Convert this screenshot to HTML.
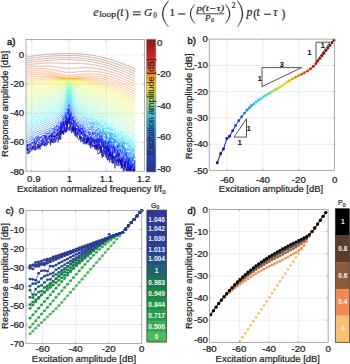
<!DOCTYPE html>
<html><head><meta charset="utf-8"><style>
html,body{margin:0;padding:0;background:#fff;}
body{width:350px;height:364px;overflow:hidden;position:relative;}
svg{position:absolute;left:0;top:0;font-family:'Liberation Sans', sans-serif;}
</style></head><body>
<svg width="350" height="364" viewBox="0 0 350 364">
<g font-family="'Liberation Serif', serif" fill="#1e1e1e" stroke="#1e1e1e" stroke-width="0.18"><text x="93.3" y="16.3" font-size="11.8" font-style="italic" >e</text><text x="99.2" y="17.3" font-size="7.6" font-style="normal" textLength="16.8" lengthAdjust="spacingAndGlyphs" >loop</text><text x="116.6" y="17.6" font-size="11.5" font-style="normal" >(</text><text x="120.2" y="16.3" font-size="11.8" font-style="italic" >t</text><text x="125.0" y="17.6" font-size="11.5" font-style="normal" >)</text><rect x="133.1" y="11.6" width="7.6" height="0.85" fill="#1e1e1e"/><rect x="133.1" y="14.3" width="7.6" height="0.85" fill="#1e1e1e"/><text x="144.0" y="16.4" font-size="11.2" font-style="italic" >G</text><text x="153.3" y="17.9" font-size="7.2" font-style="normal" >0</text><path d="M168.40,0.60 Q155.80,13.80 168.40,27.00 L168.55,26.70 Q157.80,13.80 168.55,0.90 Z" fill="#1e1e1e"/><text x="169.6" y="16.4" font-size="11.2" font-style="normal" >1</text><rect x="178.6" y="13.5" width="6.6" height="0.85" fill="#1e1e1e"/><path d="M194.80,4.20 Q185.20,13.90 194.80,23.60 L194.95,23.30 Q186.80,13.90 194.95,4.50 Z" fill="#1e1e1e"/><text x="196.4" y="11.1" font-size="8.0" font-style="italic" textLength="27.8" lengthAdjust="spacingAndGlyphs" >p(t&#8722;&#964;)</text><rect x="196.4" y="13.5" width="27.9" height="0.6" fill="#333"/><text x="205.0" y="20.6" font-size="8.8" font-style="italic" >P</text><text x="210.9" y="21.9" font-size="6.0" font-style="normal" >0</text><path d="M225.60,4.20 Q234.80,13.90 225.60,23.60 L225.45,23.30 Q233.20,13.90 225.45,4.50 Z" fill="#1e1e1e"/><text x="231.8" y="7.6" font-size="7.4" font-style="normal" >2</text><path d="M237.60,0.60 Q248.40,13.80 237.60,27.00 L237.45,26.70 Q246.40,13.80 237.45,0.90 Z" fill="#1e1e1e"/><text x="246.4" y="16.3" font-size="11.8" font-style="italic" >p</text><text x="253.2" y="17.6" font-size="11.5" font-style="normal" >(</text><text x="256.4" y="16.3" font-size="11.8" font-style="italic" >t</text><rect x="264.3" y="13.9" width="6.6" height="0.85" fill="#1e1e1e"/><text x="273.2" y="16.3" font-size="11.8" font-style="italic" >&#964;</text><text x="281.6" y="17.6" font-size="11.5" font-style="normal" >)</text></g>
<line x1="31.80" y1="39.4" x2="31.80" y2="171.2" stroke="#e3e3e3" stroke-width="0.6"/>
<line x1="69.10" y1="39.4" x2="69.10" y2="171.2" stroke="#e3e3e3" stroke-width="0.6"/>
<line x1="106.40" y1="39.4" x2="106.40" y2="171.2" stroke="#e3e3e3" stroke-width="0.6"/>
<line x1="26" y1="54.90" x2="144.5" y2="54.90" stroke="#e3e3e3" stroke-width="0.6"/>
<line x1="26" y1="84.05" x2="144.5" y2="84.05" stroke="#e3e3e3" stroke-width="0.6"/>
<line x1="26" y1="113.20" x2="144.5" y2="113.20" stroke="#e3e3e3" stroke-width="0.6"/>
<line x1="26" y1="142.35" x2="144.5" y2="142.35" stroke="#e3e3e3" stroke-width="0.6"/>
<clipPath id="ca"><rect x="26" y="39.4" width="118.5" height="131.79999999999998"/></clipPath>
<g clip-path="url(#ca)" fill="none" stroke-width="0.85" stroke-opacity="0.55" stroke-linejoin="round">
<polyline points="26.2,56.9 26.6,56.9 27.0,56.8 27.5,56.7 27.9,56.7 28.3,56.6 28.7,56.5 29.1,56.5 29.6,56.4 30.0,56.3 30.4,56.3 30.8,56.2 31.3,56.2 31.7,56.1 32.1,56.0 32.5,56.0 32.9,55.9 33.4,55.9 33.8,55.8 34.2,55.8 34.6,55.7 35.0,55.6 35.5,55.6 35.9,55.5 36.3,55.5 36.7,55.4 37.1,55.4 37.6,55.3 38.0,55.3 38.4,55.2 38.8,55.2 39.2,55.1 39.7,55.1 40.1,55.0 40.5,55.0 40.9,54.9 41.3,54.9 41.8,54.9 42.2,54.8 42.6,54.8 43.0,54.7 43.4,54.7 43.9,54.6 44.3,54.6 44.7,54.6 45.1,54.5 45.5,54.5 46.0,54.5 46.4,54.4 46.8,54.4 47.2,54.3 47.7,54.3 48.1,54.3 48.5,54.2 48.9,54.2 49.3,54.2 49.8,54.2 50.2,54.1 50.6,54.1 51.0,54.1 51.4,54.0 51.9,54.0 52.3,54.0 52.7,54.0 53.1,53.9 53.5,53.9 54.0,53.9 54.4,53.9 54.8,53.8 55.2,53.8 55.6,53.8 56.1,53.8 56.5,53.7 56.9,53.7 57.3,53.7 57.7,53.7 58.2,53.7 58.6,53.7 59.0,53.6 59.4,53.6 59.8,53.6 60.3,53.6 60.7,53.6 61.1,53.6 61.5,53.6 61.9,53.5 62.4,53.5 62.8,53.5 63.2,53.5 63.6,53.5 64.1,53.5 64.5,53.5 64.9,53.5 65.3,53.5 65.7,53.5 66.2,53.5 66.6,53.5 67.0,53.5 67.4,53.4 67.8,53.4 68.3,53.4 68.7,53.4 69.1,53.4 69.5,53.4 69.9,53.4 70.4,53.4 70.8,53.5 71.2,53.5 71.6,53.5 72.0,53.5 72.5,53.5 72.9,53.5 73.3,53.5 73.7,53.5 74.1,53.5 74.6,53.5 75.0,53.6 75.4,53.6 75.8,53.6 76.2,53.6 76.7,53.6 77.1,53.7 77.5,53.7 77.9,53.7 78.4,53.7 78.8,53.8 79.2,53.8 79.6,53.8 80.0,53.9 80.5,53.9 80.9,53.9 81.3,54.0 81.7,54.0 82.1,54.0 82.6,54.1 83.0,54.1 83.4,54.2 83.8,54.2 84.2,54.3 84.7,54.3 85.1,54.3 85.5,54.4 85.9,54.4 86.3,54.5 86.8,54.5 87.2,54.6 87.6,54.7 88.0,54.7 88.4,54.8 88.9,54.8 89.3,54.9 89.7,54.9 90.1,55.0 90.5,55.1 91.0,55.1 91.4,55.2 91.8,55.3 92.2,55.3 92.6,55.4 93.1,55.5 93.5,55.5 93.9,55.6 94.3,55.7 94.8,55.8 95.2,55.8 95.6,55.9 96.0,56.0 96.4,56.1 96.9,56.2 97.3,56.3 97.7,56.3 98.1,56.4 98.5,56.5 99.0,56.6 99.4,56.7 99.8,56.8 100.2,56.9 100.6,57.0 101.1,57.1 101.5,57.2 101.9,57.3 102.3,57.4 102.7,57.4 103.2,57.6 103.6,57.7 104.0,57.8 104.4,57.9 104.8,58.0 105.3,58.1 105.7,58.2 106.1,58.3 106.5,58.4 106.9,58.5 107.4,58.6 107.8,58.7 108.2,58.9 108.6,59.0 109.0,59.1 109.5,59.2 109.9,59.3 110.3,59.5 110.7,59.6 111.2,59.7 111.6,59.8 112.0,60.0 112.4,60.1 112.8,60.2 113.3,60.3 113.7,60.5 114.1,60.6 114.5,60.7 114.9,60.9 115.4,61.0 115.8,61.2 116.2,61.3 116.6,61.4 117.0,61.6 117.5,61.7 117.9,61.9 118.3,62.0 118.7,62.2 119.1,62.3 119.6,62.5 120.0,62.6 120.4,62.8 120.8,62.9 121.2,63.1 121.7,63.2 122.1,63.4 122.5,63.5 122.9,63.7 123.3,63.9 123.8,64.0 124.2,64.2 124.6,64.4 125.0,64.5 125.4,64.7 125.9,64.9 126.3,65.0 126.7,65.2 127.1,65.4 127.6,65.5 128.0,65.7 128.4,65.9 128.8,66.1 129.2,66.2 129.7,66.4 130.1,66.6 130.5,66.8 130.9,67.0 131.3,67.2 131.8,67.3 132.2,67.5 132.6,67.7 133.0,67.9 133.4,68.1 133.9,68.3 134.3,68.5 134.7,68.7 135.1,68.9" stroke="#803820" stroke-opacity="0.45"/>
<polyline points="26.2,59.0 26.6,58.9 27.0,58.8 27.5,58.8 27.9,58.7 28.3,58.6 28.7,58.6 29.1,58.5 29.6,58.4 30.0,58.4 30.4,58.3 30.8,58.3 31.3,58.2 31.7,58.1 32.1,58.1 32.5,58.0 32.9,58.0 33.4,57.9 33.8,57.8 34.2,57.8 34.6,57.7 35.0,57.7 35.5,57.6 35.9,57.6 36.3,57.5 36.7,57.5 37.1,57.4 37.6,57.4 38.0,57.3 38.4,57.3 38.8,57.2 39.2,57.2 39.7,57.1 40.1,57.1 40.5,57.0 40.9,57.0 41.3,56.9 41.8,56.9 42.2,56.9 42.6,56.8 43.0,56.8 43.4,56.7 43.9,56.7 44.3,56.7 44.7,56.6 45.1,56.6 45.5,56.5 46.0,56.5 46.4,56.5 46.8,56.4 47.2,56.4 47.7,56.4 48.1,56.3 48.5,56.3 48.9,56.3 49.3,56.2 49.8,56.2 50.2,56.2 50.6,56.1 51.0,56.1 51.4,56.1 51.9,56.0 52.3,56.0 52.7,56.0 53.1,56.0 53.5,55.9 54.0,55.9 54.4,55.9 54.8,55.9 55.2,55.8 55.6,55.8 56.1,55.8 56.5,55.8 56.9,55.8 57.3,55.7 57.7,55.7 58.2,55.7 58.6,55.7 59.0,55.7 59.4,55.7 59.8,55.6 60.3,55.6 60.7,55.6 61.1,55.6 61.5,55.6 61.9,55.6 62.4,55.6 62.8,55.6 63.2,55.5 63.6,55.5 64.1,55.5 64.5,55.5 64.9,55.5 65.3,55.5 65.7,55.5 66.2,55.5 66.6,55.5 67.0,55.5 67.4,55.5 67.8,55.5 68.3,55.5 68.7,55.5 69.1,55.5 69.5,55.5 69.9,55.5 70.4,55.5 70.8,55.5 71.2,55.5 71.6,55.5 72.0,55.5 72.5,55.5 72.9,55.5 73.3,55.6 73.7,55.6 74.1,55.6 74.6,55.6 75.0,55.6 75.4,55.6 75.8,55.7 76.2,55.7 76.7,55.7 77.1,55.7 77.5,55.8 77.9,55.8 78.4,55.8 78.8,55.9 79.2,55.9 79.6,55.9 80.0,56.0 80.5,56.0 80.9,56.0 81.3,56.1 81.7,56.1 82.1,56.1 82.6,56.2 83.0,56.2 83.4,56.3 83.8,56.3 84.2,56.4 84.7,56.4 85.1,56.5 85.5,56.5 85.9,56.6 86.3,56.6 86.8,56.7 87.2,56.7 87.6,56.8 88.0,56.9 88.4,56.9 88.9,57.0 89.3,57.0 89.7,57.1 90.1,57.2 90.5,57.2 91.0,57.3 91.4,57.4 91.8,57.4 92.2,57.5 92.6,57.6 93.1,57.7 93.5,57.7 93.9,57.8 94.3,57.9 94.8,58.0 95.2,58.0 95.6,58.1 96.0,58.2 96.4,58.3 96.9,58.4 97.3,58.5 97.7,58.6 98.1,58.6 98.5,58.7 99.0,58.8 99.4,58.9 99.8,59.0 100.2,59.1 100.6,59.2 101.1,59.3 101.5,59.4 101.9,59.5 102.3,59.6 102.7,59.7 103.2,59.8 103.6,59.9 104.0,60.0 104.4,60.1 104.8,60.2 105.3,60.3 105.7,60.5 106.1,60.6 106.5,60.7 106.9,60.8 107.4,60.9 107.8,61.0 108.2,61.2 108.6,61.3 109.0,61.4 109.5,61.5 109.9,61.6 110.3,61.8 110.7,61.9 111.2,62.0 111.6,62.2 112.0,62.3 112.4,62.4 112.8,62.6 113.3,62.7 113.7,62.8 114.1,63.0 114.5,63.1 114.9,63.2 115.4,63.4 115.8,63.5 116.2,63.7 116.6,63.8 117.0,64.0 117.5,64.1 117.9,64.3 118.3,64.4 118.7,64.6 119.1,64.7 119.6,64.9 120.0,65.0 120.4,65.2 120.8,65.3 121.2,65.5 121.7,65.6 122.1,65.8 122.5,66.0 122.9,66.1 123.3,66.3 123.8,66.5 124.2,66.6 124.6,66.8 125.0,67.0 125.4,67.1 125.9,67.3 126.3,67.5 126.7,67.7 127.1,67.8 127.6,68.0 128.0,68.2 128.4,68.4 128.8,68.6 129.2,68.7 129.7,68.9 130.1,69.1 130.5,69.3 130.9,69.5 131.3,69.7 131.8,69.9 132.2,70.1 132.6,70.2 133.0,70.4 133.4,70.6 133.9,70.8 134.3,71.0 134.7,71.2 135.1,71.4" stroke="#8f3820" stroke-opacity="0.45"/>
<polyline points="26.2,61.0 26.6,60.9 27.0,60.9 27.5,60.8 27.9,60.7 28.3,60.7 28.7,60.6 29.1,60.5 29.6,60.5 30.0,60.4 30.4,60.4 30.8,60.3 31.3,60.2 31.7,60.2 32.1,60.1 32.5,60.1 32.9,60.0 33.4,59.9 33.8,59.9 34.2,59.8 34.6,59.8 35.0,59.7 35.5,59.7 35.9,59.6 36.3,59.6 36.7,59.5 37.1,59.5 37.6,59.4 38.0,59.4 38.4,59.3 38.8,59.3 39.2,59.2 39.7,59.2 40.1,59.1 40.5,59.1 40.9,59.0 41.3,59.0 41.8,58.9 42.2,58.9 42.6,58.9 43.0,58.8 43.4,58.8 43.9,58.7 44.3,58.7 44.7,58.7 45.1,58.6 45.5,58.6 46.0,58.5 46.4,58.5 46.8,58.5 47.2,58.4 47.7,58.4 48.1,58.4 48.5,58.3 48.9,58.3 49.3,58.3 49.8,58.2 50.2,58.2 50.6,58.2 51.0,58.1 51.4,58.1 51.9,58.1 52.3,58.1 52.7,58.0 53.1,58.0 53.5,58.0 54.0,58.0 54.4,57.9 54.8,57.9 55.2,57.9 55.6,57.9 56.1,57.8 56.5,57.8 56.9,57.8 57.3,57.8 57.7,57.8 58.2,57.8 58.6,57.7 59.0,57.7 59.4,57.7 59.8,57.7 60.3,57.7 60.7,57.7 61.1,57.6 61.5,57.6 61.9,57.6 62.4,57.6 62.8,57.6 63.2,57.6 63.6,57.6 64.1,57.6 64.5,57.6 64.9,57.6 65.3,57.6 65.7,57.5 66.2,57.5 66.6,57.5 67.0,57.5 67.4,57.5 67.8,57.5 68.3,57.5 68.7,57.5 69.1,57.5 69.5,57.5 69.9,57.5 70.4,57.5 70.8,57.5 71.2,57.6 71.6,57.6 72.0,57.6 72.5,57.6 72.9,57.6 73.3,57.6 73.7,57.6 74.1,57.6 74.6,57.7 75.0,57.7 75.4,57.7 75.8,57.7 76.2,57.8 76.7,57.8 77.1,57.8 77.5,57.8 77.9,57.9 78.4,57.9 78.8,57.9 79.2,58.0 79.6,58.0 80.0,58.0 80.5,58.1 80.9,58.1 81.3,58.2 81.7,58.2 82.1,58.2 82.6,58.3 83.0,58.3 83.4,58.4 83.8,58.4 84.2,58.5 84.7,58.5 85.1,58.6 85.5,58.6 85.9,58.7 86.3,58.8 86.8,58.8 87.2,58.9 87.6,58.9 88.0,59.0 88.4,59.1 88.9,59.1 89.3,59.2 89.7,59.3 90.1,59.3 90.5,59.4 91.0,59.5 91.4,59.5 91.8,59.6 92.2,59.7 92.6,59.8 93.1,59.8 93.5,59.9 93.9,60.0 94.3,60.1 94.8,60.2 95.2,60.2 95.6,60.3 96.0,60.4 96.4,60.5 96.9,60.6 97.3,60.7 97.7,60.8 98.1,60.9 98.5,60.9 99.0,61.0 99.4,61.1 99.8,61.2 100.2,61.3 100.6,61.4 101.1,61.5 101.5,61.6 101.9,61.7 102.3,61.8 102.7,62.0 103.2,62.1 103.6,62.2 104.0,62.3 104.4,62.4 104.8,62.5 105.3,62.6 105.7,62.7 106.1,62.9 106.5,63.0 106.9,63.1 107.4,63.2 107.8,63.3 108.2,63.5 108.6,63.6 109.0,63.7 109.5,63.8 109.9,64.0 110.3,64.1 110.7,64.2 111.2,64.4 111.6,64.5 112.0,64.6 112.4,64.8 112.8,64.9 113.3,65.0 113.7,65.2 114.1,65.3 114.5,65.5 114.9,65.6 115.4,65.7 115.8,65.9 116.2,66.0 116.6,66.2 117.0,66.3 117.5,66.5 117.9,66.6 118.3,66.8 118.7,66.9 119.1,67.1 119.6,67.3 120.0,67.4 120.4,67.6 120.8,67.7 121.2,67.9 121.7,68.1 122.1,68.2 122.5,68.4 122.9,68.6 123.3,68.7 123.8,68.9 124.2,69.1 124.6,69.2 125.0,69.4 125.4,69.6 125.9,69.8 126.3,70.0 126.7,70.1 127.1,70.3 127.6,70.5 128.0,70.7 128.4,70.9 128.8,71.0 129.2,71.2 129.7,71.4 130.1,71.6 130.5,71.8 130.9,72.0 131.3,72.2 131.8,72.4 132.2,72.6 132.6,72.8 133.0,73.0 133.4,73.2 133.9,73.4 134.3,73.6 134.7,73.8 135.1,74.0" stroke="#9f3820" stroke-opacity="0.45"/>
<polyline points="26.2,63.1 26.6,63.0 27.0,62.9 27.5,62.9 27.9,62.8 28.3,62.7 28.7,62.7 29.1,62.6 29.6,62.5 30.0,62.5 30.4,62.4 30.8,62.3 31.3,62.3 31.7,62.2 32.1,62.2 32.5,62.1 32.9,62.0 33.4,62.0 33.8,61.9 34.2,61.9 34.6,61.8 35.0,61.8 35.5,61.7 35.9,61.7 36.3,61.6 36.7,61.6 37.1,61.5 37.6,61.5 38.0,61.4 38.4,61.4 38.8,61.3 39.2,61.3 39.7,61.2 40.1,61.2 40.5,61.1 40.9,61.1 41.3,61.0 41.8,61.0 42.2,60.9 42.6,60.9 43.0,60.9 43.4,60.8 43.9,60.8 44.3,60.7 44.7,60.7 45.1,60.7 45.5,60.6 46.0,60.6 46.4,60.5 46.8,60.5 47.2,60.5 47.7,60.4 48.1,60.4 48.5,60.4 48.9,60.3 49.3,60.3 49.8,60.3 50.2,60.2 50.6,60.2 51.0,60.2 51.4,60.2 51.9,60.1 52.3,60.1 52.7,60.1 53.1,60.0 53.5,60.0 54.0,60.0 54.4,60.0 54.8,60.0 55.2,59.9 55.6,59.9 56.1,59.9 56.5,59.9 56.9,59.8 57.3,59.8 57.7,59.8 58.2,59.8 58.6,59.8 59.0,59.8 59.4,59.7 59.8,59.7 60.3,59.7 60.7,59.7 61.1,59.7 61.5,59.7 61.9,59.7 62.4,59.6 62.8,59.6 63.2,59.6 63.6,59.6 64.1,59.6 64.5,59.6 64.9,59.6 65.3,59.6 65.7,59.6 66.2,59.6 66.6,59.6 67.0,59.6 67.4,59.6 67.8,59.6 68.3,59.6 68.7,59.6 69.1,59.6 69.5,59.6 69.9,59.6 70.4,59.6 70.8,59.6 71.2,59.6 71.6,59.6 72.0,59.6 72.5,59.6 72.9,59.7 73.3,59.7 73.7,59.7 74.1,59.7 74.6,59.7 75.0,59.8 75.4,59.8 75.8,59.8 76.2,59.8 76.7,59.9 77.1,59.9 77.5,59.9 77.9,60.0 78.4,60.0 78.8,60.0 79.2,60.1 79.6,60.1 80.0,60.1 80.5,60.2 80.9,60.2 81.3,60.3 81.7,60.3 82.1,60.4 82.6,60.4 83.0,60.4 83.4,60.5 83.8,60.5 84.2,60.6 84.7,60.7 85.1,60.7 85.5,60.8 85.9,60.8 86.3,60.9 86.8,60.9 87.2,61.0 87.6,61.1 88.0,61.1 88.4,61.2 88.9,61.3 89.3,61.3 89.7,61.4 90.1,61.5 90.5,61.5 91.0,61.6 91.4,61.7 91.8,61.8 92.2,61.8 92.6,61.9 93.1,62.0 93.5,62.1 93.9,62.2 94.3,62.3 94.8,62.3 95.2,62.4 95.6,62.5 96.0,62.6 96.4,62.7 96.9,62.8 97.3,62.9 97.7,63.0 98.1,63.1 98.5,63.2 99.0,63.3 99.4,63.4 99.8,63.5 100.2,63.6 100.6,63.7 101.1,63.8 101.5,63.9 101.9,64.0 102.3,64.1 102.7,64.2 103.2,64.3 103.6,64.4 104.0,64.5 104.4,64.7 104.8,64.8 105.3,64.9 105.7,65.0 106.1,65.1 106.5,65.3 106.9,65.4 107.4,65.5 107.8,65.6 108.2,65.8 108.6,65.9 109.0,66.0 109.5,66.1 109.9,66.3 110.3,66.4 110.7,66.5 111.2,66.7 111.6,66.8 112.0,67.0 112.4,67.1 112.8,67.2 113.3,67.4 113.7,67.5 114.1,67.7 114.5,67.8 114.9,68.0 115.4,68.1 115.8,68.3 116.2,68.4 116.6,68.6 117.0,68.7 117.5,68.9 117.9,69.0 118.3,69.2 118.7,69.3 119.1,69.5 119.6,69.7 120.0,69.8 120.4,70.0 120.8,70.2 121.2,70.3 121.7,70.5 122.1,70.7 122.5,70.8 122.9,71.0 123.3,71.2 123.8,71.3 124.2,71.5 124.6,71.7 125.0,71.9 125.4,72.1 125.9,72.2 126.3,72.4 126.7,72.6 127.1,72.8 127.6,73.0 128.0,73.2 128.4,73.3 128.8,73.5 129.2,73.7 129.7,73.9 130.1,74.1 130.5,74.3 130.9,74.5 131.3,74.7 131.8,74.9 132.2,75.1 132.6,75.3 133.0,75.5 133.4,75.7 133.9,75.9 134.3,76.1 134.7,76.3 135.1,76.5" stroke="#b43820" stroke-opacity="0.45"/>
<polyline points="26.2,65.1 26.6,65.0 27.0,65.0 27.5,64.9 27.9,64.8 28.3,64.8 28.7,64.7 29.1,64.7 29.6,64.6 30.0,64.6 30.4,64.5 30.8,64.4 31.3,64.4 31.7,64.3 32.1,64.3 32.5,64.2 32.9,64.2 33.4,64.1 33.8,64.1 34.2,64.0 34.6,64.0 35.0,63.9 35.5,63.9 35.9,63.9 36.3,63.8 36.7,63.8 37.1,63.7 37.6,63.7 38.0,63.6 38.4,63.6 38.8,63.6 39.2,63.5 39.7,63.5 40.1,63.5 40.5,63.4 40.9,63.4 41.3,63.4 41.8,63.3 42.2,63.3 42.6,63.3 43.0,63.2 43.4,63.2 43.9,63.2 44.3,63.2 44.7,63.1 45.1,63.1 45.5,63.1 46.0,63.1 46.4,63.1 46.8,63.0 47.2,63.0 47.7,63.0 48.1,63.0 48.5,63.0 48.9,63.0 49.3,63.0 49.8,63.0 50.2,63.0 50.6,62.9 51.0,62.9 51.4,62.9 51.9,62.9 52.3,62.9 52.7,62.9 53.1,62.9 53.5,62.9 54.0,62.9 54.4,62.9 54.8,62.9 55.2,63.0 55.6,63.0 56.1,63.0 56.5,63.0 56.9,63.0 57.3,63.0 57.7,63.0 58.2,63.0 58.6,63.0 59.0,63.1 59.4,63.1 59.8,63.1 60.3,63.1 60.7,63.1 61.1,63.1 61.5,63.2 61.9,63.2 62.4,63.2 62.8,63.2 63.2,63.2 63.6,63.2 64.1,63.3 64.5,63.3 64.9,63.3 65.3,63.3 65.7,63.3 66.2,63.3 66.6,63.3 67.0,63.3 67.4,63.3 67.8,63.3 68.3,63.4 68.7,63.4 69.1,63.4 69.5,63.4 69.9,63.4 70.4,63.4 70.8,63.4 71.2,63.4 71.6,63.4 72.0,63.4 72.5,63.4 72.9,63.4 73.3,63.4 73.7,63.4 74.1,63.4 74.6,63.4 75.0,63.4 75.4,63.4 75.8,63.4 76.2,63.4 76.7,63.4 77.1,63.4 77.5,63.4 77.9,63.4 78.4,63.4 78.8,63.4 79.2,63.5 79.6,63.5 80.0,63.5 80.5,63.5 80.9,63.5 81.3,63.5 81.7,63.5 82.1,63.6 82.6,63.6 83.0,63.6 83.4,63.6 83.8,63.7 84.2,63.7 84.7,63.7 85.1,63.8 85.5,63.8 85.9,63.8 86.3,63.9 86.8,63.9 87.2,64.0 87.6,64.0 88.0,64.1 88.4,64.1 88.9,64.2 89.3,64.2 89.7,64.3 90.1,64.3 90.5,64.4 91.0,64.4 91.4,64.5 91.8,64.6 92.2,64.6 92.6,64.7 93.1,64.8 93.5,64.8 93.9,64.9 94.3,65.0 94.8,65.0 95.2,65.1 95.6,65.2 96.0,65.3 96.4,65.4 96.9,65.4 97.3,65.5 97.7,65.6 98.1,65.7 98.5,65.8 99.0,65.9 99.4,66.0 99.8,66.1 100.2,66.2 100.6,66.3 101.1,66.4 101.5,66.5 101.9,66.6 102.3,66.7 102.7,66.8 103.2,66.9 103.6,67.0 104.0,67.1 104.4,67.2 104.8,67.3 105.3,67.4 105.7,67.5 106.1,67.7 106.5,67.8 106.9,67.9 107.4,68.0 107.8,68.1 108.2,68.3 108.6,68.4 109.0,68.5 109.5,68.6 109.9,68.8 110.3,68.9 110.7,69.0 111.2,69.2 111.6,69.3 112.0,69.4 112.4,69.6 112.8,69.7 113.3,69.9 113.7,70.0 114.1,70.2 114.5,70.3 114.9,70.4 115.4,70.6 115.8,70.7 116.2,70.9 116.6,71.0 117.0,71.2 117.5,71.4 117.9,71.5 118.3,71.7 118.7,71.8 119.1,72.0 119.6,72.1 120.0,72.3 120.4,72.5 120.8,72.6 121.2,72.8 121.7,73.0 122.1,73.1 122.5,73.3 122.9,73.5 123.3,73.7 123.8,73.8 124.2,74.0 124.6,74.2 125.0,74.4 125.4,74.6 125.9,74.7 126.3,74.9 126.7,75.1 127.1,75.3 127.6,75.5 128.0,75.7 128.4,75.9 128.8,76.0 129.2,76.2 129.7,76.4 130.1,76.6 130.5,76.8 130.9,77.0 131.3,77.2 131.8,77.4 132.2,77.6 132.6,77.8 133.0,78.0 133.4,78.2 133.9,78.4 134.3,78.7 134.7,78.9 135.1,79.1" stroke="#cb3820" stroke-opacity="0.45"/>
<polyline points="26.2,67.1 26.6,67.1 27.0,67.0 27.5,67.0 27.9,66.9 28.3,66.9 28.7,66.8 29.1,66.8 29.6,66.8 30.0,66.7 30.4,66.7 30.8,66.6 31.3,66.6 31.7,66.5 32.1,66.5 32.5,66.5 32.9,66.4 33.4,66.4 33.8,66.4 34.2,66.3 34.6,66.3 35.0,66.3 35.5,66.3 35.9,66.2 36.3,66.2 36.7,66.2 37.1,66.2 37.6,66.1 38.0,66.1 38.4,66.1 38.8,66.1 39.2,66.1 39.7,66.1 40.1,66.1 40.5,66.1 40.9,66.0 41.3,66.0 41.8,66.0 42.2,66.0 42.6,66.0 43.0,66.0 43.4,66.0 43.9,66.0 44.3,66.0 44.7,66.0 45.1,66.1 45.5,66.1 46.0,66.1 46.4,66.1 46.8,66.1 47.2,66.1 47.7,66.2 48.1,66.2 48.5,66.2 48.9,66.2 49.3,66.3 49.8,66.3 50.2,66.3 50.6,66.4 51.0,66.4 51.4,66.4 51.9,66.5 52.3,66.5 52.7,66.5 53.1,66.6 53.5,66.6 54.0,66.7 54.4,66.7 54.8,66.8 55.2,66.8 55.6,66.9 56.1,67.0 56.5,67.0 56.9,67.1 57.3,67.1 57.7,67.2 58.2,67.2 58.6,67.3 59.0,67.4 59.4,67.4 59.8,67.5 60.3,67.5 60.7,67.6 61.1,67.7 61.5,67.7 61.9,67.8 62.4,67.8 62.8,67.9 63.2,67.9 63.6,68.0 64.1,68.0 64.5,68.1 64.9,68.1 65.3,68.1 65.7,68.2 66.2,68.2 66.6,68.2 67.0,68.3 67.4,68.3 67.8,68.3 68.3,68.3 68.7,68.3 69.1,68.3 69.5,68.3 69.9,68.3 70.4,68.3 70.8,68.3 71.2,68.3 71.6,68.3 72.0,68.3 72.5,68.3 72.9,68.2 73.3,68.2 73.7,68.2 74.1,68.2 74.6,68.2 75.0,68.1 75.4,68.1 75.8,68.1 76.2,68.1 76.7,68.0 77.1,68.0 77.5,68.0 77.9,68.0 78.4,67.9 78.8,67.9 79.2,67.9 79.6,67.9 80.0,67.8 80.5,67.8 80.9,67.8 81.3,67.8 81.7,67.8 82.1,67.7 82.6,67.7 83.0,67.7 83.4,67.7 83.8,67.7 84.2,67.7 84.7,67.7 85.1,67.7 85.5,67.7 85.9,67.7 86.3,67.7 86.8,67.7 87.2,67.7 87.6,67.7 88.0,67.7 88.4,67.8 88.9,67.8 89.3,67.8 89.7,67.8 90.1,67.8 90.5,67.9 91.0,67.9 91.4,67.9 91.8,68.0 92.2,68.0 92.6,68.1 93.1,68.1 93.5,68.1 93.9,68.2 94.3,68.2 94.8,68.3 95.2,68.3 95.6,68.4 96.0,68.5 96.4,68.5 96.9,68.6 97.3,68.6 97.7,68.7 98.1,68.8 98.5,68.9 99.0,68.9 99.4,69.0 99.8,69.1 100.2,69.2 100.6,69.2 101.1,69.3 101.5,69.4 101.9,69.5 102.3,69.6 102.7,69.7 103.2,69.8 103.6,69.9 104.0,70.0 104.4,70.1 104.8,70.2 105.3,70.3 105.7,70.4 106.1,70.5 106.5,70.6 106.9,70.7 107.4,70.8 107.8,70.9 108.2,71.0 108.6,71.1 109.0,71.3 109.5,71.4 109.9,71.5 110.3,71.6 110.7,71.8 111.2,71.9 111.6,72.0 112.0,72.1 112.4,72.3 112.8,72.4 113.3,72.5 113.7,72.7 114.1,72.8 114.5,73.0 114.9,73.1 115.4,73.2 115.8,73.4 116.2,73.5 116.6,73.7 117.0,73.8 117.5,74.0 117.9,74.1 118.3,74.3 118.7,74.4 119.1,74.6 119.6,74.8 120.0,74.9 120.4,75.1 120.8,75.2 121.2,75.4 121.7,75.6 122.1,75.7 122.5,75.9 122.9,76.1 123.3,76.2 123.8,76.4 124.2,76.6 124.6,76.8 125.0,76.9 125.4,77.1 125.9,77.3 126.3,77.5 126.7,77.7 127.1,77.9 127.6,78.0 128.0,78.2 128.4,78.4 128.8,78.6 129.2,78.8 129.7,79.0 130.1,79.2 130.5,79.4 130.9,79.6 131.3,79.8 131.8,80.0 132.2,80.2 132.6,80.4 133.0,80.6 133.4,80.8 133.9,81.0 134.3,81.2 134.7,81.4 135.1,81.6" stroke="#e4381f" stroke-opacity="0.46"/>
<polyline points="26.2,69.2 26.6,69.1 27.0,69.1 27.5,69.1 27.9,69.0 28.3,69.0 28.7,68.9 29.1,68.9 29.6,68.9 30.0,68.9 30.4,68.8 30.8,68.8 31.3,68.8 31.7,68.7 32.1,68.7 32.5,68.7 32.9,68.7 33.4,68.7 33.8,68.6 34.2,68.6 34.6,68.6 35.0,68.6 35.5,68.6 35.9,68.6 36.3,68.6 36.7,68.6 37.1,68.6 37.6,68.6 38.0,68.6 38.4,68.6 38.8,68.6 39.2,68.6 39.7,68.6 40.1,68.6 40.5,68.6 40.9,68.6 41.3,68.6 41.8,68.6 42.2,68.7 42.6,68.7 43.0,68.7 43.4,68.7 43.9,68.8 44.3,68.8 44.7,68.8 45.1,68.9 45.5,68.9 46.0,68.9 46.4,69.0 46.8,69.0 47.2,69.1 47.7,69.1 48.1,69.2 48.5,69.2 48.9,69.3 49.3,69.3 49.8,69.4 50.2,69.4 50.6,69.5 51.0,69.6 51.4,69.6 51.9,69.7 52.3,69.8 52.7,69.8 53.1,69.9 53.5,70.0 54.0,70.1 54.4,70.1 54.8,70.2 55.2,70.3 55.6,70.4 56.1,70.5 56.5,70.6 56.9,70.6 57.3,70.7 57.7,70.8 58.2,70.9 58.6,71.0 59.0,71.1 59.4,71.2 59.8,71.2 60.3,71.3 60.7,71.4 61.1,71.5 61.5,71.6 61.9,71.7 62.4,71.7 62.8,71.8 63.2,71.9 63.6,71.9 64.1,72.0 64.5,72.1 64.9,72.1 65.3,72.2 65.7,72.2 66.2,72.3 66.6,72.3 67.0,72.3 67.4,72.3 67.8,72.4 68.3,72.4 68.7,72.4 69.1,72.4 69.5,72.4 69.9,72.4 70.4,72.4 70.8,72.4 71.2,72.4 71.6,72.4 72.0,72.3 72.5,72.3 72.9,72.3 73.3,72.3 73.7,72.2 74.1,72.2 74.6,72.2 75.0,72.1 75.4,72.1 75.8,72.0 76.2,72.0 76.7,72.0 77.1,71.9 77.5,71.9 77.9,71.8 78.4,71.8 78.8,71.7 79.2,71.7 79.6,71.7 80.0,71.6 80.5,71.6 80.9,71.5 81.3,71.5 81.7,71.5 82.1,71.4 82.6,71.4 83.0,71.3 83.4,71.3 83.8,71.3 84.2,71.3 84.7,71.2 85.1,71.2 85.5,71.2 85.9,71.2 86.3,71.2 86.8,71.1 87.2,71.1 87.6,71.1 88.0,71.1 88.4,71.1 88.9,71.1 89.3,71.1 89.7,71.1 90.1,71.1 90.5,71.1 91.0,71.1 91.4,71.2 91.8,71.2 92.2,71.2 92.6,71.2 93.1,71.2 93.5,71.3 93.9,71.3 94.3,71.3 94.8,71.4 95.2,71.4 95.6,71.5 96.0,71.5 96.4,71.5 96.9,71.6 97.3,71.6 97.7,71.7 98.1,71.8 98.5,71.8 99.0,71.9 99.4,71.9 99.8,72.0 100.2,72.1 100.6,72.1 101.1,72.2 101.5,72.3 101.9,72.4 102.3,72.4 102.7,72.5 103.2,72.6 103.6,72.7 104.0,72.8 104.4,72.9 104.8,73.0 105.3,73.0 105.7,73.1 106.1,73.2 106.5,73.3 106.9,73.4 107.4,73.5 107.8,73.6 108.2,73.8 108.6,73.9 109.0,74.0 109.5,74.1 109.9,74.2 110.3,74.3 110.7,74.4 111.2,74.6 111.6,74.7 112.0,74.8 112.4,74.9 112.8,75.1 113.3,75.2 113.7,75.3 114.1,75.5 114.5,75.6 114.9,75.7 115.4,75.9 115.8,76.0 116.2,76.1 116.6,76.3 117.0,76.4 117.5,76.6 117.9,76.7 118.3,76.9 118.7,77.0 119.1,77.2 119.6,77.3 120.0,77.5 120.4,77.7 120.8,77.8 121.2,78.0 121.7,78.1 122.1,78.3 122.5,78.5 122.9,78.6 123.3,78.8 123.8,79.0 124.2,79.2 124.6,79.3 125.0,79.5 125.4,79.7 125.9,79.9 126.3,80.0 126.7,80.2 127.1,80.4 127.6,80.6 128.0,80.8 128.4,81.0 128.8,81.2 129.2,81.3 129.7,81.5 130.1,81.7 130.5,81.9 130.9,82.1 131.3,82.3 131.8,82.5 132.2,82.7 132.6,82.9 133.0,83.1 133.4,83.3 133.9,83.5 134.3,83.8 134.7,84.0 135.1,84.2" stroke="#f73f1a" stroke-opacity="0.47"/>
<polyline points="26.2,71.2 26.6,71.2 27.0,71.1 27.5,71.1 27.9,71.1 28.3,71.1 28.7,71.0 29.1,71.0 29.6,71.0 30.0,70.9 30.4,70.9 30.8,70.9 31.3,70.9 31.7,70.9 32.1,70.8 32.5,70.8 32.9,70.8 33.4,70.8 33.8,70.8 34.2,70.8 34.6,70.8 35.0,70.8 35.5,70.8 35.9,70.8 36.3,70.8 36.7,70.8 37.1,70.8 37.6,70.8 38.0,70.8 38.4,70.8 38.8,70.8 39.2,70.8 39.7,70.8 40.1,70.9 40.5,70.9 40.9,70.9 41.3,70.9 41.8,71.0 42.2,71.0 42.6,71.0 43.0,71.0 43.4,71.1 43.9,71.1 44.3,71.2 44.7,71.2 45.1,71.2 45.5,71.3 46.0,71.3 46.4,71.4 46.8,71.4 47.2,71.5 47.7,71.6 48.1,71.6 48.5,71.7 48.9,71.8 49.3,71.8 49.8,71.9 50.2,72.0 50.6,72.0 51.0,72.1 51.4,72.2 51.9,72.3 52.3,72.4 52.7,72.4 53.1,72.5 53.5,72.6 54.0,72.7 54.4,72.8 54.8,72.9 55.2,73.0 55.6,73.1 56.1,73.2 56.5,73.3 56.9,73.4 57.3,73.5 57.7,73.6 58.2,73.7 58.6,73.8 59.0,73.9 59.4,74.0 59.8,74.0 60.3,74.1 60.7,74.2 61.1,74.3 61.5,74.4 61.9,74.5 62.4,74.6 62.8,74.7 63.2,74.7 63.6,74.8 64.1,74.9 64.5,74.9 64.9,75.0 65.3,75.1 65.7,75.1 66.2,75.2 66.6,75.2 67.0,75.2 67.4,75.3 67.8,75.3 68.3,75.3 68.7,75.3 69.1,75.3 69.5,75.3 69.9,75.3 70.4,75.3 70.8,75.3 71.2,75.3 71.6,75.3 72.0,75.2 72.5,75.2 72.9,75.2 73.3,75.2 73.7,75.1 74.1,75.1 74.6,75.1 75.0,75.0 75.4,75.0 75.8,74.9 76.2,74.9 76.7,74.8 77.1,74.8 77.5,74.7 77.9,74.7 78.4,74.6 78.8,74.6 79.2,74.5 79.6,74.5 80.0,74.4 80.5,74.4 80.9,74.3 81.3,74.3 81.7,74.3 82.1,74.2 82.6,74.2 83.0,74.1 83.4,74.1 83.8,74.1 84.2,74.0 84.7,74.0 85.1,74.0 85.5,73.9 85.9,73.9 86.3,73.9 86.8,73.9 87.2,73.8 87.6,73.8 88.0,73.8 88.4,73.8 88.9,73.8 89.3,73.8 89.7,73.8 90.1,73.8 90.5,73.8 91.0,73.8 91.4,73.8 91.8,73.8 92.2,73.8 92.6,73.9 93.1,73.9 93.5,73.9 93.9,73.9 94.3,74.0 94.8,74.0 95.2,74.0 95.6,74.1 96.0,74.1 96.4,74.1 96.9,74.2 97.3,74.2 97.7,74.3 98.1,74.3 98.5,74.4 99.0,74.4 99.4,74.5 99.8,74.6 100.2,74.6 100.6,74.7 101.1,74.8 101.5,74.8 101.9,74.9 102.3,75.0 102.7,75.1 103.2,75.1 103.6,75.2 104.0,75.3 104.4,75.4 104.8,75.5 105.3,75.6 105.7,75.7 106.1,75.8 106.5,75.9 106.9,76.0 107.4,76.1 107.8,76.2 108.2,76.3 108.6,76.4 109.0,76.5 109.5,76.6 109.9,76.7 110.3,76.8 110.7,76.9 111.2,77.1 111.6,77.2 112.0,77.3 112.4,77.4 112.8,77.6 113.3,77.7 113.7,77.8 114.1,77.9 114.5,78.1 114.9,78.2 115.4,78.4 115.8,78.5 116.2,78.6 116.6,78.8 117.0,78.9 117.5,79.1 117.9,79.2 118.3,79.4 118.7,79.5 119.1,79.7 119.6,79.8 120.0,80.0 120.4,80.2 120.8,80.3 121.2,80.5 121.7,80.6 122.1,80.8 122.5,81.0 122.9,81.1 123.3,81.3 123.8,81.5 124.2,81.7 124.6,81.8 125.0,82.0 125.4,82.2 125.9,82.4 126.3,82.6 126.7,82.7 127.1,82.9 127.6,83.1 128.0,83.3 128.4,83.5 128.8,83.7 129.2,83.9 129.7,84.1 130.1,84.3 130.5,84.5 130.9,84.7 131.3,84.9 131.8,85.1 132.2,85.3 132.6,85.5 133.0,85.7 133.4,85.9 133.9,86.1 134.3,86.3 134.7,86.5 135.1,86.7" stroke="#f75516" stroke-opacity="0.48"/>
<polyline points="26.2,73.3 26.6,73.2 27.0,73.2 27.5,73.1 27.9,73.1 28.3,73.1 28.7,73.1 29.1,73.0 29.6,73.0 30.0,73.0 30.4,72.9 30.8,72.9 31.3,72.9 31.7,72.9 32.1,72.9 32.5,72.8 32.9,72.8 33.4,72.8 33.8,72.8 34.2,72.8 34.6,72.8 35.0,72.8 35.5,72.8 35.9,72.8 36.3,72.8 36.7,72.8 37.1,72.8 37.6,72.8 38.0,72.8 38.4,72.8 38.8,72.8 39.2,72.8 39.7,72.8 40.1,72.8 40.5,72.8 40.9,72.9 41.3,72.9 41.8,72.9 42.2,72.9 42.6,73.0 43.0,73.0 43.4,73.0 43.9,73.1 44.3,73.1 44.7,73.1 45.1,73.2 45.5,73.2 46.0,73.3 46.4,73.3 46.8,73.4 47.2,73.4 47.7,73.5 48.1,73.5 48.5,73.6 48.9,73.6 49.3,73.7 49.8,73.8 50.2,73.8 50.6,73.9 51.0,74.0 51.4,74.1 51.9,74.1 52.3,74.2 52.7,74.3 53.1,74.4 53.5,74.5 54.0,74.5 54.4,74.6 54.8,74.7 55.2,74.8 55.6,74.9 56.1,75.0 56.5,75.1 56.9,75.2 57.3,75.3 57.7,75.4 58.2,75.5 58.6,75.6 59.0,75.6 59.4,75.7 59.8,75.8 60.3,75.9 60.7,76.0 61.1,76.1 61.5,76.2 61.9,76.3 62.4,76.4 62.8,76.4 63.2,76.5 63.6,76.6 64.1,76.6 64.5,76.7 64.9,76.8 65.3,76.8 65.7,76.9 66.2,76.9 66.6,76.9 67.0,77.0 67.4,77.0 67.8,77.0 68.3,77.0 68.7,77.1 69.1,77.1 69.5,77.1 69.9,77.1 70.4,77.1 70.8,77.1 71.2,77.0 71.6,77.0 72.0,77.0 72.5,77.0 72.9,77.0 73.3,76.9 73.7,76.9 74.1,76.9 74.6,76.8 75.0,76.8 75.4,76.8 75.8,76.7 76.2,76.7 76.7,76.6 77.1,76.6 77.5,76.6 77.9,76.5 78.4,76.5 78.8,76.4 79.2,76.4 79.6,76.3 80.0,76.3 80.5,76.2 80.9,76.2 81.3,76.2 81.7,76.1 82.1,76.1 82.6,76.0 83.0,76.0 83.4,76.0 83.8,75.9 84.2,75.9 84.7,75.9 85.1,75.9 85.5,75.8 85.9,75.8 86.3,75.8 86.8,75.8 87.2,75.8 87.6,75.8 88.0,75.8 88.4,75.8 88.9,75.8 89.3,75.8 89.7,75.8 90.1,75.8 90.5,75.8 91.0,75.8 91.4,75.8 91.8,75.8 92.2,75.9 92.6,75.9 93.1,75.9 93.5,75.9 93.9,76.0 94.3,76.0 94.8,76.0 95.2,76.1 95.6,76.1 96.0,76.2 96.4,76.2 96.9,76.3 97.3,76.3 97.7,76.4 98.1,76.4 98.5,76.5 99.0,76.5 99.4,76.6 99.8,76.7 100.2,76.7 100.6,76.8 101.1,76.9 101.5,77.0 101.9,77.0 102.3,77.1 102.7,77.2 103.2,77.3 103.6,77.4 104.0,77.5 104.4,77.6 104.8,77.7 105.3,77.8 105.7,77.9 106.1,78.0 106.5,78.1 106.9,78.2 107.4,78.3 107.8,78.4 108.2,78.5 108.6,78.6 109.0,78.7 109.5,78.8 109.9,79.0 110.3,79.1 110.7,79.2 111.2,79.3 111.6,79.4 112.0,79.6 112.4,79.7 112.8,79.8 113.3,80.0 113.7,80.1 114.1,80.2 114.5,80.4 114.9,80.5 115.4,80.7 115.8,80.8 116.2,81.0 116.6,81.1 117.0,81.3 117.5,81.4 117.9,81.6 118.3,81.7 118.7,81.9 119.1,82.0 119.6,82.2 120.0,82.4 120.4,82.5 120.8,82.7 121.2,82.9 121.7,83.0 122.1,83.2 122.5,83.4 122.9,83.5 123.3,83.7 123.8,83.9 124.2,84.1 124.6,84.3 125.0,84.4 125.4,84.6 125.9,84.8 126.3,85.0 126.7,85.2 127.1,85.4 127.6,85.6 128.0,85.8 128.4,86.0 128.8,86.2 129.2,86.4 129.7,86.6 130.1,86.8 130.5,87.0 130.9,87.2 131.3,87.4 131.8,87.6 132.2,87.8 132.6,88.0 133.0,88.2 133.4,88.4 133.9,88.6 134.3,88.8 134.7,89.1 135.1,89.3" stroke="#f76411" stroke-opacity="0.49"/>
<polyline points="26.2,75.3 26.6,75.3 27.0,75.2 27.5,75.2 27.9,75.1 28.3,75.1 28.7,75.1 29.1,75.0 29.6,75.0 30.0,75.0 30.4,74.9 30.8,74.9 31.3,74.9 31.7,74.8 32.1,74.8 32.5,74.8 32.9,74.8 33.4,74.7 33.8,74.7 34.2,74.7 34.6,74.7 35.0,74.7 35.5,74.6 35.9,74.6 36.3,74.6 36.7,74.6 37.1,74.6 37.6,74.6 38.0,74.6 38.4,74.6 38.8,74.6 39.2,74.6 39.7,74.6 40.1,74.6 40.5,74.6 40.9,74.6 41.3,74.6 41.8,74.6 42.2,74.7 42.6,74.7 43.0,74.7 43.4,74.7 43.9,74.7 44.3,74.8 44.7,74.8 45.1,74.8 45.5,74.8 46.0,74.9 46.4,74.9 46.8,74.9 47.2,75.0 47.7,75.0 48.1,75.1 48.5,75.1 48.9,75.2 49.3,75.2 49.8,75.3 50.2,75.3 50.6,75.4 51.0,75.4 51.4,75.5 51.9,75.5 52.3,75.6 52.7,75.7 53.1,75.7 53.5,75.8 54.0,75.9 54.4,76.0 54.8,76.0 55.2,76.1 55.6,76.2 56.1,76.3 56.5,76.3 56.9,76.4 57.3,76.5 57.7,76.6 58.2,76.7 58.6,76.8 59.0,76.8 59.4,76.9 59.8,77.0 60.3,77.1 60.7,77.2 61.1,77.2 61.5,77.3 61.9,77.4 62.4,77.5 62.8,77.5 63.2,77.6 63.6,77.6 64.1,77.7 64.5,77.8 64.9,77.8 65.3,77.9 65.7,77.9 66.2,77.9 66.6,78.0 67.0,78.0 67.4,78.0 67.8,78.1 68.3,78.1 68.7,78.1 69.1,78.1 69.5,78.1 69.9,78.1 70.4,78.1 70.8,78.1 71.2,78.1 71.6,78.1 72.0,78.1 72.5,78.0 72.9,78.0 73.3,78.0 73.7,78.0 74.1,78.0 74.6,77.9 75.0,77.9 75.4,77.9 75.8,77.8 76.2,77.8 76.7,77.8 77.1,77.7 77.5,77.7 77.9,77.7 78.4,77.6 78.8,77.6 79.2,77.6 79.6,77.5 80.0,77.5 80.5,77.5 80.9,77.5 81.3,77.4 81.7,77.4 82.1,77.4 82.6,77.4 83.0,77.3 83.4,77.3 83.8,77.3 84.2,77.3 84.7,77.3 85.1,77.3 85.5,77.3 85.9,77.2 86.3,77.2 86.8,77.2 87.2,77.2 87.6,77.3 88.0,77.3 88.4,77.3 88.9,77.3 89.3,77.3 89.7,77.3 90.1,77.3 90.5,77.4 91.0,77.4 91.4,77.4 91.8,77.4 92.2,77.5 92.6,77.5 93.1,77.6 93.5,77.6 93.9,77.6 94.3,77.7 94.8,77.7 95.2,77.8 95.6,77.8 96.0,77.9 96.4,78.0 96.9,78.0 97.3,78.1 97.7,78.2 98.1,78.2 98.5,78.3 99.0,78.4 99.4,78.4 99.8,78.5 100.2,78.6 100.6,78.7 101.1,78.8 101.5,78.9 101.9,79.0 102.3,79.0 102.7,79.1 103.2,79.2 103.6,79.3 104.0,79.4 104.4,79.5 104.8,79.6 105.3,79.7 105.7,79.9 106.1,80.0 106.5,80.1 106.9,80.2 107.4,80.3 107.8,80.4 108.2,80.6 108.6,80.7 109.0,80.8 109.5,80.9 109.9,81.1 110.3,81.2 110.7,81.3 111.2,81.4 111.6,81.6 112.0,81.7 112.4,81.9 112.8,82.0 113.3,82.1 113.7,82.3 114.1,82.4 114.5,82.6 114.9,82.7 115.4,82.9 115.8,83.0 116.2,83.2 116.6,83.4 117.0,83.5 117.5,83.7 117.9,83.8 118.3,84.0 118.7,84.2 119.1,84.3 119.6,84.5 120.0,84.7 120.4,84.8 120.8,85.0 121.2,85.2 121.7,85.4 122.1,85.5 122.5,85.7 122.9,85.9 123.3,86.1 123.8,86.3 124.2,86.5 124.6,86.6 125.0,86.8 125.4,87.0 125.9,87.2 126.3,87.4 126.7,87.6 127.1,87.8 127.6,88.0 128.0,88.2 128.4,88.4 128.8,88.6 129.2,88.8 129.7,89.0 130.1,89.2 130.5,89.4 130.9,89.6 131.3,89.9 131.8,90.1 132.2,90.3 132.6,90.5 133.0,90.7 133.4,90.9 133.9,91.2 134.3,91.4 134.7,91.6 135.1,91.8" stroke="#f7720c" stroke-opacity="0.50"/>
<polyline points="26.2,77.3 26.6,77.3 27.0,77.2 27.5,77.2 27.9,77.1 28.3,77.1 28.7,77.0 29.1,77.0 29.6,77.0 30.0,76.9 30.4,76.9 30.8,76.8 31.3,76.8 31.7,76.8 32.1,76.7 32.5,76.7 32.9,76.7 33.4,76.6 33.8,76.6 34.2,76.6 34.6,76.5 35.0,76.5 35.5,76.5 35.9,76.5 36.3,76.4 36.7,76.4 37.1,76.4 37.6,76.4 38.0,76.4 38.4,76.3 38.8,76.3 39.2,76.3 39.7,76.3 40.1,76.3 40.5,76.3 40.9,76.3 41.3,76.3 41.8,76.3 42.2,76.3 42.6,76.3 43.0,76.3 43.4,76.3 43.9,76.3 44.3,76.3 44.7,76.3 45.1,76.3 45.5,76.3 46.0,76.3 46.4,76.4 46.8,76.4 47.2,76.4 47.7,76.4 48.1,76.4 48.5,76.5 48.9,76.5 49.3,76.5 49.8,76.6 50.2,76.6 50.6,76.6 51.0,76.7 51.4,76.7 51.9,76.7 52.3,76.8 52.7,76.8 53.1,76.9 53.5,76.9 54.0,77.0 54.4,77.0 54.8,77.1 55.2,77.1 55.6,77.2 56.1,77.3 56.5,77.3 56.9,77.4 57.3,77.4 57.7,77.5 58.2,77.6 58.6,77.6 59.0,77.7 59.4,77.7 59.8,77.8 60.3,77.9 60.7,77.9 61.1,78.0 61.5,78.0 61.9,78.1 62.4,78.2 62.8,78.2 63.2,78.3 63.6,78.3 64.1,78.4 64.5,78.4 64.9,78.4 65.3,78.5 65.7,78.5 66.2,78.6 66.6,78.6 67.0,78.6 67.4,78.6 67.8,78.6 68.3,78.6 68.7,78.7 69.1,78.7 69.5,78.7 69.9,78.7 70.4,78.7 70.8,78.7 71.2,78.7 71.6,78.7 72.0,78.7 72.5,78.7 72.9,78.7 73.3,78.6 73.7,78.6 74.1,78.6 74.6,78.6 75.0,78.6 75.4,78.6 75.8,78.6 76.2,78.5 76.7,78.5 77.1,78.5 77.5,78.5 77.9,78.5 78.4,78.5 78.8,78.4 79.2,78.4 79.6,78.4 80.0,78.4 80.5,78.4 80.9,78.4 81.3,78.4 81.7,78.4 82.1,78.4 82.6,78.4 83.0,78.4 83.4,78.4 83.8,78.4 84.2,78.4 84.7,78.4 85.1,78.4 85.5,78.4 85.9,78.4 86.3,78.4 86.8,78.5 87.2,78.5 87.6,78.5 88.0,78.5 88.4,78.6 88.9,78.6 89.3,78.6 89.7,78.7 90.1,78.7 90.5,78.7 91.0,78.8 91.4,78.8 91.8,78.9 92.2,78.9 92.6,79.0 93.1,79.0 93.5,79.1 93.9,79.2 94.3,79.2 94.8,79.3 95.2,79.4 95.6,79.4 96.0,79.5 96.4,79.6 96.9,79.7 97.3,79.7 97.7,79.8 98.1,79.9 98.5,80.0 99.0,80.1 99.4,80.2 99.8,80.3 100.2,80.4 100.6,80.5 101.1,80.6 101.5,80.7 101.9,80.8 102.3,80.9 102.7,81.0 103.2,81.1 103.6,81.2 104.0,81.3 104.4,81.4 104.8,81.5 105.3,81.7 105.7,81.8 106.1,81.9 106.5,82.0 106.9,82.2 107.4,82.3 107.8,82.4 108.2,82.6 108.6,82.7 109.0,82.8 109.5,83.0 109.9,83.1 110.3,83.2 110.7,83.4 111.2,83.5 111.6,83.7 112.0,83.8 112.4,84.0 112.8,84.1 113.3,84.3 113.7,84.4 114.1,84.6 114.5,84.7 114.9,84.9 115.4,85.1 115.8,85.2 116.2,85.4 116.6,85.6 117.0,85.7 117.5,85.9 117.9,86.1 118.3,86.2 118.7,86.4 119.1,86.6 119.6,86.8 120.0,86.9 120.4,87.1 120.8,87.3 121.2,87.5 121.7,87.7 122.1,87.9 122.5,88.0 122.9,88.2 123.3,88.4 123.8,88.6 124.2,88.8 124.6,89.0 125.0,89.2 125.4,89.4 125.9,89.6 126.3,89.8 126.7,90.0 127.1,90.2 127.6,90.4 128.0,90.6 128.4,90.8 128.8,91.0 129.2,91.3 129.7,91.5 130.1,91.7 130.5,91.9 130.9,92.1 131.3,92.3 131.8,92.6 132.2,92.8 132.6,93.0 133.0,93.2 133.4,93.5 133.9,93.7 134.3,93.9 134.7,94.2 135.1,94.4" stroke="#f78008" stroke-opacity="0.51"/>
<polyline points="26.2,79.4 26.6,79.3 27.0,79.3 27.5,79.2 27.9,79.1 28.3,79.1 28.7,79.0 29.1,79.0 29.6,78.9 30.0,78.9 30.4,78.8 30.8,78.8 31.3,78.7 31.7,78.7 32.1,78.6 32.5,78.6 32.9,78.5 33.4,78.5 33.8,78.5 34.2,78.4 34.6,78.4 35.0,78.3 35.5,78.3 35.9,78.3 36.3,78.2 36.7,78.2 37.1,78.2 37.6,78.1 38.0,78.1 38.4,78.1 38.8,78.0 39.2,78.0 39.7,78.0 40.1,77.9 40.5,77.9 40.9,77.9 41.3,77.9 41.8,77.9 42.2,77.8 42.6,77.8 43.0,77.8 43.4,77.8 43.9,77.8 44.3,77.8 44.7,77.7 45.1,77.7 45.5,77.7 46.0,77.7 46.4,77.7 46.8,77.7 47.2,77.7 47.7,77.7 48.1,77.7 48.5,77.7 48.9,77.7 49.3,77.7 49.8,77.7 50.2,77.7 50.6,77.7 51.0,77.8 51.4,77.8 51.9,77.8 52.3,77.8 52.7,77.8 53.1,77.8 53.5,77.9 54.0,77.9 54.4,77.9 54.8,77.9 55.2,77.9 55.6,78.0 56.1,78.0 56.5,78.0 56.9,78.1 57.3,78.1 57.7,78.1 58.2,78.2 58.6,78.2 59.0,78.2 59.4,78.3 59.8,78.3 60.3,78.3 60.7,78.4 61.1,78.4 61.5,78.4 61.9,78.5 62.4,78.5 62.8,78.5 63.2,78.6 63.6,78.6 64.1,78.6 64.5,78.6 64.9,78.7 65.3,78.7 65.7,78.7 66.2,78.7 66.6,78.8 67.0,78.8 67.4,78.8 67.8,78.8 68.3,78.8 68.7,78.8 69.1,78.8 69.5,78.8 69.9,78.8 70.4,78.8 70.8,78.8 71.2,78.8 71.6,78.9 72.0,78.9 72.5,78.9 72.9,78.9 73.3,78.9 73.7,78.9 74.1,78.9 74.6,78.9 75.0,78.9 75.4,78.9 75.8,78.9 76.2,78.9 76.7,78.9 77.1,78.9 77.5,78.9 77.9,78.9 78.4,78.9 78.8,78.9 79.2,79.0 79.6,79.0 80.0,79.0 80.5,79.0 80.9,79.0 81.3,79.0 81.7,79.1 82.1,79.1 82.6,79.1 83.0,79.1 83.4,79.2 83.8,79.2 84.2,79.2 84.7,79.3 85.1,79.3 85.5,79.3 85.9,79.4 86.3,79.4 86.8,79.5 87.2,79.5 87.6,79.6 88.0,79.6 88.4,79.7 88.9,79.7 89.3,79.8 89.7,79.9 90.1,79.9 90.5,80.0 91.0,80.1 91.4,80.1 91.8,80.2 92.2,80.3 92.6,80.3 93.1,80.4 93.5,80.5 93.9,80.6 94.3,80.7 94.8,80.8 95.2,80.8 95.6,80.9 96.0,81.0 96.4,81.1 96.9,81.2 97.3,81.3 97.7,81.4 98.1,81.5 98.5,81.6 99.0,81.7 99.4,81.8 99.8,82.0 100.2,82.1 100.6,82.2 101.1,82.3 101.5,82.4 101.9,82.5 102.3,82.7 102.7,82.8 103.2,82.9 103.6,83.0 104.0,83.2 104.4,83.3 104.8,83.4 105.3,83.5 105.7,83.7 106.1,83.8 106.5,84.0 106.9,84.1 107.4,84.2 107.8,84.4 108.2,84.5 108.6,84.7 109.0,84.8 109.5,85.0 109.9,85.1 110.3,85.3 110.7,85.4 111.2,85.6 111.6,85.7 112.0,85.9 112.4,86.1 112.8,86.2 113.3,86.4 113.7,86.5 114.1,86.7 114.5,86.9 114.9,87.1 115.4,87.2 115.8,87.4 116.2,87.6 116.6,87.7 117.0,87.9 117.5,88.1 117.9,88.3 118.3,88.5 118.7,88.7 119.1,88.8 119.6,89.0 120.0,89.2 120.4,89.4 120.8,89.6 121.2,89.8 121.7,90.0 122.1,90.2 122.5,90.4 122.9,90.6 123.3,90.8 123.8,91.0 124.2,91.2 124.6,91.4 125.0,91.6 125.4,91.8 125.9,92.0 126.3,92.2 126.7,92.4 127.1,92.6 127.6,92.8 128.0,93.1 128.4,93.3 128.8,93.5 129.2,93.7 129.7,93.9 130.1,94.2 130.5,94.4 130.9,94.6 131.3,94.8 131.8,95.1 132.2,95.3 132.6,95.5 133.0,95.8 133.4,96.0 133.9,96.2 134.3,96.5 134.7,96.7 135.1,96.9" stroke="#f79a08" stroke-opacity="0.52"/>
<polyline points="26.2,81.4 26.6,81.4 27.0,81.3 27.5,81.2 27.9,81.2 28.3,81.1 28.7,81.0 29.1,81.0 29.6,80.9 30.0,80.9 30.4,80.8 30.8,80.7 31.3,80.7 31.7,80.6 32.1,80.6 32.5,80.5 32.9,80.5 33.4,80.4 33.8,80.3 34.2,80.3 34.6,80.2 35.0,80.2 35.5,80.1 35.9,80.1 36.3,80.0 36.7,80.0 37.1,80.0 37.6,79.9 38.0,79.9 38.4,79.8 38.8,79.8 39.2,79.7 39.7,79.7 40.1,79.6 40.5,79.6 40.9,79.6 41.3,79.5 41.8,79.5 42.2,79.5 42.6,79.4 43.0,79.4 43.4,79.4 43.9,79.3 44.3,79.3 44.7,79.3 45.1,79.2 45.5,79.2 46.0,79.2 46.4,79.1 46.8,79.1 47.2,79.1 47.7,79.1 48.1,79.0 48.5,79.0 48.9,79.0 49.3,79.0 49.8,78.9 50.2,78.9 50.6,78.9 51.0,78.9 51.4,78.9 51.9,78.9 52.3,78.8 52.7,78.8 53.1,78.8 53.5,78.8 54.0,78.8 54.4,78.8 54.8,78.8 55.2,78.8 55.6,78.8 56.1,78.8 56.5,78.8 56.9,78.8 57.3,78.7 57.7,78.7 58.2,78.7 58.6,78.7 59.0,78.7 59.4,78.7 59.8,78.7 60.3,78.7 60.7,78.7 61.1,78.7 61.5,78.8 61.9,78.8 62.4,78.8 62.8,78.8 63.2,78.8 63.6,78.8 64.1,78.8 64.5,78.8 64.9,78.8 65.3,78.8 65.7,78.8 66.2,78.8 66.6,78.8 67.0,78.8 67.4,78.8 67.8,78.8 68.3,78.8 68.7,78.8 69.1,78.8 69.5,78.8 69.9,78.8 70.4,78.8 70.8,78.9 71.2,78.9 71.6,78.9 72.0,78.9 72.5,78.9 72.9,79.0 73.3,79.0 73.7,79.0 74.1,79.0 74.6,79.1 75.0,79.1 75.4,79.1 75.8,79.1 76.2,79.2 76.7,79.2 77.1,79.2 77.5,79.3 77.9,79.3 78.4,79.4 78.8,79.4 79.2,79.4 79.6,79.5 80.0,79.5 80.5,79.6 80.9,79.6 81.3,79.7 81.7,79.7 82.1,79.8 82.6,79.8 83.0,79.9 83.4,80.0 83.8,80.0 84.2,80.1 84.7,80.1 85.1,80.2 85.5,80.3 85.9,80.3 86.3,80.4 86.8,80.5 87.2,80.6 87.6,80.6 88.0,80.7 88.4,80.8 88.9,80.9 89.3,81.0 89.7,81.1 90.1,81.1 90.5,81.2 91.0,81.3 91.4,81.4 91.8,81.5 92.2,81.6 92.6,81.7 93.1,81.8 93.5,81.9 93.9,82.0 94.3,82.1 94.8,82.2 95.2,82.3 95.6,82.4 96.0,82.5 96.4,82.6 96.9,82.8 97.3,82.9 97.7,83.0 98.1,83.1 98.5,83.2 99.0,83.3 99.4,83.5 99.8,83.6 100.2,83.7 100.6,83.8 101.1,84.0 101.5,84.1 101.9,84.2 102.3,84.4 102.7,84.5 103.2,84.6 103.6,84.8 104.0,84.9 104.4,85.1 104.8,85.2 105.3,85.3 105.7,85.5 106.1,85.6 106.5,85.8 106.9,85.9 107.4,86.1 107.8,86.2 108.2,86.4 108.6,86.6 109.0,86.7 109.5,86.9 109.9,87.0 110.3,87.2 110.7,87.3 111.2,87.5 111.6,87.7 112.0,87.8 112.4,88.0 112.8,88.2 113.3,88.4 113.7,88.5 114.1,88.7 114.5,88.9 114.9,89.1 115.4,89.2 115.8,89.4 116.2,89.6 116.6,89.8 117.0,90.0 117.5,90.1 117.9,90.3 118.3,90.5 118.7,90.7 119.1,90.9 119.6,91.1 120.0,91.3 120.4,91.5 120.8,91.7 121.2,91.9 121.7,92.1 122.1,92.3 122.5,92.5 122.9,92.7 123.3,92.9 123.8,93.1 124.2,93.3 124.6,93.5 125.0,93.7 125.4,93.9 125.9,94.2 126.3,94.4 126.7,94.6 127.1,94.8 127.6,95.0 128.0,95.2 128.4,95.5 128.8,95.7 129.2,95.9 129.7,96.1 130.1,96.4 130.5,96.6 130.9,96.8 131.3,97.1 131.8,97.3 132.2,97.5 132.6,97.8 133.0,98.0 133.4,98.2 133.9,98.5 134.3,98.7 134.7,98.9 135.1,99.2" stroke="#f7b108" stroke-opacity="0.53"/>
<polyline points="26.2,83.5 26.6,83.4 27.0,83.3 27.5,83.2 27.9,83.2 28.3,83.1 28.7,83.0 29.1,82.9 29.6,82.9 30.0,82.8 30.4,82.7 30.8,82.7 31.3,82.6 31.7,82.5 32.1,82.5 32.5,82.4 32.9,82.3 33.4,82.3 33.8,82.2 34.2,82.1 34.6,82.1 35.0,82.0 35.5,81.9 35.9,81.9 36.3,81.8 36.7,81.8 37.1,81.7 37.6,81.6 38.0,81.6 38.4,81.5 38.8,81.5 39.2,81.4 39.7,81.3 40.1,81.3 40.5,81.2 40.9,81.2 41.3,81.1 41.8,81.1 42.2,81.0 42.6,81.0 43.0,80.9 43.4,80.9 43.9,80.8 44.3,80.8 44.7,80.7 45.1,80.7 45.5,80.6 46.0,80.6 46.4,80.5 46.8,80.5 47.2,80.4 47.7,80.4 48.1,80.3 48.5,80.3 48.9,80.2 49.3,80.2 49.8,80.2 50.2,80.1 50.6,80.1 51.0,80.0 51.4,80.0 51.9,79.9 52.3,79.9 52.7,79.9 53.1,79.8 53.5,79.8 54.0,79.7 54.4,79.7 54.8,79.7 55.2,79.6 55.6,79.6 56.1,79.6 56.5,79.5 56.9,79.5 57.3,79.5 57.7,79.4 58.2,79.4 58.6,79.3 59.0,79.3 59.4,79.3 59.8,79.2 60.3,79.2 60.7,79.2 61.1,79.1 61.5,79.1 61.9,79.1 62.4,79.0 62.8,79.0 63.2,79.0 63.6,78.9 64.1,78.9 64.5,78.9 64.9,78.8 65.3,78.8 65.7,78.8 66.2,78.8 66.6,78.7 67.0,78.7 67.4,78.7 67.8,78.7 68.3,78.7 68.7,78.7 69.1,78.7 69.5,78.7 69.9,78.7 70.4,78.7 70.8,78.7 71.2,78.8 71.6,78.8 72.0,78.9 72.5,78.9 72.9,79.0 73.3,79.0 73.7,79.1 74.1,79.1 74.6,79.2 75.0,79.3 75.4,79.3 75.8,79.4 76.2,79.5 76.7,79.5 77.1,79.6 77.5,79.7 77.9,79.7 78.4,79.8 78.8,79.9 79.2,79.9 79.6,80.0 80.0,80.1 80.5,80.2 80.9,80.2 81.3,80.3 81.7,80.4 82.1,80.5 82.6,80.6 83.0,80.6 83.4,80.7 83.8,80.8 84.2,80.9 84.7,81.0 85.1,81.1 85.5,81.2 85.9,81.3 86.3,81.4 86.8,81.5 87.2,81.6 87.6,81.6 88.0,81.7 88.4,81.8 88.9,81.9 89.3,82.1 89.7,82.2 90.1,82.3 90.5,82.4 91.0,82.5 91.4,82.6 91.8,82.7 92.2,82.8 92.6,82.9 93.1,83.0 93.5,83.2 93.9,83.3 94.3,83.4 94.8,83.5 95.2,83.6 95.6,83.8 96.0,83.9 96.4,84.0 96.9,84.1 97.3,84.3 97.7,84.4 98.1,84.5 98.5,84.6 99.0,84.8 99.4,84.9 99.8,85.1 100.2,85.2 100.6,85.3 101.1,85.5 101.5,85.6 101.9,85.8 102.3,85.9 102.7,86.0 103.2,86.2 103.6,86.3 104.0,86.5 104.4,86.6 104.8,86.8 105.3,86.9 105.7,87.1 106.1,87.3 106.5,87.4 106.9,87.6 107.4,87.7 107.8,87.9 108.2,88.1 108.6,88.2 109.0,88.4 109.5,88.6 109.9,88.7 110.3,88.9 110.7,89.1 111.2,89.2 111.6,89.4 112.0,89.6 112.4,89.8 112.8,89.9 113.3,90.1 113.7,90.3 114.1,90.5 114.5,90.7 114.9,90.8 115.4,91.0 115.8,91.2 116.2,91.4 116.6,91.6 117.0,91.8 117.5,92.0 117.9,92.2 118.3,92.4 118.7,92.6 119.1,92.8 119.6,93.0 120.0,93.2 120.4,93.4 120.8,93.6 121.2,93.8 121.7,94.0 122.1,94.2 122.5,94.4 122.9,94.6 123.3,94.8 123.8,95.0 124.2,95.2 124.6,95.4 125.0,95.7 125.4,95.9 125.9,96.1 126.3,96.3 126.7,96.5 127.1,96.8 127.6,97.0 128.0,97.2 128.4,97.4 128.8,97.7 129.2,97.9 129.7,98.1 130.1,98.3 130.5,98.6 130.9,98.8 131.3,99.1 131.8,99.3 132.2,99.5 132.6,99.8 133.0,100.0 133.4,100.3 133.9,100.5 134.3,100.7 134.7,101.0 135.1,101.2" stroke="#f7c508" stroke-opacity="0.54"/>
<polyline points="26.2,85.5 26.6,85.4 27.0,85.3 27.5,85.2 27.9,85.2 28.3,85.1 28.7,85.0 29.1,84.9 29.6,84.8 30.0,84.8 30.4,84.7 30.8,84.6 31.3,84.5 31.7,84.4 32.1,84.4 32.5,84.3 32.9,84.2 33.4,84.1 33.8,84.0 34.2,84.0 34.6,83.9 35.0,83.8 35.5,83.7 35.9,83.7 36.3,83.6 36.7,83.5 37.1,83.5 37.6,83.4 38.0,83.3 38.4,83.2 38.8,83.2 39.2,83.1 39.7,83.0 40.1,83.0 40.5,82.9 40.9,82.8 41.3,82.7 41.8,82.7 42.2,82.6 42.6,82.5 43.0,82.5 43.4,82.4 43.9,82.3 44.3,82.3 44.7,82.2 45.1,82.1 45.5,82.1 46.0,82.0 46.4,82.0 46.8,81.9 47.2,81.8 47.7,81.8 48.1,81.7 48.5,81.6 48.9,81.6 49.3,81.5 49.8,81.5 50.2,81.4 50.6,81.3 51.0,81.3 51.4,81.2 51.9,81.2 52.3,81.1 52.7,81.0 53.1,81.0 53.5,80.9 54.0,80.9 54.4,80.8 54.8,80.7 55.2,80.7 55.6,80.6 56.1,80.6 56.5,80.5 56.9,80.4 57.3,80.4 57.7,80.3 58.2,80.3 58.6,80.2 59.0,80.1 59.4,80.1 59.8,80.0 60.3,80.0 60.7,79.9 61.1,79.8 61.5,79.8 61.9,79.7 62.4,79.6 62.8,79.6 63.2,79.5 63.6,79.4 64.1,79.3 64.5,79.3 64.9,79.2 65.3,79.1 65.7,79.1 66.2,79.0 66.6,78.9 67.0,78.9 67.4,78.8 67.8,78.8 68.3,78.8 68.7,78.7 69.1,78.7 69.5,78.7 69.9,78.8 70.4,78.8 70.8,78.9 71.2,78.9 71.6,79.0 72.0,79.1 72.5,79.2 72.9,79.3 73.3,79.3 73.7,79.4 74.1,79.5 74.6,79.6 75.0,79.7 75.4,79.8 75.8,79.9 76.2,80.0 76.7,80.1 77.1,80.2 77.5,80.3 77.9,80.4 78.4,80.5 78.8,80.6 79.2,80.7 79.6,80.8 80.0,80.9 80.5,81.0 80.9,81.1 81.3,81.2 81.7,81.3 82.1,81.4 82.6,81.5 83.0,81.6 83.4,81.7 83.8,81.8 84.2,81.9 84.7,82.0 85.1,82.1 85.5,82.2 85.9,82.3 86.3,82.4 86.8,82.5 87.2,82.7 87.6,82.8 88.0,82.9 88.4,83.0 88.9,83.1 89.3,83.2 89.7,83.4 90.1,83.5 90.5,83.6 91.0,83.7 91.4,83.8 91.8,84.0 92.2,84.1 92.6,84.2 93.1,84.3 93.5,84.5 93.9,84.6 94.3,84.7 94.8,84.9 95.2,85.0 95.6,85.1 96.0,85.3 96.4,85.4 96.9,85.5 97.3,85.7 97.7,85.8 98.1,86.0 98.5,86.1 99.0,86.2 99.4,86.4 99.8,86.5 100.2,86.7 100.6,86.8 101.1,87.0 101.5,87.1 101.9,87.3 102.3,87.4 102.7,87.6 103.2,87.7 103.6,87.9 104.0,88.1 104.4,88.2 104.8,88.4 105.3,88.5 105.7,88.7 106.1,88.9 106.5,89.0 106.9,89.2 107.4,89.4 107.8,89.5 108.2,89.7 108.6,89.9 109.0,90.1 109.5,90.2 109.9,90.4 110.3,90.6 110.7,90.8 111.2,90.9 111.6,91.1 112.0,91.3 112.4,91.5 112.8,91.7 113.3,91.9 113.7,92.0 114.1,92.2 114.5,92.4 114.9,92.6 115.4,92.8 115.8,93.0 116.2,93.2 116.6,93.4 117.0,93.6 117.5,93.8 117.9,94.0 118.3,94.2 118.7,94.4 119.1,94.6 119.6,94.8 120.0,95.0 120.4,95.2 120.8,95.4 121.2,95.6 121.7,95.8 122.1,96.1 122.5,96.3 122.9,96.5 123.3,96.7 123.8,96.9 124.2,97.1 124.6,97.4 125.0,97.6 125.4,97.8 125.9,98.0 126.3,98.2 126.7,98.5 127.1,98.7 127.6,98.9 128.0,99.2 128.4,99.4 128.8,99.6 129.2,99.9 129.7,100.1 130.1,100.3 130.5,100.6 130.9,100.8 131.3,101.0 131.8,101.3 132.2,101.5 132.6,101.8 133.0,102.0 133.4,102.3 133.9,102.5 134.3,102.8 134.7,103.0 135.1,103.3" stroke="#f7da08" stroke-opacity="0.55"/>
<polyline points="26.2,87.5 26.6,87.4 27.0,87.4 27.5,87.3 27.9,87.2 28.3,87.1 28.7,87.0 29.1,86.9 29.6,86.8 30.0,86.7 30.4,86.6 30.8,86.5 31.3,86.4 31.7,86.4 32.1,86.3 32.5,86.2 32.9,86.1 33.4,86.0 33.8,85.9 34.2,85.8 34.6,85.7 35.0,85.7 35.5,85.6 35.9,85.5 36.3,85.4 36.7,85.3 37.1,85.2 37.6,85.2 38.0,85.1 38.4,85.0 38.8,84.9 39.2,84.8 39.7,84.7 40.1,84.7 40.5,84.6 40.9,84.5 41.3,84.4 41.8,84.3 42.2,84.2 42.6,84.2 43.0,84.1 43.4,84.0 43.9,83.9 44.3,83.8 44.7,83.8 45.1,83.7 45.5,83.6 46.0,83.5 46.4,83.4 46.8,83.4 47.2,83.3 47.7,83.2 48.1,83.1 48.5,83.1 48.9,83.0 49.3,82.9 49.8,82.8 50.2,82.7 50.6,82.7 51.0,82.6 51.4,82.5 51.9,82.4 52.3,82.3 52.7,82.3 53.1,82.2 53.5,82.1 54.0,82.0 54.4,82.0 54.8,81.9 55.2,81.8 55.6,81.7 56.1,81.6 56.5,81.6 56.9,81.5 57.3,81.4 57.7,81.3 58.2,81.2 58.6,81.1 59.0,81.0 59.4,81.0 59.8,80.9 60.3,80.8 60.7,80.7 61.1,80.6 61.5,80.5 61.9,80.4 62.4,80.3 62.8,80.2 63.2,80.1 63.6,79.9 64.1,79.8 64.5,79.7 64.9,79.6 65.3,79.5 65.7,79.4 66.2,79.3 66.6,79.2 67.0,79.1 67.4,79.0 67.8,78.9 68.3,78.9 68.7,78.8 69.1,78.8 69.5,78.8 69.9,78.9 70.4,78.9 70.8,79.0 71.2,79.1 71.6,79.2 72.0,79.3 72.5,79.5 72.9,79.6 73.3,79.7 73.7,79.9 74.1,80.0 74.6,80.1 75.0,80.3 75.4,80.4 75.8,80.5 76.2,80.7 76.7,80.8 77.1,80.9 77.5,81.0 77.9,81.2 78.4,81.3 78.8,81.4 79.2,81.5 79.6,81.6 80.0,81.8 80.5,81.9 80.9,82.0 81.3,82.1 81.7,82.2 82.1,82.4 82.6,82.5 83.0,82.6 83.4,82.7 83.8,82.8 84.2,83.0 84.7,83.1 85.1,83.2 85.5,83.3 85.9,83.5 86.3,83.6 86.8,83.7 87.2,83.8 87.6,84.0 88.0,84.1 88.4,84.2 88.9,84.4 89.3,84.5 89.7,84.6 90.1,84.7 90.5,84.9 91.0,85.0 91.4,85.1 91.8,85.3 92.2,85.4 92.6,85.6 93.1,85.7 93.5,85.8 93.9,86.0 94.3,86.1 94.8,86.3 95.2,86.4 95.6,86.6 96.0,86.7 96.4,86.8 96.9,87.0 97.3,87.1 97.7,87.3 98.1,87.4 98.5,87.6 99.0,87.7 99.4,87.9 99.8,88.1 100.2,88.2 100.6,88.4 101.1,88.5 101.5,88.7 101.9,88.9 102.3,89.0 102.7,89.2 103.2,89.3 103.6,89.5 104.0,89.7 104.4,89.8 104.8,90.0 105.3,90.2 105.7,90.4 106.1,90.5 106.5,90.7 106.9,90.9 107.4,91.0 107.8,91.2 108.2,91.4 108.6,91.6 109.0,91.8 109.5,91.9 109.9,92.1 110.3,92.3 110.7,92.5 111.2,92.7 111.6,92.9 112.0,93.1 112.4,93.2 112.8,93.4 113.3,93.6 113.7,93.8 114.1,94.0 114.5,94.2 114.9,94.4 115.4,94.6 115.8,94.8 116.2,95.0 116.6,95.2 117.0,95.4 117.5,95.6 117.9,95.8 118.3,96.0 118.7,96.2 119.1,96.4 119.6,96.7 120.0,96.9 120.4,97.1 120.8,97.3 121.2,97.5 121.7,97.7 122.1,97.9 122.5,98.2 122.9,98.4 123.3,98.6 123.8,98.8 124.2,99.1 124.6,99.3 125.0,99.5 125.4,99.7 125.9,100.0 126.3,100.2 126.7,100.4 127.1,100.7 127.6,100.9 128.0,101.1 128.4,101.4 128.8,101.6 129.2,101.8 129.7,102.1 130.1,102.3 130.5,102.6 130.9,102.8 131.3,103.0 131.8,103.3 132.2,103.5 132.6,103.8 133.0,104.0 133.4,104.3 133.9,104.5 134.3,104.8 134.7,105.1 135.1,105.3" stroke="#f7e908" stroke-opacity="0.55"/>
<polyline points="26.2,89.6 26.6,89.5 27.0,89.4 27.5,89.3 27.9,89.2 28.3,89.1 28.7,89.0 29.1,88.9 29.6,88.8 30.0,88.7 30.4,88.6 30.8,88.5 31.3,88.4 31.7,88.3 32.1,88.2 32.5,88.1 32.9,88.0 33.4,87.9 33.8,87.8 34.2,87.7 34.6,87.6 35.0,87.5 35.5,87.4 35.9,87.4 36.3,87.3 36.7,87.2 37.1,87.1 37.6,87.0 38.0,86.9 38.4,86.8 38.8,86.7 39.2,86.6 39.7,86.5 40.1,86.4 40.5,86.3 40.9,86.2 41.3,86.1 41.8,86.0 42.2,86.0 42.6,85.9 43.0,85.8 43.4,85.7 43.9,85.6 44.3,85.5 44.7,85.4 45.1,85.3 45.5,85.2 46.0,85.1 46.4,85.0 46.8,84.9 47.2,84.8 47.7,84.8 48.1,84.7 48.5,84.6 48.9,84.5 49.3,84.4 49.8,84.3 50.2,84.2 50.6,84.1 51.0,84.0 51.4,83.9 51.9,83.8 52.3,83.7 52.7,83.6 53.1,83.5 53.5,83.4 54.0,83.3 54.4,83.2 54.8,83.1 55.2,83.0 55.6,82.9 56.1,82.8 56.5,82.7 56.9,82.6 57.3,82.5 57.7,82.4 58.2,82.3 58.6,82.2 59.0,82.1 59.4,82.0 59.8,81.9 60.3,81.7 60.7,81.6 61.1,81.5 61.5,81.4 61.9,81.2 62.4,81.1 62.8,80.9 63.2,80.8 63.6,80.6 64.1,80.5 64.5,80.3 64.9,80.2 65.3,80.0 65.7,79.9 66.2,79.7 66.6,79.5 67.0,79.4 67.4,79.3 67.8,79.2 68.3,79.1 68.7,79.0 69.1,79.0 69.5,79.0 69.9,79.1 70.4,79.2 70.8,79.3 71.2,79.4 71.6,79.6 72.0,79.8 72.5,79.9 72.9,80.1 73.3,80.3 73.7,80.4 74.1,80.6 74.6,80.8 75.0,81.0 75.4,81.1 75.8,81.3 76.2,81.5 76.7,81.6 77.1,81.8 77.5,81.9 77.9,82.1 78.4,82.2 78.8,82.4 79.2,82.5 79.6,82.6 80.0,82.8 80.5,82.9 80.9,83.1 81.3,83.2 81.7,83.3 82.1,83.5 82.6,83.6 83.0,83.8 83.4,83.9 83.8,84.0 84.2,84.2 84.7,84.3 85.1,84.4 85.5,84.6 85.9,84.7 86.3,84.9 86.8,85.0 87.2,85.1 87.6,85.3 88.0,85.4 88.4,85.6 88.9,85.7 89.3,85.8 89.7,86.0 90.1,86.1 90.5,86.3 91.0,86.4 91.4,86.6 91.8,86.7 92.2,86.9 92.6,87.0 93.1,87.2 93.5,87.3 93.9,87.5 94.3,87.6 94.8,87.8 95.2,87.9 95.6,88.1 96.0,88.2 96.4,88.4 96.9,88.5 97.3,88.7 97.7,88.9 98.1,89.0 98.5,89.2 99.0,89.3 99.4,89.5 99.8,89.7 100.2,89.8 100.6,90.0 101.1,90.2 101.5,90.3 101.9,90.5 102.3,90.7 102.7,90.8 103.2,91.0 103.6,91.2 104.0,91.4 104.4,91.5 104.8,91.7 105.3,91.9 105.7,92.1 106.1,92.2 106.5,92.4 106.9,92.6 107.4,92.8 107.8,93.0 108.2,93.2 108.6,93.3 109.0,93.5 109.5,93.7 109.9,93.9 110.3,94.1 110.7,94.3 111.2,94.5 111.6,94.7 112.0,94.9 112.4,95.1 112.8,95.3 113.3,95.5 113.7,95.6 114.1,95.8 114.5,96.0 114.9,96.3 115.4,96.5 115.8,96.7 116.2,96.9 116.6,97.1 117.0,97.3 117.5,97.5 117.9,97.7 118.3,97.9 118.7,98.1 119.1,98.3 119.6,98.6 120.0,98.8 120.4,99.0 120.8,99.2 121.2,99.4 121.7,99.6 122.1,99.9 122.5,100.1 122.9,100.3 123.3,100.5 123.8,100.8 124.2,101.0 124.6,101.2 125.0,101.5 125.4,101.7 125.9,101.9 126.3,102.2 126.7,102.4 127.1,102.6 127.6,102.9 128.0,103.1 128.4,103.3 128.8,103.6 129.2,103.8 129.7,104.1 130.1,104.3 130.5,104.6 130.9,104.8 131.3,105.1 131.8,105.3 132.2,105.6 132.6,105.8 133.0,106.1 133.4,106.3 133.9,106.6 134.3,106.8 134.7,107.1 135.1,107.4" stroke="#f7f608" stroke-opacity="0.55"/>
<polyline points="26.2,91.6 26.6,91.5 27.0,91.4 27.5,91.3 27.9,91.2 28.3,91.1 28.7,91.0 29.1,90.9 29.6,90.8 30.0,90.7 30.4,90.6 30.8,90.5 31.3,90.4 31.7,90.3 32.1,90.2 32.5,90.1 32.9,89.9 33.4,89.8 33.8,89.7 34.2,89.6 34.6,89.5 35.0,89.4 35.5,89.3 35.9,89.2 36.3,89.1 36.7,89.0 37.1,88.9 37.6,88.8 38.0,88.7 38.4,88.6 38.8,88.5 39.2,88.4 39.7,88.3 40.1,88.2 40.5,88.1 40.9,88.0 41.3,87.9 41.8,87.8 42.2,87.7 42.6,87.6 43.0,87.5 43.4,87.4 43.9,87.3 44.3,87.2 44.7,87.1 45.1,87.0 45.5,86.9 46.0,86.8 46.4,86.7 46.8,86.6 47.2,86.4 47.7,86.3 48.1,86.2 48.5,86.1 48.9,86.0 49.3,85.9 49.8,85.8 50.2,85.7 50.6,85.6 51.0,85.5 51.4,85.4 51.9,85.3 52.3,85.1 52.7,85.0 53.1,84.9 53.5,84.8 54.0,84.7 54.4,84.6 54.8,84.5 55.2,84.3 55.6,84.2 56.1,84.1 56.5,84.0 56.9,83.8 57.3,83.7 57.7,83.6 58.2,83.5 58.6,83.3 59.0,83.2 59.4,83.0 59.8,82.9 60.3,82.8 60.7,82.6 61.1,82.5 61.5,82.3 61.9,82.1 62.4,82.0 62.8,81.8 63.2,81.6 63.6,81.4 64.1,81.2 64.5,81.0 64.9,80.8 65.3,80.6 65.7,80.4 66.2,80.2 66.6,80.0 67.0,79.8 67.4,79.6 67.8,79.5 68.3,79.3 68.7,79.3 69.1,79.2 69.5,79.3 69.9,79.3 70.4,79.5 70.8,79.6 71.2,79.8 71.6,80.0 72.0,80.2 72.5,80.4 72.9,80.7 73.3,80.9 73.7,81.1 74.1,81.3 74.6,81.5 75.0,81.7 75.4,81.9 75.8,82.1 76.2,82.3 76.7,82.5 77.1,82.7 77.5,82.9 77.9,83.0 78.4,83.2 78.8,83.4 79.2,83.5 79.6,83.7 80.0,83.9 80.5,84.0 80.9,84.2 81.3,84.3 81.7,84.5 82.1,84.7 82.6,84.8 83.0,85.0 83.4,85.1 83.8,85.3 84.2,85.4 84.7,85.6 85.1,85.7 85.5,85.9 85.9,86.0 86.3,86.2 86.8,86.3 87.2,86.5 87.6,86.6 88.0,86.8 88.4,87.0 88.9,87.1 89.3,87.3 89.7,87.4 90.1,87.6 90.5,87.7 91.0,87.9 91.4,88.0 91.8,88.2 92.2,88.4 92.6,88.5 93.1,88.7 93.5,88.8 93.9,89.0 94.3,89.2 94.8,89.3 95.2,89.5 95.6,89.6 96.0,89.8 96.4,90.0 96.9,90.1 97.3,90.3 97.7,90.5 98.1,90.6 98.5,90.8 99.0,91.0 99.4,91.2 99.8,91.3 100.2,91.5 100.6,91.7 101.1,91.8 101.5,92.0 101.9,92.2 102.3,92.4 102.7,92.5 103.2,92.7 103.6,92.9 104.0,93.1 104.4,93.3 104.8,93.4 105.3,93.6 105.7,93.8 106.1,94.0 106.5,94.2 106.9,94.4 107.4,94.6 107.8,94.7 108.2,94.9 108.6,95.1 109.0,95.3 109.5,95.5 109.9,95.7 110.3,95.9 110.7,96.1 111.2,96.3 111.6,96.5 112.0,96.7 112.4,96.9 112.8,97.1 113.3,97.3 113.7,97.5 114.1,97.7 114.5,97.9 114.9,98.1 115.4,98.3 115.8,98.5 116.2,98.7 116.6,98.9 117.0,99.2 117.5,99.4 117.9,99.6 118.3,99.8 118.7,100.0 119.1,100.2 119.6,100.5 120.0,100.7 120.4,100.9 120.8,101.1 121.2,101.3 121.7,101.6 122.1,101.8 122.5,102.0 122.9,102.2 123.3,102.5 123.8,102.7 124.2,102.9 124.6,103.2 125.0,103.4 125.4,103.6 125.9,103.9 126.3,104.1 126.7,104.4 127.1,104.6 127.6,104.8 128.0,105.1 128.4,105.3 128.8,105.6 129.2,105.8 129.7,106.1 130.1,106.3 130.5,106.6 130.9,106.8 131.3,107.1 131.8,107.3 132.2,107.6 132.6,107.8 133.0,108.1 133.4,108.3 133.9,108.6 134.3,108.9 134.7,109.1 135.1,109.4" stroke="#ebf714" stroke-opacity="0.55"/>
<polyline points="26.2,93.7 26.6,93.5 27.0,93.4 27.5,93.3 27.9,93.2 28.3,93.1 28.7,93.0 29.1,92.9 29.6,92.8 30.0,92.7 30.4,92.6 30.8,92.4 31.3,92.3 31.7,92.2 32.1,92.1 32.5,92.0 32.9,91.9 33.4,91.8 33.8,91.7 34.2,91.6 34.6,91.5 35.0,91.3 35.5,91.2 35.9,91.1 36.3,91.0 36.7,90.9 37.1,90.8 37.6,90.7 38.0,90.6 38.4,90.5 38.8,90.4 39.2,90.3 39.7,90.1 40.1,90.0 40.5,89.9 40.9,89.8 41.3,89.7 41.8,89.6 42.2,89.5 42.6,89.4 43.0,89.2 43.4,89.1 43.9,89.0 44.3,88.9 44.7,88.8 45.1,88.7 45.5,88.6 46.0,88.5 46.4,88.3 46.8,88.2 47.2,88.1 47.7,88.0 48.1,87.9 48.5,87.7 48.9,87.6 49.3,87.5 49.8,87.4 50.2,87.3 50.6,87.1 51.0,87.0 51.4,86.9 51.9,86.8 52.3,86.6 52.7,86.5 53.1,86.4 53.5,86.2 54.0,86.1 54.4,86.0 54.8,85.8 55.2,85.7 55.6,85.6 56.1,85.4 56.5,85.3 56.9,85.1 57.3,85.0 57.7,84.8 58.2,84.7 58.6,84.5 59.0,84.4 59.4,84.2 59.8,84.0 60.3,83.9 60.7,83.7 61.1,83.5 61.5,83.3 61.9,83.1 62.4,82.9 62.8,82.7 63.2,82.5 63.6,82.3 64.1,82.0 64.5,81.8 64.9,81.5 65.3,81.3 65.7,81.0 66.2,80.7 66.6,80.5 67.0,80.2 67.4,80.0 67.8,79.8 68.3,79.6 68.7,79.5 69.1,79.4 69.5,79.5 69.9,79.6 70.4,79.8 70.8,80.0 71.2,80.2 71.6,80.5 72.0,80.8 72.5,81.0 72.9,81.3 73.3,81.6 73.7,81.8 74.1,82.1 74.6,82.3 75.0,82.6 75.4,82.8 75.8,83.0 76.2,83.3 76.7,83.5 77.1,83.7 77.5,83.9 77.9,84.1 78.4,84.3 78.8,84.5 79.2,84.7 79.6,84.8 80.0,85.0 80.5,85.2 80.9,85.4 81.3,85.6 81.7,85.7 82.1,85.9 82.6,86.1 83.0,86.2 83.4,86.4 83.8,86.6 84.2,86.8 84.7,86.9 85.1,87.1 85.5,87.3 85.9,87.4 86.3,87.6 86.8,87.8 87.2,87.9 87.6,88.1 88.0,88.3 88.4,88.4 88.9,88.6 89.3,88.7 89.7,88.9 90.1,89.1 90.5,89.2 91.0,89.4 91.4,89.6 91.8,89.7 92.2,89.9 92.6,90.1 93.1,90.3 93.5,90.4 93.9,90.6 94.3,90.8 94.8,90.9 95.2,91.1 95.6,91.3 96.0,91.4 96.4,91.6 96.9,91.8 97.3,92.0 97.7,92.1 98.1,92.3 98.5,92.5 99.0,92.7 99.4,92.8 99.8,93.0 100.2,93.2 100.6,93.4 101.1,93.6 101.5,93.7 101.9,93.9 102.3,94.1 102.7,94.3 103.2,94.5 103.6,94.6 104.0,94.8 104.4,95.0 104.8,95.2 105.3,95.4 105.7,95.6 106.1,95.8 106.5,96.0 106.9,96.2 107.4,96.3 107.8,96.5 108.2,96.7 108.6,96.9 109.0,97.1 109.5,97.3 109.9,97.5 110.3,97.7 110.7,97.9 111.2,98.1 111.6,98.3 112.0,98.5 112.4,98.7 112.8,98.9 113.3,99.1 113.7,99.4 114.1,99.6 114.5,99.8 114.9,100.0 115.4,100.2 115.8,100.4 116.2,100.6 116.6,100.8 117.0,101.1 117.5,101.3 117.9,101.5 118.3,101.7 118.7,101.9 119.1,102.1 119.6,102.4 120.0,102.6 120.4,102.8 120.8,103.0 121.2,103.3 121.7,103.5 122.1,103.7 122.5,104.0 122.9,104.2 123.3,104.4 123.8,104.7 124.2,104.9 124.6,105.1 125.0,105.4 125.4,105.6 125.9,105.8 126.3,106.1 126.7,106.3 127.1,106.6 127.6,106.8 128.0,107.1 128.4,107.3 128.8,107.6 129.2,107.8 129.7,108.1 130.1,108.3 130.5,108.6 130.9,108.8 131.3,109.1 131.8,109.3 132.2,109.6 132.6,109.9 133.0,110.1 133.4,110.4 133.9,110.6 134.3,110.9 134.7,111.2 135.1,111.4" stroke="#def721" stroke-opacity="0.55"/>
<polyline points="26.2,95.7 26.6,95.6 27.0,95.5 27.5,95.4 27.9,95.2 28.3,95.1 28.7,95.0 29.1,94.9 29.6,94.8 30.0,94.7 30.4,94.5 30.8,94.4 31.3,94.3 31.7,94.2 32.1,94.1 32.5,94.0 32.9,93.9 33.4,93.7 33.8,93.6 34.2,93.5 34.6,93.4 35.0,93.3 35.5,93.2 35.9,93.1 36.3,92.9 36.7,92.8 37.1,92.7 37.6,92.6 38.0,92.5 38.4,92.4 38.8,92.2 39.2,92.1 39.7,92.0 40.1,91.9 40.5,91.8 40.9,91.7 41.3,91.5 41.8,91.4 42.2,91.3 42.6,91.2 43.0,91.1 43.4,90.9 43.9,90.8 44.3,90.7 44.7,90.6 45.1,90.5 45.5,90.3 46.0,90.2 46.4,90.1 46.8,90.0 47.2,89.8 47.7,89.7 48.1,89.6 48.5,89.4 48.9,89.3 49.3,89.2 49.8,89.0 50.2,88.9 50.6,88.8 51.0,88.6 51.4,88.5 51.9,88.4 52.3,88.2 52.7,88.1 53.1,87.9 53.5,87.8 54.0,87.6 54.4,87.5 54.8,87.3 55.2,87.2 55.6,87.0 56.1,86.9 56.5,86.7 56.9,86.6 57.3,86.4 57.7,86.2 58.2,86.0 58.6,85.9 59.0,85.7 59.4,85.5 59.8,85.3 60.3,85.1 60.7,84.9 61.1,84.7 61.5,84.5 61.9,84.3 62.4,84.0 62.8,83.8 63.2,83.5 63.6,83.3 64.1,83.0 64.5,82.7 64.9,82.4 65.3,82.1 65.7,81.8 66.2,81.5 66.6,81.1 67.0,80.8 67.4,80.5 67.8,80.3 68.3,80.1 68.7,79.9 69.1,79.9 69.5,79.9 69.9,80.1 70.4,80.3 70.8,80.5 71.2,80.8 71.6,81.2 72.0,81.5 72.5,81.8 72.9,82.1 73.3,82.4 73.7,82.8 74.1,83.0 74.6,83.3 75.0,83.6 75.4,83.9 75.8,84.1 76.2,84.4 76.7,84.6 77.1,84.8 77.5,85.1 77.9,85.3 78.4,85.5 78.8,85.7 79.2,85.9 79.6,86.1 80.0,86.3 80.5,86.5 80.9,86.7 81.3,86.9 81.7,87.1 82.1,87.3 82.6,87.5 83.0,87.7 83.4,87.8 83.8,88.0 84.2,88.2 84.7,88.4 85.1,88.6 85.5,88.7 85.9,88.9 86.3,89.1 86.8,89.3 87.2,89.5 87.6,89.6 88.0,89.8 88.4,90.0 88.9,90.2 89.3,90.3 89.7,90.5 90.1,90.7 90.5,90.9 91.0,91.0 91.4,91.2 91.8,91.4 92.2,91.6 92.6,91.7 93.1,91.9 93.5,92.1 93.9,92.3 94.3,92.4 94.8,92.6 95.2,92.8 95.6,93.0 96.0,93.1 96.4,93.3 96.9,93.5 97.3,93.7 97.7,93.9 98.1,94.0 98.5,94.2 99.0,94.4 99.4,94.6 99.8,94.8 100.2,95.0 100.6,95.1 101.1,95.3 101.5,95.5 101.9,95.7 102.3,95.9 102.7,96.1 103.2,96.3 103.6,96.4 104.0,96.6 104.4,96.8 104.8,97.0 105.3,97.2 105.7,97.4 106.1,97.6 106.5,97.8 106.9,98.0 107.4,98.2 107.8,98.4 108.2,98.6 108.6,98.8 109.0,99.0 109.5,99.2 109.9,99.4 110.3,99.6 110.7,99.8 111.2,100.0 111.6,100.2 112.0,100.4 112.4,100.6 112.8,100.8 113.3,101.0 113.7,101.2 114.1,101.5 114.5,101.7 114.9,101.9 115.4,102.1 115.8,102.3 116.2,102.5 116.6,102.7 117.0,103.0 117.5,103.2 117.9,103.4 118.3,103.6 118.7,103.9 119.1,104.1 119.6,104.3 120.0,104.5 120.4,104.8 120.8,105.0 121.2,105.2 121.7,105.5 122.1,105.7 122.5,105.9 122.9,106.2 123.3,106.4 123.8,106.6 124.2,106.9 124.6,107.1 125.0,107.3 125.4,107.6 125.9,107.8 126.3,108.1 126.7,108.3 127.1,108.6 127.6,108.8 128.0,109.1 128.4,109.3 128.8,109.6 129.2,109.8 129.7,110.1 130.1,110.3 130.5,110.6 130.9,110.8 131.3,111.1 131.8,111.4 132.2,111.6 132.6,111.9 133.0,112.1 133.4,112.4 133.9,112.7 134.3,112.9 134.7,113.2 135.1,113.5" stroke="#d3f72c" stroke-opacity="0.55"/>
<polyline points="26.2,97.7 26.6,97.6 27.0,97.5 27.5,97.4 27.9,97.3 28.3,97.1 28.7,97.0 29.1,96.9 29.6,96.8 30.0,96.7 30.4,96.5 30.8,96.4 31.3,96.3 31.7,96.2 32.1,96.1 32.5,95.9 32.9,95.8 33.4,95.7 33.8,95.6 34.2,95.5 34.6,95.3 35.0,95.2 35.5,95.1 35.9,95.0 36.3,94.9 36.7,94.7 37.1,94.6 37.6,94.5 38.0,94.4 38.4,94.3 38.8,94.1 39.2,94.0 39.7,93.9 40.1,93.8 40.5,93.6 40.9,93.5 41.3,93.4 41.8,93.3 42.2,93.1 42.6,93.0 43.0,92.9 43.4,92.8 43.9,92.6 44.3,92.5 44.7,92.4 45.1,92.2 45.5,92.1 46.0,92.0 46.4,91.8 46.8,91.7 47.2,91.6 47.7,91.4 48.1,91.3 48.5,91.2 48.9,91.0 49.3,90.9 49.8,90.7 50.2,90.6 50.6,90.5 51.0,90.3 51.4,90.2 51.9,90.0 52.3,89.9 52.7,89.7 53.1,89.5 53.5,89.4 54.0,89.2 54.4,89.1 54.8,88.9 55.2,88.7 55.6,88.5 56.1,88.4 56.5,88.2 56.9,88.0 57.3,87.8 57.7,87.6 58.2,87.4 58.6,87.3 59.0,87.0 59.4,86.8 59.8,86.6 60.3,86.4 60.7,86.2 61.1,85.9 61.5,85.7 61.9,85.5 62.4,85.2 62.8,84.9 63.2,84.6 63.6,84.3 64.1,84.0 64.5,83.7 64.9,83.4 65.3,83.0 65.7,82.6 66.2,82.3 66.6,81.9 67.0,81.5 67.4,81.1 67.8,80.8 68.3,80.5 68.7,80.3 69.1,80.3 69.5,80.3 69.9,80.5 70.4,80.8 70.8,81.1 71.2,81.5 71.6,81.9 72.0,82.3 72.5,82.6 72.9,83.0 73.3,83.4 73.7,83.7 74.1,84.1 74.6,84.4 75.0,84.7 75.4,85.0 75.8,85.3 76.2,85.5 76.7,85.8 77.1,86.0 77.5,86.3 77.9,86.5 78.4,86.8 78.8,87.0 79.2,87.2 79.6,87.5 80.0,87.7 80.5,87.9 80.9,88.1 81.3,88.3 81.7,88.5 82.1,88.7 82.6,88.9 83.0,89.1 83.4,89.3 83.8,89.5 84.2,89.7 84.7,89.9 85.1,90.1 85.5,90.3 85.9,90.5 86.3,90.7 86.8,90.8 87.2,91.0 87.6,91.2 88.0,91.4 88.4,91.6 88.9,91.8 89.3,91.9 89.7,92.1 90.1,92.3 90.5,92.5 91.0,92.7 91.4,92.9 91.8,93.0 92.2,93.2 92.6,93.4 93.1,93.6 93.5,93.8 93.9,94.0 94.3,94.1 94.8,94.3 95.2,94.5 95.6,94.7 96.0,94.9 96.4,95.1 96.9,95.2 97.3,95.4 97.7,95.6 98.1,95.8 98.5,96.0 99.0,96.2 99.4,96.4 99.8,96.5 100.2,96.7 100.6,96.9 101.1,97.1 101.5,97.3 101.9,97.5 102.3,97.7 102.7,97.9 103.2,98.1 103.6,98.3 104.0,98.5 104.4,98.6 104.8,98.8 105.3,99.0 105.7,99.2 106.1,99.4 106.5,99.6 106.9,99.8 107.4,100.0 107.8,100.2 108.2,100.4 108.6,100.6 109.0,100.8 109.5,101.0 109.9,101.2 110.3,101.5 110.7,101.7 111.2,101.9 111.6,102.1 112.0,102.3 112.4,102.5 112.8,102.7 113.3,102.9 113.7,103.1 114.1,103.4 114.5,103.6 114.9,103.8 115.4,104.0 115.8,104.2 116.2,104.4 116.6,104.7 117.0,104.9 117.5,105.1 117.9,105.3 118.3,105.6 118.7,105.8 119.1,106.0 119.6,106.2 120.0,106.5 120.4,106.7 120.8,106.9 121.2,107.2 121.7,107.4 122.1,107.6 122.5,107.9 122.9,108.1 123.3,108.4 123.8,108.6 124.2,108.8 124.6,109.1 125.0,109.3 125.4,109.6 125.9,109.8 126.3,110.1 126.7,110.3 127.1,110.6 127.6,110.8 128.0,111.1 128.4,111.3 128.8,111.6 129.2,111.8 129.7,112.1 130.1,112.3 130.5,112.6 130.9,112.9 131.3,113.1 131.8,113.4 132.2,113.6 132.6,113.9 133.0,114.2 133.4,114.4 133.9,114.7 134.3,115.0 134.7,115.2 135.1,115.5" stroke="#c8f737" stroke-opacity="0.55"/>
<polyline points="26.2,99.8 26.6,99.7 27.0,99.5 27.5,99.4 27.9,99.3 28.3,99.2 28.7,99.0 29.1,98.9 29.6,98.8 30.0,98.7 30.4,98.5 30.8,98.4 31.3,98.3 31.7,98.2 32.1,98.0 32.5,97.9 32.9,97.8 33.4,97.7 33.8,97.5 34.2,97.4 34.6,97.3 35.0,97.2 35.5,97.0 35.9,96.9 36.3,96.8 36.7,96.7 37.1,96.5 37.6,96.4 38.0,96.3 38.4,96.2 38.8,96.0 39.2,95.9 39.7,95.8 40.1,95.7 40.5,95.5 40.9,95.4 41.3,95.3 41.8,95.1 42.2,95.0 42.6,94.9 43.0,94.7 43.4,94.6 43.9,94.5 44.3,94.3 44.7,94.2 45.1,94.1 45.5,93.9 46.0,93.8 46.4,93.6 46.8,93.5 47.2,93.4 47.7,93.2 48.1,93.1 48.5,92.9 48.9,92.8 49.3,92.6 49.8,92.5 50.2,92.3 50.6,92.2 51.0,92.0 51.4,91.8 51.9,91.7 52.3,91.5 52.7,91.4 53.1,91.2 53.5,91.0 54.0,90.8 54.4,90.7 54.8,90.5 55.2,90.3 55.6,90.1 56.1,89.9 56.5,89.7 56.9,89.5 57.3,89.3 57.7,89.1 58.2,88.9 58.6,88.7 59.0,88.5 59.4,88.2 59.8,88.0 60.3,87.8 60.7,87.5 61.1,87.2 61.5,87.0 61.9,86.7 62.4,86.4 62.8,86.1 63.2,85.8 63.6,85.5 64.1,85.1 64.5,84.7 64.9,84.4 65.3,84.0 65.7,83.5 66.2,83.1 66.6,82.7 67.0,82.2 67.4,81.8 67.8,81.4 68.3,81.0 68.7,80.8 69.1,80.7 69.5,80.8 69.9,81.0 70.4,81.3 70.8,81.7 71.2,82.2 71.6,82.6 72.0,83.1 72.5,83.5 72.9,83.9 73.3,84.4 73.7,84.7 74.1,85.1 74.6,85.5 75.0,85.8 75.4,86.1 75.8,86.4 76.2,86.7 76.7,87.0 77.1,87.3 77.5,87.6 77.9,87.8 78.4,88.1 78.8,88.3 79.2,88.6 79.6,88.8 80.0,89.1 80.5,89.3 80.9,89.5 81.3,89.8 81.7,90.0 82.1,90.2 82.6,90.4 83.0,90.6 83.4,90.8 83.8,91.0 84.2,91.2 84.7,91.4 85.1,91.6 85.5,91.8 85.9,92.0 86.3,92.2 86.8,92.4 87.2,92.6 87.6,92.8 88.0,93.0 88.4,93.2 88.9,93.4 89.3,93.6 89.7,93.8 90.1,94.0 90.5,94.2 91.0,94.4 91.4,94.5 91.8,94.7 92.2,94.9 92.6,95.1 93.1,95.3 93.5,95.5 93.9,95.7 94.3,95.9 94.8,96.1 95.2,96.2 95.6,96.4 96.0,96.6 96.4,96.8 96.9,97.0 97.3,97.2 97.7,97.4 98.1,97.6 98.5,97.8 99.0,98.0 99.4,98.1 99.8,98.3 100.2,98.5 100.6,98.7 101.1,98.9 101.5,99.1 101.9,99.3 102.3,99.5 102.7,99.7 103.2,99.9 103.6,100.1 104.0,100.3 104.4,100.5 104.8,100.7 105.3,100.9 105.7,101.1 106.1,101.3 106.5,101.5 106.9,101.7 107.4,101.9 107.8,102.1 108.2,102.3 108.6,102.5 109.0,102.7 109.5,102.9 109.9,103.1 110.3,103.3 110.7,103.5 111.2,103.8 111.6,104.0 112.0,104.2 112.4,104.4 112.8,104.6 113.3,104.8 113.7,105.0 114.1,105.3 114.5,105.5 114.9,105.7 115.4,105.9 115.8,106.1 116.2,106.4 116.6,106.6 117.0,106.8 117.5,107.0 117.9,107.3 118.3,107.5 118.7,107.7 119.1,108.0 119.6,108.2 120.0,108.4 120.4,108.7 120.8,108.9 121.2,109.1 121.7,109.4 122.1,109.6 122.5,109.8 122.9,110.1 123.3,110.3 123.8,110.6 124.2,110.8 124.6,111.1 125.0,111.3 125.4,111.5 125.9,111.8 126.3,112.0 126.7,112.3 127.1,112.5 127.6,112.8 128.0,113.1 128.4,113.3 128.8,113.6 129.2,113.8 129.7,114.1 130.1,114.3 130.5,114.6 130.9,114.9 131.3,115.1 131.8,115.4 132.2,115.7 132.6,115.9 133.0,116.2 133.4,116.5 133.9,116.7 134.3,117.0 134.7,117.3 135.1,117.6" stroke="#bef741" stroke-opacity="0.55"/>
<polyline points="26.2,101.8 26.6,101.7 27.0,101.6 27.5,101.4 27.9,101.3 28.3,101.2 28.7,101.1 29.1,100.9 29.6,100.8 30.0,100.7 30.4,100.5 30.8,100.4 31.3,100.3 31.7,100.2 32.1,100.0 32.5,99.9 32.9,99.8 33.4,99.7 33.8,99.5 34.2,99.4 34.6,99.3 35.0,99.1 35.5,99.0 35.9,98.9 36.3,98.8 36.7,98.6 37.1,98.5 37.6,98.4 38.0,98.2 38.4,98.1 38.8,98.0 39.2,97.8 39.7,97.7 40.1,97.6 40.5,97.4 40.9,97.3 41.3,97.2 41.8,97.0 42.2,96.9 42.6,96.8 43.0,96.6 43.4,96.5 43.9,96.4 44.3,96.2 44.7,96.1 45.1,95.9 45.5,95.8 46.0,95.6 46.4,95.5 46.8,95.4 47.2,95.2 47.7,95.1 48.1,94.9 48.5,94.8 48.9,94.6 49.3,94.4 49.8,94.3 50.2,94.1 50.6,94.0 51.0,93.8 51.4,93.6 51.9,93.5 52.3,93.3 52.7,93.1 53.1,92.9 53.5,92.8 54.0,92.6 54.4,92.4 54.8,92.2 55.2,92.0 55.6,91.8 56.1,91.6 56.5,91.4 56.9,91.2 57.3,91.0 57.7,90.8 58.2,90.5 58.6,90.3 59.0,90.1 59.4,89.8 59.8,89.6 60.3,89.3 60.7,89.0 61.1,88.7 61.5,88.5 61.9,88.2 62.4,87.8 62.8,87.5 63.2,87.2 63.6,86.8 64.1,86.4 64.5,86.0 64.9,85.6 65.3,85.2 65.7,84.7 66.2,84.2 66.6,83.7 67.0,83.2 67.4,82.7 67.8,82.3 68.3,81.9 68.7,81.6 69.1,81.4 69.5,81.6 69.9,81.8 70.4,82.2 70.8,82.7 71.2,83.2 71.6,83.7 72.0,84.2 72.5,84.7 72.9,85.2 73.3,85.6 73.7,86.0 74.1,86.4 74.6,86.8 75.0,87.2 75.4,87.5 75.8,87.8 76.2,88.2 76.7,88.5 77.1,88.8 77.5,89.1 77.9,89.4 78.4,89.6 78.8,89.9 79.2,90.2 79.6,90.4 80.0,90.7 80.5,90.9 80.9,91.1 81.3,91.4 81.7,91.6 82.1,91.8 82.6,92.1 83.0,92.3 83.4,92.5 83.8,92.7 84.2,92.9 84.7,93.2 85.1,93.4 85.5,93.6 85.9,93.8 86.3,94.0 86.8,94.2 87.2,94.4 87.6,94.6 88.0,94.8 88.4,95.0 88.9,95.2 89.3,95.4 89.7,95.6 90.1,95.8 90.5,96.0 91.0,96.2 91.4,96.4 91.8,96.6 92.2,96.8 92.6,97.0 93.1,97.2 93.5,97.3 93.9,97.5 94.3,97.7 94.8,97.9 95.2,98.1 95.6,98.3 96.0,98.5 96.4,98.7 96.9,98.9 97.3,99.1 97.7,99.3 98.1,99.5 98.5,99.7 99.0,99.9 99.4,100.1 99.8,100.3 100.2,100.4 100.6,100.6 101.1,100.8 101.5,101.0 101.9,101.2 102.3,101.4 102.7,101.6 103.2,101.8 103.6,102.0 104.0,102.2 104.4,102.4 104.8,102.6 105.3,102.8 105.7,103.1 106.1,103.3 106.5,103.5 106.9,103.7 107.4,103.9 107.8,104.1 108.2,104.3 108.6,104.5 109.0,104.7 109.5,104.9 109.9,105.1 110.3,105.3 110.7,105.6 111.2,105.8 111.6,106.0 112.0,106.2 112.4,106.4 112.8,106.6 113.3,106.9 113.7,107.1 114.1,107.3 114.5,107.5 114.9,107.8 115.4,108.0 115.8,108.2 116.2,108.4 116.6,108.7 117.0,108.9 117.5,109.1 117.9,109.3 118.3,109.6 118.7,109.8 119.1,110.0 119.6,110.3 120.0,110.5 120.4,110.8 120.8,111.0 121.2,111.2 121.7,111.5 122.1,111.7 122.5,112.0 122.9,112.2 123.3,112.4 123.8,112.7 124.2,112.9 124.6,113.2 125.0,113.4 125.4,113.7 125.9,113.9 126.3,114.2 126.7,114.4 127.1,114.7 127.6,115.0 128.0,115.2 128.4,115.5 128.8,115.7 129.2,116.0 129.7,116.3 130.1,116.5 130.5,116.8 130.9,117.0 131.3,117.3 131.8,117.6 132.2,117.9 132.6,118.1 133.0,118.4 133.4,118.7 133.9,118.9 134.3,119.2 134.7,119.5 135.1,119.8" stroke="#b1f74e" stroke-opacity="0.55"/>
<polyline points="26.2,103.9 26.6,103.7 27.0,103.6 27.5,103.5 27.9,103.3 28.3,103.2 28.7,103.1 29.1,102.9 29.6,102.8 30.0,102.7 30.4,102.6 30.8,102.4 31.3,102.3 31.7,102.2 32.1,102.0 32.5,101.9 32.9,101.8 33.4,101.6 33.8,101.5 34.2,101.4 34.6,101.3 35.0,101.1 35.5,101.0 35.9,100.9 36.3,100.7 36.7,100.6 37.1,100.5 37.6,100.3 38.0,100.2 38.4,100.1 38.8,99.9 39.2,99.8 39.7,99.7 40.1,99.5 40.5,99.4 40.9,99.2 41.3,99.1 41.8,99.0 42.2,98.8 42.6,98.7 43.0,98.5 43.4,98.4 43.9,98.3 44.3,98.1 44.7,98.0 45.1,97.8 45.5,97.7 46.0,97.5 46.4,97.4 46.8,97.2 47.2,97.1 47.7,96.9 48.1,96.8 48.5,96.6 48.9,96.4 49.3,96.3 49.8,96.1 50.2,96.0 50.6,95.8 51.0,95.6 51.4,95.4 51.9,95.3 52.3,95.1 52.7,94.9 53.1,94.7 53.5,94.5 54.0,94.3 54.4,94.1 54.8,93.9 55.2,93.7 55.6,93.5 56.1,93.3 56.5,93.1 56.9,92.9 57.3,92.7 57.7,92.4 58.2,92.2 58.6,91.9 59.0,91.7 59.4,91.4 59.8,91.2 60.3,90.9 60.7,90.6 61.1,90.3 61.5,90.0 61.9,89.7 62.4,89.3 62.8,89.0 63.2,88.6 63.6,88.2 64.1,87.8 64.5,87.4 64.9,86.9 65.3,86.5 65.7,86.0 66.2,85.4 66.6,84.9 67.0,84.3 67.4,83.7 67.8,83.2 68.3,82.7 68.7,82.4 69.1,82.2 69.5,82.4 69.9,82.7 70.4,83.2 70.8,83.7 71.2,84.3 71.6,84.9 72.0,85.4 72.5,85.9 72.9,86.4 73.3,86.9 73.7,87.4 74.1,87.8 74.6,88.2 75.0,88.6 75.4,89.0 75.8,89.3 76.2,89.7 76.7,90.0 77.1,90.3 77.5,90.6 77.9,90.9 78.4,91.2 78.8,91.5 79.2,91.8 79.6,92.0 80.0,92.3 80.5,92.6 80.9,92.8 81.3,93.1 81.7,93.3 82.1,93.5 82.6,93.8 83.0,94.0 83.4,94.2 83.8,94.5 84.2,94.7 84.7,94.9 85.1,95.1 85.5,95.4 85.9,95.6 86.3,95.8 86.8,96.0 87.2,96.2 87.6,96.4 88.0,96.6 88.4,96.8 88.9,97.0 89.3,97.2 89.7,97.4 90.1,97.6 90.5,97.8 91.0,98.0 91.4,98.2 91.8,98.4 92.2,98.6 92.6,98.8 93.1,99.0 93.5,99.2 93.9,99.4 94.3,99.6 94.8,99.8 95.2,100.0 95.6,100.2 96.0,100.4 96.4,100.6 96.9,100.8 97.3,101.0 97.7,101.2 98.1,101.4 98.5,101.6 99.0,101.8 99.4,102.0 99.8,102.2 100.2,102.4 100.6,102.6 101.1,102.8 101.5,103.0 101.9,103.2 102.3,103.4 102.7,103.6 103.2,103.9 103.6,104.1 104.0,104.3 104.4,104.5 104.8,104.7 105.3,104.9 105.7,105.1 106.1,105.3 106.5,105.5 106.9,105.7 107.4,105.9 107.8,106.1 108.2,106.4 108.6,106.6 109.0,106.8 109.5,107.0 109.9,107.2 110.3,107.4 110.7,107.7 111.2,107.9 111.6,108.1 112.0,108.3 112.4,108.5 112.8,108.8 113.3,109.0 113.7,109.2 114.1,109.4 114.5,109.7 114.9,109.9 115.4,110.1 115.8,110.4 116.2,110.6 116.6,110.8 117.0,111.0 117.5,111.3 117.9,111.5 118.3,111.8 118.7,112.0 119.1,112.2 119.6,112.5 120.0,112.7 120.4,112.9 120.8,113.2 121.2,113.4 121.7,113.7 122.1,113.9 122.5,114.2 122.9,114.4 123.3,114.7 123.8,114.9 124.2,115.2 124.6,115.4 125.0,115.7 125.4,115.9 125.9,116.2 126.3,116.4 126.7,116.7 127.1,117.0 127.6,117.2 128.0,117.5 128.4,117.7 128.8,118.0 129.2,118.3 129.7,118.5 130.1,118.8 130.5,119.1 130.9,119.4 131.3,119.6 131.8,119.9 132.2,120.2 132.6,120.4 133.0,120.7 133.4,121.0 133.9,121.3 134.3,121.6 134.7,121.8 135.1,122.1" stroke="#a2f75d" stroke-opacity="0.55"/>
<polyline points="26.2,105.9 26.6,105.8 27.0,105.6 27.5,105.5 27.9,105.4 28.3,105.2 28.7,105.1 29.1,105.0 29.6,104.8 30.0,104.7 30.4,104.6 30.8,104.4 31.3,104.3 31.7,104.2 32.1,104.0 32.5,103.9 32.9,103.8 33.4,103.6 33.8,103.5 34.2,103.4 34.6,103.2 35.0,103.1 35.5,103.0 35.9,102.8 36.3,102.7 36.7,102.6 37.1,102.4 37.6,102.3 38.0,102.1 38.4,102.0 38.8,101.9 39.2,101.7 39.7,101.6 40.1,101.5 40.5,101.3 40.9,101.2 41.3,101.0 41.8,100.9 42.2,100.8 42.6,100.6 43.0,100.5 43.4,100.3 43.9,100.2 44.3,100.0 44.7,99.9 45.1,99.7 45.5,99.6 46.0,99.4 46.4,99.3 46.8,99.1 47.2,98.9 47.7,98.8 48.1,98.6 48.5,98.5 48.9,98.3 49.3,98.1 49.8,98.0 50.2,97.8 50.6,97.6 51.0,97.4 51.4,97.3 51.9,97.1 52.3,96.9 52.7,96.7 53.1,96.5 53.5,96.3 54.0,96.1 54.4,95.9 54.8,95.7 55.2,95.5 55.6,95.3 56.1,95.1 56.5,94.8 56.9,94.6 57.3,94.4 57.7,94.1 58.2,93.9 58.6,93.6 59.0,93.3 59.4,93.1 59.8,92.8 60.3,92.5 60.7,92.2 61.1,91.9 61.5,91.5 61.9,91.2 62.4,90.8 62.8,90.5 63.2,90.1 63.6,89.7 64.1,89.2 64.5,88.8 64.9,88.3 65.3,87.8 65.7,87.2 66.2,86.7 66.6,86.1 67.0,85.4 67.4,84.8 67.8,84.2 68.3,83.6 68.7,83.2 69.1,83.0 69.5,83.2 69.9,83.6 70.4,84.1 70.8,84.8 71.2,85.4 71.6,86.0 72.0,86.6 72.5,87.2 72.9,87.7 73.3,88.2 73.7,88.7 74.1,89.2 74.6,89.6 75.0,90.0 75.4,90.4 75.8,90.8 76.2,91.2 76.7,91.5 77.1,91.9 77.5,92.2 77.9,92.5 78.4,92.8 78.8,93.1 79.2,93.4 79.6,93.7 80.0,94.0 80.5,94.2 80.9,94.5 81.3,94.8 81.7,95.0 82.1,95.3 82.6,95.5 83.0,95.8 83.4,96.0 83.8,96.2 84.2,96.5 84.7,96.7 85.1,96.9 85.5,97.1 85.9,97.4 86.3,97.6 86.8,97.8 87.2,98.0 87.6,98.2 88.0,98.5 88.4,98.7 88.9,98.9 89.3,99.1 89.7,99.3 90.1,99.5 90.5,99.7 91.0,99.9 91.4,100.1 91.8,100.3 92.2,100.5 92.6,100.8 93.1,101.0 93.5,101.2 93.9,101.4 94.3,101.6 94.8,101.8 95.2,102.0 95.6,102.2 96.0,102.4 96.4,102.6 96.9,102.8 97.3,103.0 97.7,103.2 98.1,103.4 98.5,103.6 99.0,103.8 99.4,104.0 99.8,104.2 100.2,104.4 100.6,104.6 101.1,104.8 101.5,105.0 101.9,105.3 102.3,105.5 102.7,105.7 103.2,105.9 103.6,106.1 104.0,106.3 104.4,106.5 104.8,106.7 105.3,106.9 105.7,107.1 106.1,107.4 106.5,107.6 106.9,107.8 107.4,108.0 107.8,108.2 108.2,108.4 108.6,108.7 109.0,108.9 109.5,109.1 109.9,109.3 110.3,109.5 110.7,109.8 111.2,110.0 111.6,110.2 112.0,110.4 112.4,110.7 112.8,110.9 113.3,111.1 113.7,111.3 114.1,111.6 114.5,111.8 114.9,112.0 115.4,112.3 115.8,112.5 116.2,112.7 116.6,113.0 117.0,113.2 117.5,113.4 117.9,113.7 118.3,113.9 118.7,114.2 119.1,114.4 119.6,114.7 120.0,114.9 120.4,115.1 120.8,115.4 121.2,115.6 121.7,115.9 122.1,116.1 122.5,116.4 122.9,116.6 123.3,116.9 123.8,117.1 124.2,117.4 124.6,117.7 125.0,117.9 125.4,118.2 125.9,118.4 126.3,118.7 126.7,119.0 127.1,119.2 127.6,119.5 128.0,119.8 128.4,120.0 128.8,120.3 129.2,120.6 129.7,120.8 130.1,121.1 130.5,121.4 130.9,121.7 131.3,121.9 131.8,122.2 132.2,122.5 132.6,122.8 133.0,123.0 133.4,123.3 133.9,123.6 134.3,123.9 134.7,124.2 135.1,124.5" stroke="#93f76c" stroke-opacity="0.55"/>
<polyline points="26.2,107.9 26.6,107.8 27.0,107.7 27.5,107.5 27.9,107.4 28.3,107.3 28.7,107.1 29.1,107.0 29.6,106.9 30.0,106.7 30.4,106.6 30.8,106.4 31.3,106.3 31.7,106.2 32.1,106.0 32.5,105.9 32.9,105.8 33.4,105.6 33.8,105.5 34.2,105.4 34.6,105.2 35.0,105.1 35.5,104.9 35.9,104.8 36.3,104.7 36.7,104.5 37.1,104.4 37.6,104.2 38.0,104.1 38.4,104.0 38.8,103.8 39.2,103.7 39.7,103.5 40.1,103.4 40.5,103.3 40.9,103.1 41.3,103.0 41.8,102.8 42.2,102.7 42.6,102.5 43.0,102.4 43.4,102.2 43.9,102.1 44.3,101.9 44.7,101.8 45.1,101.6 45.5,101.5 46.0,101.3 46.4,101.1 46.8,101.0 47.2,100.8 47.7,100.7 48.1,100.5 48.5,100.3 48.9,100.2 49.3,100.0 49.8,99.8 50.2,99.6 50.6,99.5 51.0,99.3 51.4,99.1 51.9,98.9 52.3,98.7 52.7,98.5 53.1,98.3 53.5,98.1 54.0,97.9 54.4,97.7 54.8,97.5 55.2,97.3 55.6,97.0 56.1,96.8 56.5,96.6 56.9,96.3 57.3,96.1 57.7,95.8 58.2,95.6 58.6,95.3 59.0,95.0 59.4,94.7 59.8,94.4 60.3,94.1 60.7,93.8 61.1,93.5 61.5,93.1 61.9,92.8 62.4,92.4 62.8,92.0 63.2,91.6 63.6,91.1 64.1,90.7 64.5,90.2 64.9,89.7 65.3,89.1 65.7,88.5 66.2,87.9 66.6,87.3 67.0,86.6 67.4,85.9 67.8,85.2 68.3,84.5 68.7,84.0 69.1,83.8 69.5,84.0 69.9,84.5 70.4,85.1 70.8,85.8 71.2,86.5 71.6,87.2 72.0,87.9 72.5,88.5 72.9,89.1 73.3,89.6 73.7,90.1 74.1,90.6 74.6,91.1 75.0,91.5 75.4,91.9 75.8,92.3 76.2,92.7 76.7,93.1 77.1,93.4 77.5,93.8 77.9,94.1 78.4,94.4 78.8,94.8 79.2,95.1 79.6,95.4 80.0,95.7 80.5,95.9 80.9,96.2 81.3,96.5 81.7,96.7 82.1,97.0 82.6,97.3 83.0,97.5 83.4,97.8 83.8,98.0 84.2,98.3 84.7,98.5 85.1,98.7 85.5,99.0 85.9,99.2 86.3,99.4 86.8,99.6 87.2,99.9 87.6,100.1 88.0,100.3 88.4,100.5 88.9,100.7 89.3,101.0 89.7,101.2 90.1,101.4 90.5,101.6 91.0,101.8 91.4,102.0 91.8,102.2 92.2,102.5 92.6,102.7 93.1,102.9 93.5,103.1 93.9,103.3 94.3,103.5 94.8,103.7 95.2,103.9 95.6,104.1 96.0,104.3 96.4,104.5 96.9,104.7 97.3,105.0 97.7,105.2 98.1,105.4 98.5,105.6 99.0,105.8 99.4,106.0 99.8,106.2 100.2,106.4 100.6,106.6 101.1,106.8 101.5,107.0 101.9,107.3 102.3,107.5 102.7,107.7 103.2,107.9 103.6,108.1 104.0,108.3 104.4,108.5 104.8,108.8 105.3,109.0 105.7,109.2 106.1,109.4 106.5,109.6 106.9,109.8 107.4,110.1 107.8,110.3 108.2,110.5 108.6,110.7 109.0,111.0 109.5,111.2 109.9,111.4 110.3,111.6 110.7,111.9 111.2,112.1 111.6,112.3 112.0,112.5 112.4,112.8 112.8,113.0 113.3,113.2 113.7,113.5 114.1,113.7 114.5,113.9 114.9,114.2 115.4,114.4 115.8,114.7 116.2,114.9 116.6,115.1 117.0,115.4 117.5,115.6 117.9,115.9 118.3,116.1 118.7,116.3 119.1,116.6 119.6,116.8 120.0,117.1 120.4,117.3 120.8,117.6 121.2,117.8 121.7,118.1 122.1,118.4 122.5,118.6 122.9,118.9 123.3,119.1 123.8,119.4 124.2,119.6 124.6,119.9 125.0,120.2 125.4,120.4 125.9,120.7 126.3,121.0 126.7,121.2 127.1,121.5 127.6,121.8 128.0,122.0 128.4,122.3 128.8,122.6 129.2,122.9 129.7,123.1 130.1,123.4 130.5,123.7 130.9,124.0 131.3,124.2 131.8,124.5 132.2,124.8 132.6,125.1 133.0,125.4 133.4,125.7 133.9,125.9 134.3,126.2 134.7,126.5 135.1,126.8" stroke="#84f77b" stroke-opacity="0.55"/>
<polyline points="26.2,110.0 26.6,109.8 27.0,109.7 27.5,109.6 27.9,109.4 28.3,109.3 28.7,109.1 29.1,109.0 29.6,108.9 30.0,108.7 30.4,108.6 30.8,108.5 31.3,108.3 31.7,108.2 32.1,108.0 32.5,107.9 32.9,107.8 33.4,107.6 33.8,107.5 34.2,107.3 34.6,107.2 35.0,107.1 35.5,106.9 35.9,106.8 36.3,106.6 36.7,106.5 37.1,106.4 37.6,106.2 38.0,106.1 38.4,105.9 38.8,105.8 39.2,105.6 39.7,105.5 40.1,105.3 40.5,105.2 40.9,105.1 41.3,104.9 41.8,104.8 42.2,104.6 42.6,104.5 43.0,104.3 43.4,104.1 43.9,104.0 44.3,103.8 44.7,103.7 45.1,103.5 45.5,103.4 46.0,103.2 46.4,103.0 46.8,102.9 47.2,102.7 47.7,102.5 48.1,102.4 48.5,102.2 48.9,102.0 49.3,101.9 49.8,101.7 50.2,101.5 50.6,101.3 51.0,101.1 51.4,100.9 51.9,100.7 52.3,100.5 52.7,100.3 53.1,100.1 53.5,99.9 54.0,99.7 54.4,99.5 54.8,99.3 55.2,99.1 55.6,98.8 56.1,98.6 56.5,98.3 56.9,98.1 57.3,97.8 57.7,97.6 58.2,97.3 58.6,97.0 59.0,96.7 59.4,96.4 59.8,96.1 60.3,95.8 60.7,95.4 61.1,95.1 61.5,94.7 61.9,94.3 62.4,93.9 62.8,93.5 63.2,93.1 63.6,92.6 64.1,92.1 64.5,91.6 64.9,91.1 65.3,90.5 65.7,89.9 66.2,89.2 66.6,88.5 67.0,87.8 67.4,87.0 67.8,86.2 68.3,85.4 68.7,84.9 69.1,84.6 69.5,84.9 69.9,85.4 70.4,86.2 70.8,86.9 71.2,87.7 71.6,88.5 72.0,89.2 72.5,89.8 72.9,90.4 73.3,91.0 73.7,91.5 74.1,92.1 74.6,92.6 75.0,93.0 75.4,93.5 75.8,93.9 76.2,94.3 76.7,94.7 77.1,95.1 77.5,95.4 77.9,95.8 78.4,96.1 78.8,96.4 79.2,96.8 79.6,97.1 80.0,97.4 80.5,97.7 80.9,97.9 81.3,98.2 81.7,98.5 82.1,98.8 82.6,99.0 83.0,99.3 83.4,99.6 83.8,99.8 84.2,100.1 84.7,100.3 85.1,100.5 85.5,100.8 85.9,101.0 86.3,101.3 86.8,101.5 87.2,101.7 87.6,101.9 88.0,102.2 88.4,102.4 88.9,102.6 89.3,102.8 89.7,103.1 90.1,103.3 90.5,103.5 91.0,103.7 91.4,103.9 91.8,104.1 92.2,104.4 92.6,104.6 93.1,104.8 93.5,105.0 93.9,105.2 94.3,105.4 94.8,105.6 95.2,105.9 95.6,106.1 96.0,106.3 96.4,106.5 96.9,106.7 97.3,106.9 97.7,107.1 98.1,107.3 98.5,107.6 99.0,107.8 99.4,108.0 99.8,108.2 100.2,108.4 100.6,108.6 101.1,108.8 101.5,109.1 101.9,109.3 102.3,109.5 102.7,109.7 103.2,109.9 103.6,110.1 104.0,110.4 104.4,110.6 104.8,110.8 105.3,111.0 105.7,111.2 106.1,111.5 106.5,111.7 106.9,111.9 107.4,112.1 107.8,112.4 108.2,112.6 108.6,112.8 109.0,113.0 109.5,113.3 109.9,113.5 110.3,113.7 110.7,114.0 111.2,114.2 111.6,114.4 112.0,114.7 112.4,114.9 112.8,115.1 113.3,115.4 113.7,115.6 114.1,115.8 114.5,116.1 114.9,116.3 115.4,116.6 115.8,116.8 116.2,117.0 116.6,117.3 117.0,117.5 117.5,117.8 117.9,118.0 118.3,118.3 118.7,118.5 119.1,118.8 119.6,119.0 120.0,119.3 120.4,119.5 120.8,119.8 121.2,120.1 121.7,120.3 122.1,120.6 122.5,120.8 122.9,121.1 123.3,121.3 123.8,121.6 124.2,121.9 124.6,122.1 125.0,122.4 125.4,122.7 125.9,122.9 126.3,123.2 126.7,123.5 127.1,123.8 127.6,124.0 128.0,124.3 128.4,124.6 128.8,124.9 129.2,125.1 129.7,125.4 130.1,125.7 130.5,126.0 130.9,126.3 131.3,126.5 131.8,126.8 132.2,127.1 132.6,127.4 133.0,127.7 133.4,128.0 133.9,128.3 134.3,128.6 134.7,128.9 135.1,129.2" stroke="#76f789" stroke-opacity="0.55"/>
<polyline points="26.2,112.0 26.6,111.9 27.0,111.7 27.5,111.6 27.9,111.5 28.3,111.3 28.7,111.2 29.1,111.0 29.6,110.9 30.0,110.8 30.4,110.6 30.8,110.5 31.3,110.3 31.7,110.2 32.1,110.0 32.5,109.9 32.9,109.8 33.4,109.6 33.8,109.5 34.2,109.3 34.6,109.2 35.0,109.1 35.5,108.9 35.9,108.8 36.3,108.6 36.7,108.5 37.1,108.3 37.6,108.2 38.0,108.0 38.4,107.9 38.8,107.8 39.2,107.6 39.7,107.5 40.1,107.3 40.5,107.2 40.9,107.0 41.3,106.9 41.8,106.7 42.2,106.6 42.6,106.4 43.0,106.3 43.4,106.1 43.9,105.9 44.3,105.8 44.7,105.6 45.1,105.5 45.5,105.3 46.0,105.1 46.4,105.0 46.8,104.8 47.2,104.6 47.7,104.5 48.1,104.3 48.5,104.1 48.9,103.9 49.3,103.8 49.8,103.6 50.2,103.4 50.6,103.2 51.0,103.0 51.4,102.8 51.9,102.6 52.3,102.4 52.7,102.2 53.1,102.0 53.5,101.8 54.0,101.6 54.4,101.4 54.8,101.1 55.2,100.9 55.6,100.7 56.1,100.4 56.5,100.2 56.9,99.9 57.3,99.7 57.7,99.4 58.2,99.1 58.6,98.8 59.0,98.5 59.4,98.2 59.8,97.9 60.3,97.5 60.7,97.2 61.1,96.8 61.5,96.4 61.9,96.0 62.4,95.6 62.8,95.2 63.2,94.7 63.6,94.3 64.1,93.7 64.5,93.2 64.9,92.6 65.3,92.0 65.7,91.4 66.2,90.7 66.6,89.9 67.0,89.1 67.4,88.3 67.8,87.4 68.3,86.6 68.7,86.0 69.1,85.7 69.5,86.0 69.9,86.6 70.4,87.4 70.8,88.3 71.2,89.1 71.6,89.9 72.0,90.6 72.5,91.3 72.9,92.0 73.3,92.6 73.7,93.1 74.1,93.7 74.6,94.2 75.0,94.7 75.4,95.1 75.8,95.6 76.2,96.0 76.7,96.4 77.1,96.8 77.5,97.2 77.9,97.5 78.4,97.9 78.8,98.2 79.2,98.5 79.6,98.9 80.0,99.2 80.5,99.5 80.9,99.8 81.3,100.1 81.7,100.3 82.1,100.6 82.6,100.9 83.0,101.2 83.4,101.4 83.8,101.7 84.2,101.9 84.7,102.2 85.1,102.4 85.5,102.7 85.9,102.9 86.3,103.2 86.8,103.4 87.2,103.6 87.6,103.9 88.0,104.1 88.4,104.3 88.9,104.5 89.3,104.8 89.7,105.0 90.1,105.2 90.5,105.4 91.0,105.7 91.4,105.9 91.8,106.1 92.2,106.3 92.6,106.5 93.1,106.8 93.5,107.0 93.9,107.2 94.3,107.4 94.8,107.6 95.2,107.8 95.6,108.1 96.0,108.3 96.4,108.5 96.9,108.7 97.3,108.9 97.7,109.1 98.1,109.4 98.5,109.6 99.0,109.8 99.4,110.0 99.8,110.2 100.2,110.4 100.6,110.7 101.1,110.9 101.5,111.1 101.9,111.3 102.3,111.5 102.7,111.8 103.2,112.0 103.6,112.2 104.0,112.4 104.4,112.7 104.8,112.9 105.3,113.1 105.7,113.3 106.1,113.6 106.5,113.8 106.9,114.0 107.4,114.2 107.8,114.5 108.2,114.7 108.6,114.9 109.0,115.2 109.5,115.4 109.9,115.6 110.3,115.9 110.7,116.1 111.2,116.3 111.6,116.6 112.0,116.8 112.4,117.0 112.8,117.3 113.3,117.5 113.7,117.8 114.1,118.0 114.5,118.2 114.9,118.5 115.4,118.7 115.8,119.0 116.2,119.2 116.6,119.5 117.0,119.7 117.5,120.0 117.9,120.2 118.3,120.5 118.7,120.7 119.1,121.0 119.6,121.2 120.0,121.5 120.4,121.8 120.8,122.0 121.2,122.3 121.7,122.5 122.1,122.8 122.5,123.1 122.9,123.3 123.3,123.6 123.8,123.9 124.2,124.1 124.6,124.4 125.0,124.7 125.4,124.9 125.9,125.2 126.3,125.5 126.7,125.8 127.1,126.0 127.6,126.3 128.0,126.6 128.4,126.9 128.8,127.1 129.2,127.4 129.7,127.7 130.1,128.0 130.5,128.3 130.9,128.6 131.3,128.9 131.8,129.1 132.2,129.4 132.6,129.7 133.0,130.0 133.4,130.3 133.9,130.6 134.3,130.9 134.7,131.2 135.1,131.5" stroke="#68f797" stroke-opacity="0.55"/>
<polyline points="26.2,114.1 26.6,113.9 27.0,113.8 27.5,113.6 27.9,113.5 28.3,113.3 28.7,113.2 29.1,113.1 29.6,112.9 30.0,112.8 30.4,112.6 30.8,112.5 31.3,112.3 31.7,112.2 32.1,112.1 32.5,111.9 32.9,111.8 33.4,111.6 33.8,111.5 34.2,111.3 34.6,111.2 35.0,111.0 35.5,110.9 35.9,110.8 36.3,110.6 36.7,110.5 37.1,110.3 37.6,110.2 38.0,110.0 38.4,109.9 38.8,109.7 39.2,109.6 39.7,109.4 40.1,109.3 40.5,109.1 40.9,109.0 41.3,108.8 41.8,108.7 42.2,108.5 42.6,108.4 43.0,108.2 43.4,108.0 43.9,107.9 44.3,107.7 44.7,107.6 45.1,107.4 45.5,107.2 46.0,107.1 46.4,106.9 46.8,106.7 47.2,106.6 47.7,106.4 48.1,106.2 48.5,106.0 48.9,105.9 49.3,105.7 49.8,105.5 50.2,105.3 50.6,105.1 51.0,104.9 51.4,104.7 51.9,104.5 52.3,104.3 52.7,104.1 53.1,103.9 53.5,103.7 54.0,103.5 54.4,103.2 54.8,103.0 55.2,102.8 55.6,102.5 56.1,102.3 56.5,102.0 56.9,101.8 57.3,101.5 57.7,101.2 58.2,100.9 58.6,100.6 59.0,100.3 59.4,100.0 59.8,99.7 60.3,99.3 60.7,98.9 61.1,98.6 61.5,98.2 61.9,97.8 62.4,97.3 62.8,96.9 63.2,96.4 63.6,95.9 64.1,95.4 64.5,94.8 64.9,94.2 65.3,93.6 65.7,92.9 66.2,92.2 66.6,91.4 67.0,90.5 67.4,89.6 67.8,88.7 68.3,87.8 68.7,87.1 69.1,86.8 69.5,87.1 69.9,87.8 70.4,88.7 70.8,89.6 71.2,90.5 71.6,91.3 72.0,92.1 72.5,92.8 72.9,93.5 73.3,94.1 73.7,94.7 74.1,95.3 74.6,95.8 75.0,96.3 75.4,96.8 75.8,97.3 76.2,97.7 76.7,98.1 77.1,98.5 77.5,98.9 77.9,99.3 78.4,99.6 78.8,100.0 79.2,100.3 79.6,100.7 80.0,101.0 80.5,101.3 80.9,101.6 81.3,101.9 81.7,102.2 82.1,102.5 82.6,102.7 83.0,103.0 83.4,103.3 83.8,103.5 84.2,103.8 84.7,104.1 85.1,104.3 85.5,104.6 85.9,104.8 86.3,105.1 86.8,105.3 87.2,105.5 87.6,105.8 88.0,106.0 88.4,106.2 88.9,106.5 89.3,106.7 89.7,106.9 90.1,107.2 90.5,107.4 91.0,107.6 91.4,107.8 91.8,108.1 92.2,108.3 92.6,108.5 93.1,108.7 93.5,109.0 93.9,109.2 94.3,109.4 94.8,109.6 95.2,109.8 95.6,110.1 96.0,110.3 96.4,110.5 96.9,110.7 97.3,110.9 97.7,111.2 98.1,111.4 98.5,111.6 99.0,111.8 99.4,112.0 99.8,112.3 100.2,112.5 100.6,112.7 101.1,112.9 101.5,113.2 101.9,113.4 102.3,113.6 102.7,113.8 103.2,114.0 103.6,114.3 104.0,114.5 104.4,114.7 104.8,115.0 105.3,115.2 105.7,115.4 106.1,115.6 106.5,115.9 106.9,116.1 107.4,116.3 107.8,116.6 108.2,116.8 108.6,117.0 109.0,117.3 109.5,117.5 109.9,117.7 110.3,118.0 110.7,118.2 111.2,118.5 111.6,118.7 112.0,118.9 112.4,119.2 112.8,119.4 113.3,119.7 113.7,119.9 114.1,120.2 114.5,120.4 114.9,120.6 115.4,120.9 115.8,121.1 116.2,121.4 116.6,121.6 117.0,121.9 117.5,122.2 117.9,122.4 118.3,122.7 118.7,122.9 119.1,123.2 119.6,123.4 120.0,123.7 120.4,124.0 120.8,124.2 121.2,124.5 121.7,124.8 122.1,125.0 122.5,125.3 122.9,125.6 123.3,125.8 123.8,126.1 124.2,126.4 124.6,126.6 125.0,126.9 125.4,127.2 125.9,127.5 126.3,127.7 126.7,128.0 127.1,128.3 127.6,128.6 128.0,128.9 128.4,129.2 128.8,129.4 129.2,129.7 129.7,130.0 130.1,130.3 130.5,130.6 130.9,130.9 131.3,131.2 131.8,131.5 132.2,131.8 132.6,132.1 133.0,132.3 133.4,132.6 133.9,132.9 134.3,133.2 134.7,133.5 135.1,133.9" stroke="#59f7a6" stroke-opacity="0.55"/>
<polyline points="26.2,116.1 26.6,116.0 27.0,115.8 27.5,115.7 27.9,115.5 28.3,115.4 28.7,115.2 29.1,115.1 29.6,114.9 30.0,114.8 30.4,114.6 30.8,114.5 31.3,114.3 31.7,114.2 32.1,114.1 32.5,113.9 32.9,113.8 33.4,113.6 33.8,113.5 34.2,113.3 34.6,113.2 35.0,113.0 35.5,112.9 35.9,112.7 36.3,112.6 36.7,112.4 37.1,112.3 37.6,112.1 38.0,112.0 38.4,111.8 38.8,111.7 39.2,111.5 39.7,111.4 40.1,111.2 40.5,111.1 40.9,110.9 41.3,110.8 41.8,110.6 42.2,110.4 42.6,110.3 43.0,110.1 43.4,110.0 43.9,109.8 44.3,109.6 44.7,109.5 45.1,109.3 45.5,109.1 46.0,109.0 46.4,108.8 46.8,108.6 47.2,108.4 47.7,108.3 48.1,108.1 48.5,107.9 48.9,107.7 49.3,107.5 49.8,107.4 50.2,107.2 50.6,107.0 51.0,106.8 51.4,106.6 51.9,106.4 52.3,106.2 52.7,105.9 53.1,105.7 53.5,105.5 54.0,105.3 54.4,105.0 54.8,104.8 55.2,104.6 55.6,104.3 56.1,104.1 56.5,103.8 56.9,103.5 57.3,103.3 57.7,103.0 58.2,102.7 58.6,102.4 59.0,102.1 59.4,101.7 59.8,101.4 60.3,101.0 60.7,100.7 61.1,100.3 61.5,99.9 61.9,99.4 62.4,99.0 62.8,98.5 63.2,98.0 63.6,97.5 64.1,97.0 64.5,96.4 64.9,95.8 65.3,95.1 65.7,94.4 66.2,93.6 66.6,92.8 67.0,91.9 67.4,91.0 67.8,90.0 68.3,89.0 68.7,88.2 69.1,87.8 69.5,88.2 69.9,89.0 70.4,89.9 70.8,90.9 71.2,91.9 71.6,92.7 72.0,93.6 72.5,94.3 72.9,95.0 73.3,95.7 73.7,96.3 74.1,96.9 74.6,97.4 75.0,97.9 75.4,98.4 75.8,98.9 76.2,99.4 76.7,99.8 77.1,100.2 77.5,100.6 77.9,101.0 78.4,101.4 78.8,101.7 79.2,102.1 79.6,102.4 80.0,102.7 80.5,103.1 80.9,103.4 81.3,103.7 81.7,104.0 82.1,104.3 82.6,104.5 83.0,104.8 83.4,105.1 83.8,105.4 84.2,105.6 84.7,105.9 85.1,106.1 85.5,106.4 85.9,106.7 86.3,106.9 86.8,107.1 87.2,107.4 87.6,107.6 88.0,107.9 88.4,108.1 88.9,108.4 89.3,108.6 89.7,108.8 90.1,109.1 90.5,109.3 91.0,109.5 91.4,109.7 91.8,110.0 92.2,110.2 92.6,110.4 93.1,110.7 93.5,110.9 93.9,111.1 94.3,111.3 94.8,111.6 95.2,111.8 95.6,112.0 96.0,112.2 96.4,112.5 96.9,112.7 97.3,112.9 97.7,113.1 98.1,113.3 98.5,113.6 99.0,113.8 99.4,114.0 99.8,114.2 100.2,114.5 100.6,114.7 101.1,114.9 101.5,115.2 101.9,115.4 102.3,115.6 102.7,115.8 103.2,116.1 103.6,116.3 104.0,116.5 104.4,116.8 104.8,117.0 105.3,117.2 105.7,117.5 106.1,117.7 106.5,117.9 106.9,118.2 107.4,118.4 107.8,118.6 108.2,118.9 108.6,119.1 109.0,119.3 109.5,119.6 109.9,119.8 110.3,120.1 110.7,120.3 111.2,120.6 111.6,120.8 112.0,121.0 112.4,121.3 112.8,121.5 113.3,121.8 113.7,122.0 114.1,122.3 114.5,122.5 114.9,122.8 115.4,123.0 115.8,123.3 116.2,123.5 116.6,123.8 117.0,124.1 117.5,124.3 117.9,124.6 118.3,124.8 118.7,125.1 119.1,125.4 119.6,125.6 120.0,125.9 120.4,126.2 120.8,126.4 121.2,126.7 121.7,127.0 122.1,127.2 122.5,127.5 122.9,127.8 123.3,128.0 123.8,128.3 124.2,128.6 124.6,128.9 125.0,129.2 125.4,129.4 125.9,129.7 126.3,130.0 126.7,130.3 127.1,130.6 127.6,130.9 128.0,131.1 128.4,131.4 128.8,131.7 129.2,132.0 129.7,132.3 130.1,132.6 130.5,132.9 130.9,133.2 131.3,133.5 131.8,133.8 132.2,134.1 132.6,134.4 133.0,134.7 133.4,135.0 133.9,135.3 134.3,135.6 134.7,135.9 135.1,136.2" stroke="#4bf7b4" stroke-opacity="0.55"/>
<polyline points="26.2,118.1 26.6,118.0 27.0,117.8 27.5,117.7 27.9,117.5 28.3,117.4 28.7,117.2 29.1,117.1 29.6,116.9 30.0,116.8 30.4,116.6 30.8,116.5 31.3,116.3 31.7,116.2 32.1,116.0 32.5,115.9 32.9,115.7 33.4,115.6 33.8,115.4 34.2,115.3 34.6,115.1 35.0,115.0 35.5,114.8 35.9,114.7 36.3,114.5 36.7,114.4 37.1,114.2 37.6,114.1 38.0,113.9 38.4,113.7 38.8,113.6 39.2,113.4 39.7,113.3 40.1,113.1 40.5,113.0 40.9,112.8 41.3,112.6 41.8,112.5 42.2,112.3 42.6,112.2 43.0,112.0 43.4,111.8 43.9,111.7 44.3,111.5 44.7,111.3 45.1,111.1 45.5,111.0 46.0,110.8 46.4,110.6 46.8,110.4 47.2,110.3 47.7,110.1 48.1,109.9 48.5,109.7 48.9,109.5 49.3,109.3 49.8,109.1 50.2,109.0 50.6,108.8 51.0,108.5 51.4,108.3 51.9,108.1 52.3,107.9 52.7,107.7 53.1,107.5 53.5,107.3 54.0,107.0 54.4,106.8 54.8,106.5 55.2,106.3 55.6,106.0 56.1,105.8 56.5,105.5 56.9,105.2 57.3,105.0 57.7,104.7 58.2,104.4 58.6,104.1 59.0,103.7 59.4,103.4 59.8,103.0 60.3,102.7 60.7,102.3 61.1,101.9 61.5,101.5 61.9,101.1 62.4,100.6 62.8,100.1 63.2,99.6 63.6,99.1 64.1,98.5 64.5,97.9 64.9,97.3 65.3,96.6 65.7,95.8 66.2,95.1 66.6,94.2 67.0,93.3 67.4,92.3 67.8,91.3 68.3,90.2 68.7,89.3 69.1,88.9 69.5,89.3 69.9,90.2 70.4,91.2 70.8,92.3 71.2,93.2 71.6,94.1 72.0,95.0 72.5,95.7 72.9,96.5 73.3,97.2 73.7,97.8 74.1,98.4 74.6,99.0 75.0,99.5 75.4,100.0 75.8,100.5 76.2,101.0 76.7,101.4 77.1,101.8 77.5,102.2 77.9,102.6 78.4,103.0 78.8,103.4 79.2,103.7 79.6,104.1 80.0,104.4 80.5,104.7 80.9,105.0 81.3,105.4 81.7,105.7 82.1,106.0 82.6,106.2 83.0,106.5 83.4,106.8 83.8,107.1 84.2,107.4 84.7,107.6 85.1,107.9 85.5,108.1 85.9,108.4 86.3,108.7 86.8,108.9 87.2,109.2 87.6,109.4 88.0,109.7 88.4,109.9 88.9,110.1 89.3,110.4 89.7,110.6 90.1,110.9 90.5,111.1 91.0,111.3 91.4,111.6 91.8,111.8 92.2,112.0 92.6,112.3 93.1,112.5 93.5,112.7 93.9,112.9 94.3,113.2 94.8,113.4 95.2,113.6 95.6,113.9 96.0,114.1 96.4,114.3 96.9,114.6 97.3,114.8 97.7,115.0 98.1,115.2 98.5,115.5 99.0,115.7 99.4,115.9 99.8,116.2 100.2,116.4 100.6,116.6 101.1,116.9 101.5,117.1 101.9,117.3 102.3,117.6 102.7,117.8 103.2,118.0 103.6,118.3 104.0,118.5 104.4,118.7 104.8,119.0 105.3,119.2 105.7,119.4 106.1,119.7 106.5,119.9 106.9,120.2 107.4,120.4 107.8,120.6 108.2,120.9 108.6,121.1 109.0,121.4 109.5,121.6 109.9,121.9 110.3,122.1 110.7,122.4 111.2,122.6 111.6,122.8 112.0,123.1 112.4,123.4 112.8,123.6 113.3,123.9 113.7,124.1 114.1,124.4 114.5,124.6 114.9,124.9 115.4,125.1 115.8,125.4 116.2,125.7 116.6,125.9 117.0,126.2 117.5,126.4 117.9,126.7 118.3,127.0 118.7,127.2 119.1,127.5 119.6,127.8 120.0,128.0 120.4,128.3 120.8,128.6 121.2,128.9 121.7,129.1 122.1,129.4 122.5,129.7 122.9,130.0 123.3,130.2 123.8,130.5 124.2,130.8 124.6,131.1 125.0,131.4 125.4,131.7 125.9,131.9 126.3,132.2 126.7,132.5 127.1,132.8 127.6,133.1 128.0,133.4 128.4,133.7 128.8,134.0 129.2,134.3 129.7,134.6 130.1,134.9 130.5,135.2 130.9,135.5 131.3,135.8 131.8,136.1 132.2,136.4 132.6,136.7 133.0,137.0 133.4,137.3 133.9,137.6 134.3,137.9 134.7,138.2 135.1,138.5" stroke="#3cf7c3" stroke-opacity="0.55"/>
<polyline points="26.2,120.2 26.6,120.0 27.0,119.9 27.5,119.7 27.9,119.6 28.3,119.4 28.7,119.3 29.1,119.1 29.6,118.9 30.0,118.8 30.4,118.6 30.8,118.5 31.3,118.3 31.7,118.2 32.1,118.0 32.5,117.9 32.9,117.7 33.4,117.5 33.8,117.4 34.2,117.2 34.6,117.1 35.0,116.9 35.5,116.8 35.9,116.6 36.3,116.5 36.7,116.3 37.1,116.1 37.6,116.0 38.0,115.8 38.4,115.7 38.8,115.5 39.2,115.3 39.7,115.2 40.1,115.0 40.5,114.9 40.9,114.7 41.3,114.5 41.8,114.4 42.2,114.2 42.6,114.0 43.0,113.9 43.4,113.7 43.9,113.5 44.3,113.3 44.7,113.2 45.1,113.0 45.5,112.8 46.0,112.6 46.4,112.5 46.8,112.3 47.2,112.1 47.7,111.9 48.1,111.7 48.5,111.5 48.9,111.3 49.3,111.1 49.8,110.9 50.2,110.7 50.6,110.5 51.0,110.3 51.4,110.1 51.9,109.9 52.3,109.7 52.7,109.5 53.1,109.2 53.5,109.0 54.0,108.8 54.4,108.5 54.8,108.3 55.2,108.0 55.6,107.8 56.1,107.5 56.5,107.2 56.9,107.0 57.3,106.7 57.7,106.4 58.2,106.1 58.6,105.7 59.0,105.4 59.4,105.1 59.8,104.7 60.3,104.3 60.7,103.9 61.1,103.5 61.5,103.1 61.9,102.7 62.4,102.2 62.8,101.7 63.2,101.2 63.6,100.6 64.1,100.1 64.5,99.4 64.9,98.8 65.3,98.1 65.7,97.3 66.2,96.5 66.6,95.6 67.0,94.7 67.4,93.7 67.8,92.6 68.3,91.4 68.7,90.4 69.1,90.0 69.5,90.4 69.9,91.4 70.4,92.5 70.8,93.6 71.2,94.6 71.6,95.5 72.0,96.4 72.5,97.2 72.9,98.0 73.3,98.7 73.7,99.3 74.1,99.9 74.6,100.5 75.0,101.1 75.4,101.6 75.8,102.1 76.2,102.5 76.7,103.0 77.1,103.4 77.5,103.9 77.9,104.3 78.4,104.6 78.8,105.0 79.2,105.4 79.6,105.7 80.0,106.1 80.5,106.4 80.9,106.7 81.3,107.0 81.7,107.3 82.1,107.7 82.6,108.0 83.0,108.2 83.4,108.5 83.8,108.8 84.2,109.1 84.7,109.4 85.1,109.6 85.5,109.8 85.9,110.2 86.3,110.4 86.8,110.7 87.2,111.0 87.6,111.2 88.0,111.4 88.4,111.6 88.9,111.9 89.3,112.2 89.7,112.5 90.1,112.6 90.5,113.0 91.0,113.1 91.4,113.4 91.8,113.8 92.2,114.0 92.6,114.1 93.1,114.0 93.5,114.6 93.9,115.0 94.3,114.9 94.8,115.4 95.2,115.7 95.6,115.7 96.0,115.8 96.4,115.9 96.9,116.4 97.3,116.8 97.7,116.9 98.1,116.9 98.5,117.1 99.0,117.7 99.4,117.5 99.8,118.1 100.2,118.5 100.6,118.4 101.1,118.8 101.5,119.3 101.9,119.5 102.3,119.5 102.7,119.6 103.2,120.2 103.6,120.0 104.0,120.6 104.4,120.9 104.8,120.8 105.3,120.9 105.7,121.5 106.1,121.7 106.5,121.8 106.9,121.9 107.4,122.5 107.8,122.7 108.2,123.0 108.6,123.5 109.0,123.3 109.5,123.7 109.9,123.7 110.3,124.2 110.7,124.1 111.2,124.6 111.6,124.7 112.0,125.4 112.4,125.6 112.8,125.8 113.3,125.5 113.7,126.1 114.1,126.6 114.5,127.2 114.9,127.2 115.4,127.0 115.8,127.6 116.2,127.6 116.6,128.4 117.0,128.2 117.5,128.4 117.9,128.8 118.3,129.3 118.7,129.6 119.1,129.5 119.6,130.2 120.0,130.5 120.4,130.5 120.8,131.0 121.2,131.3 121.7,131.4 122.1,131.6 122.5,132.2 122.9,132.2 123.3,132.2 123.8,132.6 124.2,132.8 124.6,133.1 125.0,133.6 125.4,133.8 125.9,134.4 126.3,134.7 126.7,134.9 127.1,135.3 127.6,135.0 128.0,135.4 128.4,136.3 128.8,136.1 129.2,136.5 129.7,136.8 130.1,137.1 130.5,137.3 130.9,138.0 131.3,138.3 131.8,138.5 132.2,138.5 132.6,139.0 133.0,139.3 133.4,139.7 133.9,139.8 134.3,140.2 134.7,140.3 135.1,140.5" stroke="#29f7d6" stroke-opacity="0.55"/>
<polyline points="26.2,122.2 26.6,122.1 27.0,121.9 27.5,121.8 27.9,121.6 28.3,121.4 28.7,121.3 29.1,121.1 29.6,121.0 30.0,120.8 30.4,120.6 30.8,120.5 31.3,120.3 31.7,120.2 32.1,120.0 32.5,119.8 32.9,119.7 33.4,119.5 33.8,119.4 34.2,119.2 34.6,119.1 35.0,118.9 35.5,118.7 35.9,118.6 36.3,118.4 36.7,118.2 37.1,118.1 37.6,117.9 38.0,117.8 38.4,117.6 38.8,117.4 39.2,117.3 39.7,117.1 40.1,116.9 40.5,116.8 40.9,116.6 41.3,116.4 41.8,116.3 42.2,116.1 42.6,115.9 43.0,115.8 43.4,115.6 43.9,115.4 44.3,115.2 44.7,115.1 45.1,114.9 45.5,114.7 46.0,114.5 46.4,114.3 46.8,114.1 47.2,114.0 47.7,113.8 48.1,113.6 48.5,113.4 48.9,113.2 49.3,113.0 49.8,112.8 50.2,112.6 50.6,112.4 51.0,112.2 51.4,111.9 51.9,111.7 52.3,111.5 52.7,111.3 53.1,111.1 53.5,110.8 54.0,110.6 54.4,110.3 54.8,110.1 55.2,109.8 55.6,109.6 56.1,109.3 56.5,109.0 56.9,108.7 57.3,108.4 57.7,108.1 58.2,107.8 58.6,107.5 59.0,107.2 59.4,106.8 59.8,106.5 60.3,106.1 60.7,105.7 61.1,105.3 61.5,104.9 61.9,104.4 62.4,103.9 62.8,103.4 63.2,102.9 63.6,102.4 64.1,101.8 64.5,101.1 64.9,100.5 65.3,99.8 65.7,99.0 66.2,98.2 66.6,97.3 67.0,96.3 67.4,95.3 67.8,94.2 68.3,93.0 68.7,92.0 69.1,91.5 69.5,92.0 69.9,93.0 70.4,94.1 70.8,95.2 71.2,96.3 71.6,97.2 72.0,98.1 72.5,98.9 72.9,99.6 73.3,100.3 73.7,101.0 74.1,101.6 74.6,102.2 75.0,102.8 75.4,103.3 75.8,103.8 76.2,104.3 76.7,104.7 77.1,105.2 77.5,105.6 77.9,106.0 78.4,106.4 78.8,106.8 79.2,107.1 79.6,107.5 80.0,107.8 80.5,108.2 80.9,108.5 81.3,108.8 81.7,109.2 82.1,109.4 82.6,109.7 83.0,110.0 83.4,110.3 83.8,110.6 84.2,110.9 84.7,111.1 85.1,111.4 85.5,111.8 85.9,112.0 86.3,112.0 86.8,112.3 87.2,112.9 87.6,113.0 88.0,113.0 88.4,113.4 88.9,113.9 89.3,113.9 89.7,114.2 90.1,114.8 90.5,114.7 91.0,115.0 91.4,115.1 91.8,115.1 92.2,115.3 92.6,115.6 93.1,115.8 93.5,116.7 93.9,117.0 94.3,116.8 94.8,117.2 95.2,117.3 95.6,117.8 96.0,117.7 96.4,117.6 96.9,118.4 97.3,118.6 97.7,119.0 98.1,119.8 98.5,119.4 99.0,119.6 99.4,119.7 99.8,120.3 100.2,119.8 100.6,120.1 101.1,120.0 101.5,122.0 101.9,121.5 102.3,121.2 102.7,121.5 103.2,121.8 103.6,122.2 104.0,122.0 104.4,122.8 104.8,123.0 105.3,122.1 105.7,123.5 106.1,123.3 106.5,123.8 106.9,123.8 107.4,124.4 107.8,124.3 108.2,124.4 108.6,125.2 109.0,125.6 109.5,125.9 109.9,126.3 110.3,125.6 110.7,125.7 111.2,127.4 111.6,127.3 112.0,127.1 112.4,127.1 112.8,128.2 113.3,128.2 113.7,128.2 114.1,128.2 114.5,129.2 114.9,128.6 115.4,129.7 115.8,129.2 116.2,130.1 116.6,130.3 117.0,130.1 117.5,130.5 117.9,130.7 118.3,131.3 118.7,131.6 119.1,131.3 119.6,131.3 120.0,132.2 120.4,132.5 120.8,133.2 121.2,132.4 121.7,133.6 122.1,133.6 122.5,133.5 122.9,135.5 123.3,134.8 123.8,135.5 124.2,135.4 124.6,135.5 125.0,136.4 125.4,135.6 125.9,135.4 126.3,136.8 126.7,137.0 127.1,136.6 127.6,137.4 128.0,138.4 128.4,138.0 128.8,138.8 129.2,138.3 129.7,139.4 130.1,138.8 130.5,140.3 130.9,140.1 131.3,141.2 131.8,139.6 132.2,141.0 132.6,141.4 133.0,141.4 133.4,141.9 133.9,142.1 134.3,141.6 134.7,142.2 135.1,143.4" stroke="#16f7e9" stroke-opacity="0.55"/>
<polyline points="26.2,124.3 26.6,124.1 27.0,123.9 27.5,123.8 27.9,123.6 28.3,123.5 28.7,123.3 29.1,123.1 29.6,123.0 30.0,122.8 30.4,122.6 30.8,122.5 31.3,122.3 31.7,122.2 32.1,122.0 32.5,121.8 32.9,121.7 33.4,121.5 33.8,121.3 34.2,121.2 34.6,121.0 35.0,120.9 35.5,120.7 35.9,120.5 36.3,120.4 36.7,120.2 37.1,120.0 37.6,119.9 38.0,119.7 38.4,119.5 38.8,119.4 39.2,119.2 39.7,119.0 40.1,118.9 40.5,118.7 40.9,118.5 41.3,118.3 41.8,118.2 42.2,118.0 42.6,117.8 43.0,117.7 43.4,117.5 43.9,117.3 44.3,117.1 44.7,116.9 45.1,116.8 45.5,116.6 46.0,116.4 46.4,116.2 46.8,116.0 47.2,115.8 47.7,115.6 48.1,115.4 48.5,115.2 48.9,115.0 49.3,114.8 49.8,114.6 50.2,114.4 50.6,114.2 51.0,114.0 51.4,113.8 51.9,113.6 52.3,113.3 52.7,113.1 53.1,112.9 53.5,112.6 54.0,112.4 54.4,112.1 54.8,111.9 55.2,111.6 55.6,111.4 56.1,111.1 56.5,110.8 56.9,110.5 57.3,110.2 57.7,109.9 58.2,109.6 58.6,109.3 59.0,108.9 59.4,108.6 59.8,108.2 60.3,107.8 60.7,107.4 61.1,107.0 61.5,106.6 61.9,106.1 62.4,105.7 62.8,105.2 63.2,104.6 63.6,104.1 64.1,103.5 64.5,102.8 64.9,102.1 65.3,101.5 65.7,100.7 66.2,99.8 66.6,98.9 67.0,98.0 67.4,96.9 67.8,95.8 68.3,94.6 68.7,93.5 69.1,93.1 69.5,93.5 69.9,94.6 70.4,95.7 70.8,96.9 71.2,97.9 71.6,98.9 72.0,99.7 72.5,100.5 72.9,101.3 73.3,102.0 73.7,102.7 74.1,103.3 74.6,103.9 75.0,104.5 75.4,105.0 75.8,105.5 76.2,106.0 76.7,106.5 77.1,106.9 77.5,107.3 77.9,107.7 78.4,108.1 78.8,108.5 79.2,108.9 79.6,109.3 80.0,109.6 80.5,109.9 80.9,110.2 81.3,110.6 81.7,110.9 82.1,111.2 82.6,111.5 83.0,111.7 83.4,112.2 83.8,112.4 84.2,112.8 84.7,113.0 85.1,113.2 85.5,113.8 85.9,113.8 86.3,114.2 86.8,114.2 87.2,114.8 87.6,114.9 88.0,115.2 88.4,115.1 88.9,115.6 89.3,115.5 89.7,115.9 90.1,116.6 90.5,117.0 91.0,117.0 91.4,117.0 91.8,117.5 92.2,118.0 92.6,117.7 93.1,118.2 93.5,118.7 93.9,118.5 94.3,119.0 94.8,119.8 95.2,119.4 95.6,119.4 96.0,120.2 96.4,120.8 96.9,120.1 97.3,120.1 97.7,121.0 98.1,121.0 98.5,121.7 99.0,121.6 99.4,122.6 99.8,122.3 100.2,122.2 100.6,122.9 101.1,122.9 101.5,123.0 101.9,122.6 102.3,123.9 102.7,124.7 103.2,124.5 103.6,124.8 104.0,124.3 104.4,124.0 104.8,125.8 105.3,125.3 105.7,125.3 106.1,126.0 106.5,126.2 106.9,126.9 107.4,125.9 107.8,126.5 108.2,127.8 108.6,127.2 109.0,128.4 109.5,127.6 109.9,127.6 110.3,129.6 110.7,128.9 111.2,129.1 111.6,127.9 112.0,129.1 112.4,129.3 112.8,130.0 113.3,130.1 113.7,130.1 114.1,130.7 114.5,130.7 114.9,131.4 115.4,132.3 115.8,131.7 116.2,132.1 116.6,133.3 117.0,133.3 117.5,133.3 117.9,132.3 118.3,133.1 118.7,132.8 119.1,135.4 119.6,134.1 120.0,133.7 120.4,135.2 120.8,134.9 121.2,136.0 121.7,135.5 122.1,136.1 122.5,137.2 122.9,136.0 123.3,136.9 123.8,136.9 124.2,138.5 124.6,137.3 125.0,138.5 125.4,137.9 125.9,139.4 126.3,138.3 126.7,139.5 127.1,139.5 127.6,140.2 128.0,141.2 128.4,140.6 128.8,140.1 129.2,140.4 129.7,141.6 130.1,141.0 130.5,142.1 130.9,143.1 131.3,142.7 131.8,143.0 132.2,142.7 132.6,145.0 133.0,143.2 133.4,143.8 133.9,144.2 134.3,145.8 134.7,146.2 135.1,145.0" stroke="#08f2f7" stroke-opacity="0.55"/>
<polyline points="26.2,126.3 26.6,126.1 27.0,126.0 27.5,125.8 27.9,125.6 28.3,125.5 28.7,125.3 29.1,125.1 29.6,125.0 30.0,124.8 30.4,124.6 30.8,124.5 31.3,124.3 31.7,124.2 32.1,124.0 32.5,123.8 32.9,123.7 33.4,123.5 33.8,123.3 34.2,123.2 34.6,123.0 35.0,122.8 35.5,122.7 35.9,122.5 36.3,122.3 36.7,122.1 37.1,122.0 37.6,121.8 38.0,121.6 38.4,121.5 38.8,121.3 39.2,121.1 39.7,121.0 40.1,120.8 40.5,120.6 40.9,120.4 41.3,120.3 41.8,120.1 42.2,119.9 42.6,119.7 43.0,119.5 43.4,119.4 43.9,119.2 44.3,119.0 44.7,118.8 45.1,118.6 45.5,118.4 46.0,118.3 46.4,118.1 46.8,117.9 47.2,117.7 47.7,117.5 48.1,117.3 48.5,117.1 48.9,116.9 49.3,116.7 49.8,116.5 50.2,116.3 50.6,116.0 51.0,115.8 51.4,115.6 51.9,115.4 52.3,115.1 52.7,114.9 53.1,114.7 53.5,114.4 54.0,114.2 54.4,113.9 54.8,113.7 55.2,113.4 55.6,113.1 56.1,112.9 56.5,112.6 56.9,112.3 57.3,112.0 57.7,111.7 58.2,111.3 58.6,111.1 59.0,110.7 59.4,110.3 59.8,110.0 60.3,109.6 60.7,109.1 61.1,108.7 61.5,108.4 61.9,107.8 62.4,107.4 62.8,106.8 63.2,106.4 63.6,105.9 64.1,105.0 64.5,104.4 64.9,103.9 65.3,103.1 65.7,102.6 66.2,101.5 66.6,100.5 67.0,99.5 67.4,98.5 67.8,97.4 68.3,96.2 68.7,94.8 69.1,94.6 69.5,95.0 69.9,96.0 70.4,97.5 70.8,98.3 71.2,99.8 71.6,100.5 72.0,101.4 72.5,102.2 72.9,103.1 73.3,103.7 73.7,104.3 74.1,105.1 74.6,105.5 75.0,106.3 75.4,106.7 75.8,107.1 76.2,107.8 76.7,108.2 77.1,108.7 77.5,109.1 77.9,109.4 78.4,109.9 78.8,110.2 79.2,110.7 79.6,111.0 80.0,111.3 80.5,111.7 80.9,112.0 81.3,112.2 81.7,112.7 82.1,113.0 82.6,113.2 83.0,113.5 83.4,113.9 83.8,114.2 84.2,114.5 84.7,114.7 85.1,114.8 85.5,115.3 85.9,115.4 86.3,115.4 86.8,116.6 87.2,116.5 87.6,116.8 88.0,117.0 88.4,116.8 88.9,117.6 89.3,117.7 89.7,117.4 90.1,119.0 90.5,119.0 91.0,119.2 91.4,119.0 91.8,119.0 92.2,119.9 92.6,119.1 93.1,119.2 93.5,120.6 93.9,120.8 94.3,121.3 94.8,120.6 95.2,121.5 95.6,120.9 96.0,121.1 96.4,122.0 96.9,122.7 97.3,124.0 97.7,122.5 98.1,122.6 98.5,123.2 99.0,124.0 99.4,123.0 99.8,124.0 100.2,123.7 100.6,123.9 101.1,124.0 101.5,124.4 101.9,126.4 102.3,125.2 102.7,125.8 103.2,126.4 103.6,126.9 104.0,127.2 104.4,127.1 104.8,127.2 105.3,127.2 105.7,129.0 106.1,128.5 106.5,127.5 106.9,127.4 107.4,128.7 107.8,129.2 108.2,127.5 108.6,130.1 109.0,128.7 109.5,129.1 109.9,129.8 110.3,129.5 110.7,130.1 111.2,131.0 111.6,130.6 112.0,129.4 112.4,131.5 112.8,131.1 113.3,130.7 113.7,133.2 114.1,132.8 114.5,133.8 114.9,133.2 115.4,134.0 115.8,132.9 116.2,134.4 116.6,133.9 117.0,134.6 117.5,134.6 117.9,136.0 118.3,134.8 118.7,135.9 119.1,136.3 119.6,137.1 120.0,136.3 120.4,137.4 120.8,137.9 121.2,137.6 121.7,139.7 122.1,137.2 122.5,138.9 122.9,138.0 123.3,140.1 123.8,141.0 124.2,140.4 124.6,139.7 125.0,139.3 125.4,139.5 125.9,140.0 126.3,141.8 126.7,141.9 127.1,141.5 127.6,141.5 128.0,143.2 128.4,143.5 128.8,144.1 129.2,142.4 129.7,144.5 130.1,143.8 130.5,144.3 130.9,144.3 131.3,146.2 131.8,145.3 132.2,144.9 132.6,145.5 133.0,146.6 133.4,146.0 133.9,146.7 134.3,147.5 134.7,147.5 135.1,146.1" stroke="#08dff7" stroke-opacity="0.55"/>
<polyline points="26.2,128.3 26.6,128.2 27.0,128.0 27.5,127.8 27.9,127.7 28.3,127.5 28.7,127.3 29.1,127.2 29.6,127.0 30.0,126.8 30.4,126.7 30.8,126.5 31.3,126.3 31.7,126.1 32.1,126.0 32.5,125.8 32.9,125.6 33.4,125.5 33.8,125.3 34.2,125.1 34.6,125.0 35.0,124.8 35.5,124.6 35.9,124.4 36.3,124.3 36.7,124.1 37.1,123.9 37.6,123.8 38.0,123.6 38.4,123.4 38.8,123.2 39.2,123.1 39.7,122.9 40.1,122.7 40.5,122.5 40.9,122.3 41.3,122.2 41.8,122.0 42.2,121.8 42.6,121.6 43.0,121.4 43.4,121.2 43.9,121.1 44.3,120.9 44.7,120.7 45.1,120.5 45.5,120.3 46.0,120.1 46.4,119.9 46.8,119.7 47.2,119.5 47.7,119.3 48.1,119.1 48.5,118.9 48.9,118.7 49.3,118.5 49.8,118.3 50.2,118.0 50.6,117.9 51.0,117.6 51.4,117.4 51.9,117.2 52.3,117.0 52.7,116.7 53.1,116.4 53.5,116.3 54.0,116.0 54.4,115.7 54.8,115.5 55.2,115.2 55.6,114.9 56.1,114.6 56.5,114.4 56.9,114.0 57.3,113.7 57.7,113.5 58.2,113.1 58.6,112.7 59.0,112.5 59.4,112.0 59.8,111.6 60.3,111.4 60.7,110.9 61.1,110.3 61.5,110.2 61.9,109.5 62.4,109.0 62.8,108.6 63.2,108.0 63.6,107.6 64.1,106.8 64.5,106.3 64.9,105.4 65.3,104.8 65.7,104.0 66.2,102.9 66.6,102.1 67.0,101.4 67.4,100.2 67.8,99.2 68.3,97.6 68.7,96.2 69.1,95.4 69.5,96.3 69.9,97.9 70.4,98.7 70.8,100.4 71.2,101.5 71.6,102.4 72.0,102.9 72.5,104.2 72.9,104.5 73.3,105.4 73.7,105.7 74.1,106.7 74.6,107.4 75.0,108.0 75.4,108.5 75.8,108.9 76.2,109.6 76.7,110.2 77.1,110.4 77.5,110.8 77.9,111.2 78.4,111.6 78.8,112.1 79.2,112.5 79.6,112.6 80.0,113.1 80.5,113.4 80.9,113.8 81.3,114.2 81.7,114.5 82.1,114.7 82.6,115.1 83.0,115.4 83.4,115.6 83.8,116.1 84.2,116.5 84.7,116.7 85.1,116.9 85.5,116.7 85.9,116.8 86.3,118.0 86.8,118.2 87.2,118.2 87.6,119.2 88.0,119.0 88.4,118.5 88.9,119.6 89.3,119.8 89.7,119.3 90.1,119.3 90.5,120.4 91.0,120.6 91.4,120.7 91.8,120.6 92.2,122.3 92.6,121.4 93.1,122.1 93.5,121.9 93.9,122.0 94.3,124.1 94.8,122.2 95.2,123.1 95.6,123.6 96.0,123.2 96.4,123.5 96.9,122.5 97.3,123.8 97.7,123.9 98.1,124.6 98.5,124.5 99.0,126.1 99.4,124.9 99.8,125.7 100.2,125.4 100.6,125.5 101.1,127.9 101.5,126.4 101.9,126.4 102.3,126.3 102.7,129.6 103.2,127.5 103.6,129.5 104.0,129.1 104.4,128.3 104.8,128.4 105.3,129.1 105.7,129.8 106.1,130.1 106.5,129.2 106.9,129.4 107.4,130.4 107.8,132.5 108.2,133.3 108.6,132.9 109.0,132.1 109.5,131.1 109.9,132.5 110.3,133.0 110.7,132.8 111.2,133.2 111.6,133.7 112.0,134.3 112.4,134.5 112.8,134.3 113.3,134.3 113.7,135.2 114.1,134.0 114.5,136.3 114.9,135.0 115.4,136.5 115.8,135.4 116.2,137.3 116.6,136.6 117.0,135.9 117.5,136.4 117.9,138.3 118.3,138.4 118.7,139.2 119.1,138.7 119.6,140.2 120.0,139.3 120.4,140.1 120.8,139.6 121.2,140.1 121.7,140.2 122.1,140.4 122.5,139.8 122.9,141.3 123.3,141.9 123.8,140.6 124.2,145.1 124.6,143.2 125.0,143.6 125.4,141.3 125.9,142.5 126.3,142.9 126.7,143.8 127.1,143.7 127.6,143.0 128.0,146.4 128.4,145.9 128.8,144.9 129.2,146.5 129.7,145.2 130.1,145.5 130.5,145.5 130.9,148.6 131.3,147.1 131.8,146.5 132.2,148.4 132.6,147.2 133.0,148.9 133.4,150.1 133.9,147.6 134.3,151.1 134.7,149.8 135.1,150.4" stroke="#08cbf7" stroke-opacity="0.55"/>
<polyline points="26.2,130.4 26.6,130.2 27.0,130.0 27.5,129.9 27.9,129.7 28.3,129.5 28.7,129.4 29.1,129.2 29.6,129.0 30.0,128.8 30.4,128.7 30.8,128.5 31.3,128.3 31.7,128.1 32.1,128.0 32.5,127.8 32.9,127.6 33.4,127.4 33.8,127.3 34.2,127.1 34.6,126.9 35.0,126.8 35.5,126.6 35.9,126.4 36.3,126.2 36.7,126.1 37.1,125.9 37.6,125.7 38.0,125.5 38.4,125.3 38.8,125.2 39.2,125.0 39.7,124.8 40.1,124.6 40.5,124.5 40.9,124.3 41.3,124.1 41.8,123.9 42.2,123.7 42.6,123.6 43.0,123.4 43.4,123.2 43.9,123.0 44.3,122.8 44.7,122.6 45.1,122.4 45.5,122.2 46.0,122.0 46.4,121.8 46.8,121.6 47.2,121.4 47.7,121.1 48.1,121.0 48.5,120.8 48.9,120.6 49.3,120.4 49.8,120.2 50.2,119.9 50.6,119.7 51.0,119.5 51.4,119.3 51.9,119.0 52.3,118.8 52.7,118.5 53.1,118.4 53.5,118.2 54.0,117.8 54.4,117.5 54.8,117.3 55.2,117.0 55.6,116.7 56.1,116.4 56.5,116.0 56.9,116.0 57.3,115.6 57.7,115.3 58.2,115.0 58.6,114.5 59.0,114.0 59.4,113.8 59.8,113.6 60.3,113.0 60.7,112.6 61.1,111.9 61.5,112.0 61.9,111.3 62.4,110.7 62.8,110.2 63.2,109.8 63.6,109.4 64.1,108.8 64.5,108.2 64.9,107.2 65.3,106.4 65.7,105.8 66.2,105.1 66.6,103.9 67.0,103.6 67.4,101.0 67.8,101.1 68.3,99.4 68.7,98.4 69.1,97.8 69.5,98.2 69.9,99.9 70.4,99.9 70.8,101.7 71.2,103.4 71.6,103.4 72.0,104.5 72.5,105.6 72.9,106.3 73.3,107.3 73.7,107.3 74.1,108.4 74.6,109.2 75.0,110.0 75.4,110.4 75.8,111.1 76.2,111.2 76.7,111.8 77.1,112.3 77.5,112.6 77.9,112.9 78.4,113.4 78.8,113.9 79.2,114.1 79.6,114.6 80.0,114.9 80.5,115.3 80.9,115.7 81.3,115.7 81.7,116.4 82.1,116.9 82.6,117.2 83.0,117.5 83.4,117.1 83.8,117.0 84.2,118.7 84.7,118.1 85.1,118.7 85.5,118.3 85.9,119.1 86.3,119.7 86.8,119.4 87.2,120.0 87.6,120.3 88.0,121.4 88.4,120.7 88.9,121.0 89.3,121.4 89.7,121.8 90.1,121.7 90.5,122.3 91.0,123.2 91.4,122.5 91.8,123.9 92.2,123.0 92.6,123.4 93.1,122.4 93.5,123.3 93.9,123.3 94.3,123.7 94.8,125.1 95.2,124.3 95.6,124.5 96.0,126.5 96.4,126.2 96.9,124.6 97.3,124.7 97.7,124.7 98.1,125.5 98.5,129.1 99.0,128.1 99.4,129.4 99.8,129.4 100.2,127.4 100.6,128.9 101.1,129.5 101.5,129.9 101.9,130.0 102.3,130.8 102.7,131.3 103.2,128.8 103.6,130.3 104.0,132.6 104.4,131.4 104.8,131.0 105.3,132.3 105.7,130.9 106.1,132.5 106.5,131.6 106.9,131.6 107.4,132.5 107.8,133.3 108.2,132.4 108.6,132.2 109.0,131.9 109.5,133.4 109.9,136.0 110.3,132.7 110.7,136.6 111.2,136.3 111.6,132.6 112.0,135.1 112.4,133.3 112.8,136.0 113.3,136.5 113.7,139.4 114.1,137.0 114.5,136.4 114.9,137.1 115.4,134.7 115.8,137.0 116.2,137.7 116.6,137.3 117.0,138.3 117.5,138.5 117.9,140.4 118.3,142.1 118.7,140.4 119.1,140.9 119.6,140.4 120.0,140.1 120.4,141.4 120.8,143.2 121.2,141.7 121.7,141.1 122.1,143.9 122.5,141.8 122.9,144.0 123.3,144.1 123.8,142.0 124.2,144.2 124.6,143.3 125.0,143.7 125.4,144.6 125.9,143.0 126.3,144.7 126.7,144.6 127.1,145.6 127.6,148.7 128.0,149.2 128.4,147.6 128.8,147.3 129.2,145.7 129.7,146.9 130.1,149.0 130.5,148.7 130.9,148.9 131.3,148.9 131.8,149.3 132.2,151.1 132.6,149.7 133.0,150.2 133.4,151.5 133.9,149.4 134.3,150.7 134.7,150.5 135.1,152.6" stroke="#08b8f7" stroke-opacity="0.55"/>
<polyline points="26.2,132.4 26.6,132.3 27.0,132.1 27.5,131.9 27.9,131.7 28.3,131.6 28.7,131.4 29.1,131.2 29.6,131.0 30.0,130.9 30.4,130.7 30.8,130.5 31.3,130.3 31.7,130.2 32.1,130.0 32.5,129.8 32.9,129.6 33.4,129.5 33.8,129.3 34.2,129.1 34.6,128.9 35.0,128.8 35.5,128.6 35.9,128.4 36.3,128.2 36.7,128.0 37.1,127.9 37.6,127.7 38.0,127.5 38.4,127.3 38.8,127.2 39.2,127.0 39.7,126.8 40.1,126.6 40.5,126.4 40.9,126.2 41.3,126.1 41.8,125.9 42.2,125.7 42.6,125.5 43.0,125.3 43.4,125.1 43.9,124.9 44.3,124.7 44.7,124.5 45.1,124.3 45.5,124.2 46.0,124.0 46.4,123.7 46.8,123.6 47.2,123.4 47.7,123.1 48.1,122.9 48.5,122.7 48.9,122.5 49.3,122.3 49.8,122.1 50.2,122.0 50.6,121.6 51.0,121.5 51.4,121.1 51.9,120.9 52.3,120.8 52.7,120.5 53.1,120.2 53.5,120.0 54.0,119.8 54.4,119.6 54.8,119.0 55.2,118.9 55.6,118.7 56.1,118.2 56.5,118.1 56.9,117.4 57.3,117.6 57.7,116.9 58.2,117.0 58.6,116.6 59.0,116.2 59.4,115.5 59.8,115.5 60.3,114.9 60.7,115.1 61.1,114.6 61.5,113.7 61.9,113.4 62.4,112.5 62.8,112.3 63.2,111.5 63.6,111.2 64.1,110.9 64.5,109.5 64.9,109.8 65.3,109.1 65.7,107.6 66.2,107.2 66.6,106.3 67.0,105.4 67.4,103.6 67.8,103.6 68.3,102.6 68.7,100.8 69.1,101.0 69.5,100.5 69.9,101.4 70.4,102.1 70.8,104.2 71.2,105.6 71.6,106.2 72.0,106.3 72.5,107.5 72.9,107.6 73.3,109.3 73.7,109.8 74.1,109.8 74.6,111.2 75.0,111.7 75.4,112.0 75.8,112.5 76.2,113.0 76.7,113.6 77.1,114.0 77.5,114.4 77.9,115.0 78.4,115.2 78.8,115.5 79.2,115.9 79.6,116.6 80.0,117.0 80.5,117.3 80.9,117.6 81.3,118.2 81.7,118.2 82.1,118.0 82.6,118.9 83.0,119.1 83.4,119.7 83.8,119.8 84.2,120.1 84.7,120.2 85.1,120.6 85.5,121.4 85.9,120.7 86.3,120.7 86.8,122.0 87.2,122.1 87.6,122.5 88.0,122.3 88.4,121.9 88.9,123.4 89.3,123.9 89.7,121.9 90.1,123.3 90.5,123.4 91.0,124.9 91.4,124.1 91.8,124.0 92.2,125.3 92.6,126.4 93.1,123.5 93.5,125.6 93.9,127.0 94.3,126.9 94.8,126.5 95.2,127.8 95.6,128.1 96.0,128.2 96.4,127.2 96.9,127.2 97.3,127.9 97.7,129.1 98.1,127.8 98.5,128.7 99.0,130.8 99.4,129.2 99.8,129.7 100.2,131.2 100.6,130.9 101.1,132.5 101.5,132.0 101.9,131.8 102.3,131.4 102.7,130.9 103.2,131.2 103.6,132.3 104.0,133.2 104.4,134.2 104.8,133.0 105.3,132.0 105.7,132.6 106.1,136.5 106.5,133.7 106.9,134.7 107.4,134.0 107.8,134.4 108.2,133.2 108.6,133.4 109.0,134.6 109.5,135.6 109.9,137.9 110.3,134.6 110.7,136.6 111.2,135.7 111.6,137.9 112.0,136.6 112.4,135.7 112.8,137.5 113.3,138.9 113.7,137.5 114.1,139.1 114.5,141.4 114.9,138.4 115.4,141.5 115.8,141.0 116.2,138.4 116.6,138.9 117.0,141.4 117.5,142.4 117.9,142.0 118.3,141.0 118.7,143.5 119.1,142.1 119.6,146.0 120.0,142.3 120.4,145.7 120.8,145.6 121.2,143.6 121.7,144.0 122.1,145.5 122.5,146.4 122.9,143.5 123.3,148.4 123.8,146.3 124.2,146.9 124.6,146.7 125.0,148.1 125.4,147.7 125.9,148.1 126.3,149.4 126.7,148.6 127.1,148.6 127.6,149.0 128.0,148.1 128.4,150.7 128.8,149.0 129.2,150.4 129.7,151.1 130.1,148.6 130.5,150.2 130.9,153.2 131.3,151.5 131.8,151.5 132.2,150.2 132.6,153.1 133.0,153.7 133.4,153.8 133.9,152.4 134.3,155.9 134.7,156.3 135.1,156.8" stroke="#08a2f7" stroke-opacity="0.55"/>
<polyline points="26.2,134.5 26.6,134.3 27.0,134.1 27.5,133.9 27.9,133.8 28.3,133.6 28.7,133.4 29.1,133.2 29.6,133.1 30.0,132.9 30.4,132.7 30.8,132.5 31.3,132.4 31.7,132.2 32.1,132.0 32.5,131.8 32.9,131.6 33.4,131.5 33.8,131.3 34.2,131.1 34.6,130.9 35.0,130.7 35.5,130.6 35.9,130.4 36.3,130.2 36.7,130.0 37.1,129.9 37.6,129.7 38.0,129.5 38.4,129.3 38.8,129.1 39.2,128.9 39.7,128.8 40.1,128.6 40.5,128.4 40.9,128.2 41.3,128.0 41.8,127.8 42.2,127.6 42.6,127.5 43.0,127.3 43.4,127.1 43.9,126.8 44.3,126.7 44.7,126.5 45.1,126.3 45.5,126.1 46.0,125.9 46.4,125.7 46.8,125.4 47.2,125.3 47.7,125.1 48.1,124.9 48.5,124.7 48.9,124.4 49.3,124.2 49.8,124.0 50.2,123.8 50.6,123.5 51.0,123.3 51.4,123.1 51.9,123.0 52.3,122.7 52.7,122.4 53.1,121.9 53.5,121.8 54.0,121.6 54.4,121.5 54.8,121.1 55.2,120.6 55.6,120.5 56.1,120.4 56.5,119.9 56.9,119.8 57.3,119.3 57.7,119.1 58.2,118.8 58.6,118.1 59.0,118.4 59.4,117.5 59.8,117.2 60.3,116.8 60.7,116.6 61.1,115.7 61.5,115.6 61.9,116.3 62.4,114.6 62.8,114.3 63.2,113.5 63.6,112.9 64.1,112.9 64.5,112.1 64.9,111.4 65.3,110.5 65.7,109.5 66.2,108.2 66.6,108.1 67.0,107.5 67.4,106.6 67.8,105.1 68.3,103.2 68.7,103.1 69.1,101.9 69.5,103.1 69.9,104.2 70.4,104.8 70.8,105.8 71.2,106.6 71.6,107.8 72.0,109.2 72.5,110.0 72.9,111.3 73.3,111.7 73.7,112.1 74.1,111.9 74.6,113.2 75.0,113.1 75.4,114.3 75.8,114.4 76.2,115.0 76.7,115.5 77.1,116.2 77.5,116.4 77.9,116.6 78.4,117.2 78.8,117.9 79.2,118.2 79.6,118.4 80.0,118.9 80.5,119.2 80.9,119.5 81.3,119.5 81.7,120.1 82.1,120.6 82.6,121.0 83.0,121.2 83.4,120.7 83.8,121.8 84.2,122.9 84.7,122.4 85.1,122.4 85.5,123.2 85.9,123.1 86.3,122.5 86.8,123.2 87.2,123.5 87.6,125.0 88.0,124.7 88.4,124.9 88.9,125.1 89.3,124.2 89.7,124.7 90.1,126.1 90.5,125.8 91.0,127.1 91.4,126.0 91.8,128.4 92.2,126.4 92.6,128.4 93.1,126.3 93.5,127.0 93.9,128.6 94.3,128.8 94.8,129.9 95.2,130.0 95.6,130.3 96.0,130.5 96.4,129.3 96.9,130.7 97.3,129.5 97.7,131.1 98.1,130.8 98.5,130.8 99.0,131.4 99.4,133.1 99.8,130.8 100.2,133.8 100.6,131.9 101.1,132.3 101.5,133.5 101.9,133.3 102.3,133.2 102.7,130.9 103.2,133.8 103.6,135.3 104.0,133.1 104.4,133.0 104.8,135.0 105.3,133.9 105.7,133.5 106.1,138.9 106.5,135.1 106.9,137.2 107.4,137.9 107.8,137.7 108.2,137.5 108.6,139.0 109.0,138.6 109.5,140.0 109.9,138.2 110.3,138.3 110.7,139.8 111.2,139.5 111.6,137.4 112.0,141.4 112.4,138.4 112.8,138.9 113.3,140.0 113.7,139.5 114.1,143.7 114.5,139.2 114.9,143.2 115.4,140.1 115.8,140.4 116.2,143.3 116.6,141.8 117.0,142.3 117.5,143.0 117.9,143.7 118.3,143.4 118.7,146.4 119.1,147.1 119.6,143.2 120.0,147.2 120.4,147.3 120.8,145.3 121.2,146.9 121.7,147.1 122.1,147.1 122.5,145.1 122.9,146.8 123.3,147.8 123.8,145.1 124.2,147.9 124.6,148.7 125.0,147.8 125.4,150.0 125.9,151.6 126.3,151.3 126.7,151.0 127.1,148.5 127.6,149.4 128.0,154.6 128.4,153.8 128.8,152.3 129.2,152.3 129.7,152.8 130.1,153.8 130.5,151.9 130.9,153.5 131.3,155.7 131.8,154.5 132.2,153.8 132.6,153.9 133.0,155.9 133.4,157.2 133.9,153.4 134.3,157.0 134.7,156.5 135.1,158.1" stroke="#088bf7" stroke-opacity="0.57"/>
<polyline points="26.2,136.5 26.6,136.3 27.0,136.2 27.5,136.0 27.9,135.8 28.3,135.6 28.7,135.4 29.1,135.3 29.6,135.1 30.0,134.9 30.4,134.7 30.8,134.5 31.3,134.4 31.7,134.2 32.1,134.0 32.5,133.8 32.9,133.7 33.4,133.5 33.8,133.3 34.2,133.1 34.6,132.9 35.0,132.8 35.5,132.6 35.9,132.4 36.3,132.2 36.7,132.0 37.1,131.8 37.6,131.7 38.0,131.5 38.4,131.3 38.8,131.1 39.2,130.9 39.7,130.7 40.1,130.5 40.5,130.4 40.9,130.2 41.3,130.0 41.8,129.8 42.2,129.6 42.6,129.4 43.0,129.2 43.4,129.1 43.9,128.9 44.3,128.7 44.7,128.5 45.1,128.2 45.5,128.1 46.0,127.8 46.4,127.6 46.8,127.5 47.2,127.2 47.7,127.0 48.1,126.8 48.5,126.6 48.9,126.4 49.3,126.2 49.8,125.9 50.2,125.8 50.6,125.5 51.0,125.3 51.4,125.0 51.9,124.7 52.3,124.7 52.7,124.4 53.1,124.2 53.5,123.8 54.0,123.5 54.4,123.1 54.8,123.1 55.2,122.7 55.6,122.5 56.1,122.2 56.5,122.1 56.9,121.8 57.3,121.3 57.7,120.9 58.2,120.8 58.6,120.2 59.0,120.1 59.4,119.4 59.8,119.1 60.3,118.9 60.7,118.5 61.1,117.8 61.5,117.3 61.9,117.1 62.4,116.9 62.8,115.6 63.2,115.2 63.6,115.7 64.1,114.7 64.5,113.6 64.9,112.9 65.3,113.2 65.7,111.9 66.2,111.0 66.6,108.7 67.0,109.4 67.4,108.0 67.8,107.5 68.3,105.3 68.7,105.1 69.1,104.0 69.5,106.6 69.9,105.5 70.4,106.5 70.8,107.5 71.2,110.2 71.6,110.1 72.0,110.2 72.5,111.5 72.9,112.4 73.3,113.2 73.7,113.8 74.1,114.4 74.6,114.9 75.0,115.3 75.4,116.3 75.8,116.8 76.2,116.9 76.7,117.1 77.1,117.8 77.5,117.8 77.9,119.4 78.4,119.2 78.8,119.6 79.2,120.2 79.6,120.4 80.0,120.6 80.5,120.7 80.9,121.6 81.3,121.4 81.7,121.9 82.1,122.0 82.6,122.5 83.0,123.1 83.4,122.5 83.8,123.9 84.2,123.7 84.7,124.5 85.1,124.3 85.5,125.0 85.9,124.7 86.3,124.3 86.8,125.2 87.2,125.4 87.6,126.7 88.0,127.1 88.4,127.7 88.9,127.5 89.3,127.9 89.7,127.1 90.1,127.0 90.5,128.6 91.0,128.5 91.4,129.6 91.8,129.2 92.2,128.7 92.6,128.8 93.1,130.4 93.5,129.1 93.9,129.8 94.3,130.2 94.8,129.9 95.2,131.6 95.6,132.3 96.0,130.9 96.4,130.2 96.9,130.4 97.3,136.4 97.7,132.4 98.1,133.5 98.5,135.1 99.0,133.5 99.4,133.8 99.8,133.0 100.2,137.0 100.6,136.2 101.1,135.4 101.5,132.8 101.9,132.8 102.3,134.1 102.7,134.1 103.2,136.6 103.6,136.2 104.0,136.1 104.4,137.0 104.8,138.4 105.3,136.1 105.7,135.8 106.1,140.4 106.5,138.4 106.9,135.4 107.4,140.0 107.8,140.1 108.2,140.5 108.6,142.2 109.0,137.6 109.5,138.5 109.9,140.3 110.3,137.2 110.7,143.4 111.2,141.4 111.6,141.2 112.0,142.8 112.4,142.0 112.8,142.2 113.3,143.6 113.7,141.7 114.1,141.1 114.5,144.8 114.9,144.5 115.4,145.6 115.8,148.0 116.2,146.0 116.6,145.6 117.0,143.6 117.5,147.0 117.9,147.3 118.3,144.7 118.7,147.6 119.1,146.3 119.6,148.4 120.0,151.9 120.4,149.6 120.8,150.1 121.2,148.2 121.7,149.1 122.1,144.9 122.5,151.3 122.9,150.6 123.3,150.2 123.8,146.6 124.2,152.5 124.6,148.2 125.0,153.2 125.4,152.7 125.9,149.7 126.3,153.9 126.7,154.4 127.1,153.4 127.6,152.3 128.0,155.5 128.4,153.6 128.8,155.8 129.2,157.1 129.7,155.0 130.1,152.8 130.5,154.4 130.9,157.6 131.3,158.2 131.8,156.3 132.2,156.3 132.6,159.2 133.0,155.9 133.4,158.5 133.9,157.7 134.3,157.5 134.7,157.5 135.1,159.1" stroke="#0874f7" stroke-opacity="0.59"/>
<polyline points="26.2,138.6 26.6,138.4 27.0,138.2 27.5,138.0 27.9,137.8 28.3,137.7 28.7,137.5 29.1,137.3 29.6,137.1 30.0,136.9 30.4,136.7 30.8,136.6 31.3,136.4 31.7,136.2 32.1,136.0 32.5,135.9 32.9,135.7 33.4,135.5 33.8,135.3 34.2,135.1 34.6,134.9 35.0,134.8 35.5,134.6 35.9,134.4 36.3,134.2 36.7,134.0 37.1,133.8 37.6,133.7 38.0,133.5 38.4,133.3 38.8,133.1 39.2,132.9 39.7,132.7 40.1,132.5 40.5,132.3 40.9,132.2 41.3,132.0 41.8,131.8 42.2,131.6 42.6,131.4 43.0,131.2 43.4,131.1 43.9,130.8 44.3,130.5 44.7,130.4 45.1,130.1 45.5,130.0 46.0,129.8 46.4,129.5 46.8,129.5 47.2,129.1 47.7,128.9 48.1,128.8 48.5,128.5 48.9,128.3 49.3,128.1 49.8,127.9 50.2,127.7 50.6,127.3 51.0,127.0 51.4,126.9 51.9,126.6 52.3,126.4 52.7,126.3 53.1,125.8 53.5,125.6 54.0,125.7 54.4,125.6 54.8,125.0 55.2,124.6 55.6,124.4 56.1,124.2 56.5,124.0 56.9,123.6 57.3,123.0 57.7,122.7 58.2,122.7 58.6,122.4 59.0,121.6 59.4,121.8 59.8,121.0 60.3,120.7 60.7,120.7 61.1,120.0 61.5,119.5 61.9,119.4 62.4,119.3 62.8,118.2 63.2,117.7 63.6,116.6 64.1,116.4 64.5,115.6 64.9,116.7 65.3,115.3 65.7,113.5 66.2,112.5 66.6,113.3 67.0,111.4 67.4,109.1 67.8,110.3 68.3,109.7 68.7,107.3 69.1,104.9 69.5,106.8 69.9,107.5 70.4,108.1 70.8,110.5 71.2,111.1 71.6,112.7 72.0,112.6 72.5,113.5 72.9,114.2 73.3,115.2 73.7,115.2 74.1,116.7 74.6,116.6 75.0,116.7 75.4,118.1 75.8,118.3 76.2,119.4 76.7,119.6 77.1,119.6 77.5,120.6 77.9,120.9 78.4,121.7 78.8,121.8 79.2,121.6 79.6,122.0 80.0,122.4 80.5,123.3 80.9,123.4 81.3,123.4 81.7,123.8 82.1,124.2 82.6,124.3 83.0,125.3 83.4,125.1 83.8,125.4 84.2,126.3 84.7,126.4 85.1,125.9 85.5,126.5 85.9,127.6 86.3,127.4 86.8,127.7 87.2,128.0 87.6,127.7 88.0,128.0 88.4,127.9 88.9,129.7 89.3,128.7 89.7,130.2 90.1,129.2 90.5,129.6 91.0,129.1 91.4,130.0 91.8,131.0 92.2,130.8 92.6,130.7 93.1,133.2 93.5,132.9 93.9,132.1 94.3,132.0 94.8,132.1 95.2,134.2 95.6,132.0 96.0,133.6 96.4,133.3 96.9,133.6 97.3,135.1 97.7,135.9 98.1,132.7 98.5,135.1 99.0,133.3 99.4,137.1 99.8,136.9 100.2,137.4 100.6,135.2 101.1,137.0 101.5,138.4 101.9,136.2 102.3,139.1 102.7,140.4 103.2,139.5 103.6,140.0 104.0,140.3 104.4,140.0 104.8,141.6 105.3,139.8 105.7,141.2 106.1,139.8 106.5,140.0 106.9,140.7 107.4,142.0 107.8,141.8 108.2,142.6 108.6,142.2 109.0,141.0 109.5,140.9 109.9,140.8 110.3,142.8 110.7,141.8 111.2,146.0 111.6,141.7 112.0,142.8 112.4,145.8 112.8,144.6 113.3,144.6 113.7,146.0 114.1,146.5 114.5,146.9 114.9,146.4 115.4,147.2 115.8,148.4 116.2,146.6 116.6,146.7 117.0,147.4 117.5,147.4 117.9,145.6 118.3,147.8 118.7,149.2 119.1,150.3 119.6,149.2 120.0,148.4 120.4,151.4 120.8,149.8 121.2,152.0 121.7,153.5 122.1,152.3 122.5,149.7 122.9,152.1 123.3,154.3 123.8,152.3 124.2,152.3 124.6,152.9 125.0,155.5 125.4,152.8 125.9,155.5 126.3,152.0 126.7,157.6 127.1,156.8 127.6,156.3 128.0,158.0 128.4,156.7 128.8,158.5 129.2,158.8 129.7,156.9 130.1,160.5 130.5,157.1 130.9,158.7 131.3,161.4 131.8,158.1 132.2,157.6 132.6,160.5 133.0,158.0 133.4,160.2 133.9,160.7 134.3,159.9 134.7,163.1 135.1,161.2" stroke="#085df7" stroke-opacity="0.61"/>
<polyline points="26.2,140.8 26.6,140.4 27.0,140.2 27.5,140.5 27.9,139.9 28.3,139.9 28.7,139.5 29.1,139.3 29.6,139.5 30.0,139.3 30.4,138.3 30.8,138.1 31.3,138.5 31.7,138.1 32.1,137.9 32.5,138.3 32.9,137.4 33.4,137.5 33.8,137.4 34.2,136.8 34.6,136.9 35.0,137.3 35.5,136.8 35.9,136.7 36.3,136.6 36.7,136.3 37.1,136.1 37.6,135.9 38.0,135.0 38.4,135.3 38.8,134.9 39.2,134.6 39.7,134.3 40.1,134.5 40.5,134.4 40.9,134.1 41.3,134.5 41.8,134.1 42.2,133.2 42.6,133.2 43.0,133.3 43.4,133.3 43.9,132.7 44.3,133.3 44.7,132.9 45.1,131.6 45.5,131.9 46.0,131.8 46.4,131.9 46.8,131.5 47.2,131.6 47.7,130.9 48.1,130.7 48.5,130.7 48.9,129.8 49.3,129.9 49.8,130.6 50.2,129.4 50.6,128.7 51.0,129.3 51.4,128.5 51.9,128.6 52.3,128.9 52.7,128.6 53.1,128.3 53.5,128.5 54.0,127.6 54.4,127.7 54.8,126.2 55.2,126.8 55.6,127.2 56.1,127.0 56.5,125.2 56.9,125.7 57.3,126.1 57.7,125.4 58.2,124.6 58.6,124.3 59.0,122.6 59.4,123.4 59.8,123.7 60.3,124.4 60.7,122.1 61.1,121.7 61.5,121.7 61.9,120.4 62.4,120.6 62.8,120.0 63.2,117.6 63.6,120.3 64.1,117.6 64.5,116.9 64.9,118.0 65.3,113.4 65.7,117.8 66.2,114.5 66.6,115.6 67.0,115.0 67.4,112.3 67.8,111.9 68.3,109.5 68.7,109.3 69.1,109.7 69.5,110.0 69.9,111.6 70.4,111.0 70.8,110.8 71.2,113.6 71.6,114.5 72.0,114.8 72.5,117.9 72.9,118.7 73.3,117.6 73.7,116.8 74.1,117.0 74.6,117.9 75.0,119.5 75.4,120.5 75.8,120.6 76.2,121.6 76.7,121.6 77.1,121.7 77.5,122.6 77.9,124.1 78.4,122.2 78.8,121.9 79.2,124.6 79.6,125.1 80.0,124.0 80.5,126.1 80.9,126.1 81.3,125.5 81.7,124.5 82.1,125.7 82.6,127.7 83.0,125.6 83.4,128.0 83.8,127.3 84.2,129.2 84.7,127.9 85.1,128.3 85.5,130.0 85.9,130.3 86.3,128.7 86.8,129.2 87.2,130.8 87.6,130.4 88.0,130.2 88.4,131.9 88.9,132.9 89.3,131.5 89.7,131.8 90.1,131.5 90.5,133.2 91.0,133.5 91.4,133.7 91.8,133.2 92.2,131.9 92.6,133.5 93.1,134.7 93.5,132.5 93.9,134.8 94.3,133.6 94.8,132.9 95.2,132.8 95.6,136.4 96.0,137.1 96.4,137.4 96.9,136.1 97.3,135.1 97.7,138.7 98.1,137.8 98.5,137.9 99.0,138.6 99.4,137.2 99.8,135.4 100.2,139.2 100.6,139.7 101.1,140.4 101.5,139.8 101.9,138.4 102.3,140.8 102.7,137.9 103.2,140.6 103.6,142.7 104.0,141.5 104.4,140.4 104.8,141.8 105.3,143.9 105.7,141.4 106.1,144.0 106.5,143.5 106.9,141.7 107.4,141.9 107.8,142.8 108.2,145.1 108.6,141.5 109.0,145.1 109.5,139.9 109.9,146.3 110.3,146.9 110.7,146.0 111.2,144.2 111.6,148.2 112.0,146.0 112.4,148.6 112.8,147.2 113.3,145.6 113.7,146.0 114.1,149.3 114.5,147.9 114.9,147.7 115.4,149.9 115.8,150.0 116.2,149.5 116.6,149.2 117.0,149.8 117.5,145.1 117.9,151.6 118.3,151.4 118.7,149.3 119.1,150.7 119.6,156.0 120.0,152.5 120.4,150.7 120.8,152.8 121.2,154.3 121.7,153.2 122.1,151.4 122.5,153.4 122.9,155.7 123.3,156.5 123.8,157.4 124.2,154.8 124.6,153.7 125.0,155.2 125.4,153.9 125.9,157.4 126.3,153.8 126.7,159.7 127.1,155.8 127.6,158.3 128.0,158.8 128.4,160.3 128.8,159.8 129.2,158.1 129.7,161.1 130.1,159.5 130.5,161.7 130.9,163.9 131.3,160.0 131.8,162.6 132.2,162.0 132.6,159.5 133.0,159.8 133.4,164.4 133.9,163.2 134.3,161.8 134.7,164.4 135.1,166.8" stroke="#0846f7" stroke-opacity="0.63"/>
<polyline points="26.2,141.9 26.6,141.1 27.0,141.9 27.5,142.4 27.9,142.6 28.3,142.2 28.7,141.8 29.1,141.6 29.6,141.8 30.0,141.5 30.4,140.4 30.8,140.8 31.3,140.5 31.7,140.3 32.1,139.3 32.5,139.1 32.9,139.7 33.4,140.6 33.8,138.6 34.2,138.8 34.6,139.2 35.0,138.1 35.5,138.5 35.9,138.8 36.3,137.0 36.7,137.0 37.1,139.8 37.6,136.9 38.0,137.7 38.4,136.2 38.8,138.1 39.2,136.7 39.7,137.2 40.1,136.7 40.5,136.5 40.9,136.0 41.3,136.8 41.8,136.4 42.2,135.6 42.6,136.2 43.0,135.3 43.4,136.0 43.9,135.0 44.3,135.7 44.7,135.8 45.1,134.7 45.5,133.3 46.0,133.5 46.4,132.9 46.8,133.3 47.2,133.5 47.7,132.8 48.1,133.8 48.5,132.9 48.9,133.2 49.3,131.4 49.8,131.9 50.2,132.4 50.6,131.7 51.0,130.8 51.4,131.3 51.9,130.9 52.3,130.4 52.7,130.6 53.1,128.3 53.5,129.7 54.0,130.4 54.4,130.0 54.8,127.1 55.2,128.8 55.6,129.7 56.1,130.1 56.5,127.5 56.9,125.3 57.3,126.9 57.7,127.5 58.2,125.6 58.6,126.9 59.0,126.6 59.4,126.1 59.8,126.1 60.3,126.7 60.7,124.5 61.1,121.7 61.5,125.7 61.9,124.9 62.4,122.3 62.8,122.9 63.2,122.1 63.6,121.0 64.1,119.9 64.5,120.0 64.9,118.6 65.3,117.7 65.7,119.2 66.2,116.0 66.6,116.6 67.0,117.9 67.4,111.9 67.8,115.2 68.3,111.5 68.7,113.2 69.1,109.1 69.5,115.2 69.9,113.7 70.4,114.7 70.8,116.1 71.2,111.8 71.6,119.4 72.0,118.8 72.5,118.9 72.9,116.7 73.3,119.5 73.7,121.6 74.1,120.5 74.6,122.3 75.0,122.6 75.4,119.6 75.8,123.9 76.2,123.5 76.7,123.6 77.1,126.7 77.5,124.8 77.9,126.8 78.4,128.2 78.8,125.5 79.2,126.5 79.6,126.1 80.0,129.1 80.5,125.6 80.9,126.3 81.3,129.1 81.7,128.1 82.1,129.2 82.6,128.3 83.0,129.1 83.4,129.6 83.8,129.8 84.2,131.1 84.7,131.7 85.1,131.4 85.5,130.5 85.9,131.9 86.3,131.7 86.8,133.3 87.2,132.2 87.6,131.8 88.0,132.9 88.4,134.4 88.9,131.4 89.3,132.9 89.7,135.2 90.1,133.0 90.5,134.9 91.0,134.0 91.4,135.4 91.8,137.7 92.2,136.2 92.6,132.4 93.1,134.1 93.5,136.1 93.9,137.5 94.3,138.8 94.8,138.0 95.2,136.3 95.6,135.8 96.0,134.9 96.4,140.8 96.9,139.9 97.3,138.0 97.7,140.4 98.1,138.0 98.5,141.0 99.0,138.7 99.4,141.3 99.8,137.6 100.2,141.0 100.6,142.2 101.1,140.0 101.5,142.6 101.9,134.7 102.3,141.1 102.7,142.4 103.2,146.3 103.6,140.8 104.0,140.9 104.4,145.5 104.8,145.4 105.3,142.3 105.7,141.2 106.1,147.8 106.5,147.2 106.9,144.0 107.4,141.8 107.8,148.5 108.2,145.8 108.6,142.6 109.0,147.0 109.5,144.6 109.9,145.2 110.3,147.0 110.7,150.2 111.2,146.7 111.6,147.6 112.0,146.3 112.4,151.5 112.8,147.6 113.3,144.4 113.7,149.9 114.1,153.1 114.5,149.8 114.9,154.0 115.4,150.9 115.8,150.1 116.2,150.7 116.6,149.1 117.0,153.2 117.5,151.9 117.9,151.4 118.3,153.6 118.7,154.2 119.1,152.8 119.6,153.7 120.0,154.8 120.4,155.4 120.8,155.1 121.2,155.0 121.7,154.5 122.1,159.8 122.5,157.7 122.9,157.6 123.3,154.8 123.8,155.5 124.2,159.0 124.6,159.6 125.0,159.0 125.4,158.3 125.9,161.0 126.3,161.5 126.7,160.5 127.1,159.2 127.6,157.8 128.0,158.9 128.4,163.1 128.8,164.4 129.2,158.9 129.7,165.4 130.1,163.2 130.5,164.2 130.9,161.4 131.3,163.1 131.8,163.6 132.2,163.5 132.6,166.8 133.0,165.0 133.4,165.9 133.9,163.2 134.3,167.8 134.7,167.7 135.1,159.9" stroke="#082ef7" stroke-opacity="0.65"/>
<polyline points="26.2,144.6 26.6,143.6 27.0,144.3 27.5,144.3 27.9,144.2 28.3,145.2 28.7,145.0 29.1,144.3 29.6,143.6 30.0,143.0 30.4,143.7 30.8,143.1 31.3,143.3 31.7,142.0 32.1,143.0 32.5,142.1 32.9,141.9 33.4,143.1 33.8,141.6 34.2,142.7 34.6,139.3 35.0,141.6 35.5,140.9 35.9,142.1 36.3,140.3 36.7,139.1 37.1,140.0 37.6,140.2 38.0,139.2 38.4,139.2 38.8,138.3 39.2,140.1 39.7,137.7 40.1,138.7 40.5,137.4 40.9,138.1 41.3,138.3 41.8,136.7 42.2,138.6 42.6,137.9 43.0,138.5 43.4,136.3 43.9,136.1 44.3,135.2 44.7,137.9 45.1,136.3 45.5,137.3 46.0,135.4 46.4,136.5 46.8,137.4 47.2,133.3 47.7,134.2 48.1,133.2 48.5,133.3 48.9,133.8 49.3,134.3 49.8,133.5 50.2,133.9 50.6,133.8 51.0,136.0 51.4,132.7 51.9,132.6 52.3,133.7 52.7,132.1 53.1,132.3 53.5,133.6 54.0,131.0 54.4,132.7 54.8,129.8 55.2,129.8 55.6,130.4 56.1,131.6 56.5,130.1 56.9,129.5 57.3,130.9 57.7,129.6 58.2,129.9 58.6,130.0 59.0,126.3 59.4,128.0 59.8,128.1 60.3,128.5 60.7,124.8 61.1,128.3 61.5,123.3 61.9,123.5 62.4,128.7 62.8,125.8 63.2,121.0 63.6,123.5 64.1,124.4 64.5,121.2 64.9,122.6 65.3,120.5 65.7,122.0 66.2,118.0 66.6,117.0 67.0,116.6 67.4,119.6 67.8,118.0 68.3,117.3 68.7,107.8 69.1,117.3 69.5,114.7 69.9,119.6 70.4,113.3 70.8,120.7 71.2,119.2 71.6,118.7 72.0,121.1 72.5,116.9 72.9,120.9 73.3,119.8 73.7,122.3 74.1,122.7 74.6,121.6 75.0,123.6 75.4,125.8 75.8,126.9 76.2,122.9 76.7,125.7 77.1,126.1 77.5,126.1 77.9,125.2 78.4,127.4 78.8,129.8 79.2,130.5 79.6,129.0 80.0,131.5 80.5,128.3 80.9,128.0 81.3,133.3 81.7,131.4 82.1,132.5 82.6,127.8 83.0,132.7 83.4,129.9 83.8,129.5 84.2,132.6 84.7,132.5 85.1,131.2 85.5,137.3 85.9,134.5 86.3,134.6 86.8,137.2 87.2,136.8 87.6,134.8 88.0,135.5 88.4,139.4 88.9,135.2 89.3,134.9 89.7,135.4 90.1,137.5 90.5,139.8 91.0,138.3 91.4,138.1 91.8,138.4 92.2,139.9 92.6,138.9 93.1,140.6 93.5,141.5 93.9,137.4 94.3,140.4 94.8,142.0 95.2,138.9 95.6,140.3 96.0,142.2 96.4,141.3 96.9,139.0 97.3,143.5 97.7,140.8 98.1,139.0 98.5,141.0 99.0,139.9 99.4,145.8 99.8,143.3 100.2,138.4 100.6,142.5 101.1,140.3 101.5,144.3 101.9,143.1 102.3,142.5 102.7,141.4 103.2,145.0 103.6,142.4 104.0,147.6 104.4,149.0 104.8,148.7 105.3,146.2 105.7,147.4 106.1,149.6 106.5,147.7 106.9,147.1 107.4,145.6 107.8,147.3 108.2,151.7 108.6,149.7 109.0,146.3 109.5,146.3 109.9,151.8 110.3,149.8 110.7,151.8 111.2,152.0 111.6,151.7 112.0,150.3 112.4,151.1 112.8,152.9 113.3,154.5 113.7,154.0 114.1,146.4 114.5,152.0 114.9,147.8 115.4,149.6 115.8,151.6 116.2,153.5 116.6,157.8 117.0,153.9 117.5,150.3 117.9,158.1 118.3,156.6 118.7,152.7 119.1,156.1 119.6,153.9 120.0,156.9 120.4,156.3 120.8,158.0 121.2,158.6 121.7,158.4 122.1,157.1 122.5,158.9 122.9,164.0 123.3,159.2 123.8,156.1 124.2,160.6 124.6,163.7 125.0,161.4 125.4,164.5 125.9,158.5 126.3,161.2 126.7,161.4 127.1,163.2 127.6,161.4 128.0,163.1 128.4,160.3 128.8,162.1 129.2,167.5 129.7,167.0 130.1,165.3 130.5,163.9 130.9,166.2 131.3,168.5 131.8,168.3 132.2,167.2 132.6,163.5 133.0,169.6 133.4,169.2 133.9,167.2 134.3,168.0 134.7,167.8 135.1,168.1" stroke="#0815f7" stroke-opacity="0.67"/>
<polyline points="26.2,146.0 26.6,145.2 27.0,146.8 27.5,144.4 27.9,146.1 28.3,146.4 28.7,146.2 29.1,144.5 29.6,143.9 30.0,146.1 30.4,144.0 30.8,144.2 31.3,145.6 31.7,144.4 32.1,143.3 32.5,142.0 32.9,143.5 33.4,144.2 33.8,144.2 34.2,144.1 34.6,141.9 35.0,144.0 35.5,143.1 35.9,143.5 36.3,142.2 36.7,141.5 37.1,140.6 37.6,140.0 38.0,142.1 38.4,142.6 38.8,140.1 39.2,140.6 39.7,140.9 40.1,141.0 40.5,140.2 40.9,141.7 41.3,141.0 41.8,140.3 42.2,139.5 42.6,139.1 43.0,140.1 43.4,139.3 43.9,139.0 44.3,137.9 44.7,138.0 45.1,139.7 45.5,137.5 46.0,135.3 46.4,140.1 46.8,137.0 47.2,138.2 47.7,139.4 48.1,136.8 48.5,135.5 48.9,138.6 49.3,136.5 49.8,134.8 50.2,136.9 50.6,135.4 51.0,135.6 51.4,137.7 51.9,134.0 52.3,135.8 52.7,133.5 53.1,136.7 53.5,136.6 54.0,135.1 54.4,131.0 54.8,133.0 55.2,132.5 55.6,134.1 56.1,135.4 56.5,135.7 56.9,134.0 57.3,131.6 57.7,128.6 58.2,134.3 58.6,134.8 59.0,129.2 59.4,128.3 59.8,129.7 60.3,131.7 60.7,127.1 61.1,130.8 61.5,123.4 61.9,128.6 62.4,129.3 62.8,128.6 63.2,121.1 63.6,124.8 64.1,124.6 64.5,127.7 64.9,123.8 65.3,124.2 65.7,119.7 66.2,124.6 66.6,117.8 67.0,123.6 67.4,122.6 67.8,118.7 68.3,117.9 68.7,122.8 69.1,121.8 69.5,120.5 69.9,116.3 70.4,116.1 70.8,117.8 71.2,119.8 71.6,120.0 72.0,124.0 72.5,122.7 72.9,124.6 73.3,125.6 73.7,120.5 74.1,125.6 74.6,123.6 75.0,129.0 75.4,127.8 75.8,129.0 76.2,129.0 76.7,128.9 77.1,128.3 77.5,129.2 77.9,130.8 78.4,127.2 78.8,131.9 79.2,129.0 79.6,132.2 80.0,133.4 80.5,129.7 80.9,134.7 81.3,134.3 81.7,132.0 82.1,133.9 82.6,135.8 83.0,133.7 83.4,131.7 83.8,133.5 84.2,134.4 84.7,134.1 85.1,136.4 85.5,134.0 85.9,136.1 86.3,139.1 86.8,138.1 87.2,136.8 87.6,137.0 88.0,137.6 88.4,139.7 88.9,137.4 89.3,140.1 89.7,142.3 90.1,140.0 90.5,136.3 91.0,137.1 91.4,139.7 91.8,137.8 92.2,138.9 92.6,141.9 93.1,138.9 93.5,141.2 93.9,141.7 94.3,140.0 94.8,143.7 95.2,141.1 95.6,139.1 96.0,139.6 96.4,142.9 96.9,140.3 97.3,146.5 97.7,142.0 98.1,145.2 98.5,141.0 99.0,144.3 99.4,144.0 99.8,144.0 100.2,147.8 100.6,153.0 101.1,147.8 101.5,146.1 101.9,142.2 102.3,146.6 102.7,144.9 103.2,147.2 103.6,147.0 104.0,145.6 104.4,148.5 104.8,145.4 105.3,143.1 105.7,145.0 106.1,151.2 106.5,146.7 106.9,147.2 107.4,146.7 107.8,150.4 108.2,146.8 108.6,149.6 109.0,151.8 109.5,148.3 109.9,151.8 110.3,155.6 110.7,151.8 111.2,155.8 111.6,154.4 112.0,152.5 112.4,158.9 112.8,155.3 113.3,155.0 113.7,156.8 114.1,157.1 114.5,159.2 114.9,157.3 115.4,157.7 115.8,154.4 116.2,156.3 116.6,153.3 117.0,154.6 117.5,155.8 117.9,155.3 118.3,159.0 118.7,153.1 119.1,155.4 119.6,158.8 120.0,159.1 120.4,159.4 120.8,162.1 121.2,157.3 121.7,162.7 122.1,159.0 122.5,159.8 122.9,161.5 123.3,159.9 123.8,159.7 124.2,165.3 124.6,167.7 125.0,164.0 125.4,161.2 125.9,162.4 126.3,162.5 126.7,163.0 127.1,160.3 127.6,167.2 128.0,165.4 128.4,158.7 128.8,169.6 129.2,170.0 129.7,168.2 130.1,166.7 130.5,166.2 130.9,167.8 131.3,165.7 131.8,164.0 132.2,168.4 132.6,172.0 133.0,170.1 133.4,170.0 133.9,168.7 134.3,172.9 134.7,167.1 135.1,170.4" stroke="#0808ec" stroke-opacity="0.69"/>
<polyline points="26.2,146.9 26.6,149.3 27.0,149.1 27.5,144.5 27.9,150.8 28.3,148.3 28.7,148.0 29.1,148.4 29.6,148.8 30.0,145.9 30.4,147.6 30.8,147.7 31.3,146.4 31.7,146.9 32.1,147.9 32.5,148.1 32.9,145.9 33.4,144.8 33.8,145.6 34.2,144.7 34.6,144.5 35.0,146.4 35.5,143.8 35.9,144.5 36.3,141.6 36.7,143.6 37.1,145.2 37.6,144.0 38.0,146.8 38.4,144.6 38.8,143.1 39.2,142.8 39.7,142.1 40.1,143.6 40.5,144.1 40.9,143.6 41.3,144.1 41.8,140.2 42.2,143.7 42.6,143.8 43.0,139.1 43.4,142.2 43.9,140.6 44.3,140.8 44.7,141.9 45.1,140.8 45.5,138.8 46.0,141.1 46.4,143.2 46.8,143.5 47.2,141.7 47.7,140.1 48.1,138.4 48.5,137.8 48.9,137.2 49.3,137.2 49.8,136.0 50.2,138.7 50.6,137.9 51.0,141.8 51.4,137.9 51.9,135.1 52.3,137.8 52.7,136.0 53.1,137.1 53.5,136.1 54.0,137.5 54.4,135.6 54.8,137.5 55.2,135.2 55.6,136.8 56.1,136.2 56.5,133.1 56.9,136.2 57.3,133.3 57.7,132.5 58.2,135.4 58.6,135.3 59.0,134.8 59.4,131.2 59.8,132.7 60.3,131.5 60.7,128.2 61.1,132.2 61.5,128.5 61.9,130.6 62.4,130.6 62.8,132.5 63.2,131.0 63.6,123.0 64.1,127.5 64.5,129.5 64.9,123.6 65.3,124.6 65.7,123.5 66.2,122.7 66.6,129.4 67.0,128.4 67.4,123.6 67.8,121.1 68.3,121.1 68.7,117.7 69.1,124.1 69.5,117.0 69.9,127.7 70.4,121.5 70.8,121.1 71.2,121.9 71.6,122.4 72.0,124.7 72.5,125.6 72.9,129.7 73.3,126.7 73.7,128.1 74.1,127.3 74.6,130.2 75.0,132.3 75.4,126.6 75.8,134.2 76.2,131.2 76.7,127.9 77.1,128.3 77.5,135.4 77.9,130.6 78.4,133.7 78.8,132.1 79.2,132.0 79.6,131.9 80.0,137.5 80.5,135.9 80.9,133.4 81.3,133.8 81.7,132.1 82.1,134.0 82.6,133.6 83.0,134.1 83.4,135.0 83.8,139.5 84.2,133.4 84.7,136.7 85.1,138.6 85.5,138.5 85.9,139.6 86.3,138.6 86.8,142.3 87.2,137.3 87.6,141.5 88.0,137.6 88.4,141.1 88.9,138.9 89.3,137.6 89.7,139.8 90.1,141.0 90.5,140.9 91.0,142.1 91.4,142.4 91.8,137.6 92.2,145.0 92.6,144.4 93.1,144.0 93.5,143.3 93.9,142.0 94.3,144.0 94.8,141.5 95.2,146.8 95.6,143.6 96.0,144.3 96.4,147.6 96.9,145.6 97.3,146.5 97.7,147.6 98.1,148.3 98.5,144.1 99.0,148.8 99.4,144.5 99.8,144.4 100.2,145.8 100.6,146.0 101.1,152.2 101.5,147.8 101.9,146.5 102.3,146.5 102.7,145.4 103.2,147.3 103.6,149.8 104.0,151.4 104.4,152.2 104.8,150.3 105.3,151.3 105.7,147.1 106.1,152.7 106.5,154.2 106.9,153.7 107.4,145.5 107.8,152.0 108.2,156.2 108.6,148.7 109.0,153.9 109.5,152.9 109.9,155.7 110.3,152.2 110.7,152.2 111.2,156.9 111.6,154.8 112.0,159.1 112.4,151.6 112.8,158.6 113.3,158.6 113.7,159.2 114.1,159.7 114.5,156.6 114.9,159.1 115.4,155.8 115.8,156.5 116.2,155.0 116.6,154.6 117.0,160.8 117.5,158.9 117.9,162.0 118.3,160.4 118.7,158.3 119.1,159.3 119.6,162.5 120.0,159.7 120.4,161.2 120.8,160.0 121.2,168.7 121.7,164.9 122.1,159.8 122.5,167.4 122.9,164.5 123.3,164.3 123.8,166.0 124.2,165.3 124.6,164.1 125.0,165.3 125.4,166.8 125.9,164.0 126.3,163.5 126.7,163.9 127.1,171.9 127.6,163.0 128.0,166.0 128.4,168.1 128.8,165.0 129.2,165.9 129.7,166.0 130.1,171.0 130.5,174.0 130.9,165.3 131.3,168.3 131.8,171.5 132.2,171.8 132.6,171.5 133.0,169.1 133.4,175.0 133.9,174.4 134.3,165.7 134.7,176.3 135.1,171.7" stroke="#0808d3" stroke-opacity="0.70"/>
<polyline points="26.2,150.5 26.6,150.4 27.0,148.7 27.5,150.8 27.9,148.5 28.3,149.9 28.7,150.7 29.1,150.6 29.6,150.2 30.0,148.0 30.4,147.7 30.8,148.8 31.3,149.8 31.7,149.8 32.1,148.7 32.5,146.4 32.9,147.1 33.4,148.3 33.8,145.7 34.2,149.8 34.6,150.2 35.0,149.3 35.5,145.8 35.9,148.5 36.3,147.4 36.7,146.6 37.1,147.2 37.6,145.1 38.0,145.5 38.4,146.2 38.8,144.6 39.2,148.3 39.7,143.7 40.1,145.9 40.5,146.3 40.9,144.8 41.3,143.8 41.8,144.4 42.2,143.7 42.6,144.4 43.0,144.8 43.4,141.5 43.9,142.0 44.3,145.5 44.7,142.4 45.1,144.2 45.5,144.0 46.0,142.0 46.4,141.0 46.8,139.9 47.2,140.4 47.7,142.6 48.1,142.5 48.5,142.6 48.9,141.7 49.3,138.6 49.8,140.3 50.2,140.2 50.6,145.3 51.0,139.7 51.4,141.1 51.9,140.1 52.3,138.9 52.7,138.2 53.1,140.2 53.5,140.1 54.0,138.4 54.4,139.5 54.8,135.6 55.2,138.6 55.6,140.6 56.1,137.4 56.5,138.1 56.9,137.0 57.3,136.4 57.7,134.2 58.2,133.6 58.6,136.3 59.0,138.8 59.4,139.1 59.8,131.0 60.3,134.5 60.7,132.7 61.1,134.4 61.5,132.7 61.9,131.1 62.4,133.3 62.8,132.1 63.2,130.3 63.6,133.7 64.1,132.7 64.5,128.6 64.9,130.5 65.3,129.4 65.7,132.3 66.2,126.4 66.6,125.7 67.0,120.4 67.4,125.4 67.8,125.1 68.3,121.0 68.7,122.8 69.1,117.5 69.5,122.8 69.9,123.9 70.4,121.9 70.8,121.5 71.2,124.4 71.6,122.8 72.0,130.7 72.5,127.8 72.9,127.4 73.3,125.0 73.7,132.8 74.1,126.3 74.6,130.9 75.0,129.3 75.4,130.9 75.8,136.7 76.2,133.9 76.7,132.7 77.1,134.8 77.5,135.0 77.9,133.9 78.4,135.1 78.8,135.5 79.2,134.3 79.6,136.7 80.0,138.7 80.5,138.3 80.9,136.3 81.3,139.6 81.7,138.4 82.1,136.8 82.6,139.4 83.0,139.5 83.4,141.3 83.8,137.4 84.2,137.9 84.7,140.1 85.1,138.5 85.5,141.4 85.9,142.8 86.3,143.6 86.8,139.8 87.2,142.9 87.6,140.7 88.0,142.3 88.4,140.0 88.9,141.9 89.3,144.9 89.7,146.0 90.1,143.5 90.5,141.4 91.0,143.7 91.4,141.0 91.8,141.8 92.2,145.3 92.6,146.1 93.1,146.0 93.5,145.6 93.9,144.7 94.3,145.2 94.8,148.6 95.2,146.1 95.6,147.0 96.0,145.0 96.4,150.0 96.9,143.7 97.3,147.4 97.7,148.9 98.1,148.8 98.5,150.3 99.0,147.7 99.4,146.3 99.8,148.4 100.2,148.8 100.6,147.3 101.1,145.6 101.5,147.2 101.9,156.2 102.3,150.2 102.7,149.9 103.2,150.9 103.6,150.6 104.0,147.0 104.4,151.0 104.8,152.1 105.3,152.8 105.7,157.0 106.1,156.7 106.5,158.0 106.9,149.2 107.4,153.6 107.8,157.4 108.2,155.4 108.6,154.7 109.0,156.6 109.5,152.1 109.9,154.6 110.3,153.3 110.7,158.2 111.2,160.0 111.6,157.6 112.0,157.5 112.4,155.4 112.8,163.1 113.3,155.5 113.7,158.4 114.1,158.0 114.5,156.4 114.9,161.0 115.4,159.7 115.8,158.5 116.2,160.9 116.6,163.9 117.0,159.2 117.5,161.7 117.9,162.3 118.3,160.4 118.7,163.7 119.1,158.4 119.6,160.1 120.0,158.9 120.4,164.9 120.8,163.4 121.2,164.6 121.7,165.6 122.1,167.0 122.5,165.5 122.9,165.4 123.3,167.9 123.8,172.1 124.2,168.7 124.6,161.8 125.0,168.0 125.4,164.4 125.9,169.8 126.3,172.9 126.7,167.3 127.1,166.6 127.6,167.7 128.0,169.2 128.4,169.6 128.8,167.3 129.2,171.6 129.7,170.0 130.1,165.6 130.5,176.5 130.9,170.5 131.3,166.1 131.8,176.9 132.2,177.3 132.6,174.8 133.0,173.9 133.4,169.3 133.9,176.0 134.3,179.0 134.7,170.4 135.1,175.5" stroke="#0808ba" stroke-opacity="0.70"/>
<polyline points="26.2,152.6 26.6,152.6 27.0,154.0 27.5,153.2 27.9,151.3 28.3,150.9 28.7,153.8 29.1,151.4 29.6,152.8 30.0,150.2 30.4,151.3 30.8,151.4 31.3,150.3 31.7,148.2 32.1,150.1 32.5,147.1 32.9,149.3 33.4,149.5 33.8,149.3 34.2,149.1 34.6,149.2 35.0,145.9 35.5,150.5 35.9,148.6 36.3,148.6 36.7,148.1 37.1,148.3 37.6,146.8 38.0,149.6 38.4,146.1 38.8,145.8 39.2,148.0 39.7,146.5 40.1,149.4 40.5,145.3 40.9,145.2 41.3,144.2 41.8,146.3 42.2,143.1 42.6,144.7 43.0,144.1 43.4,144.3 43.9,145.3 44.3,146.3 44.7,144.5 45.1,145.4 45.5,142.9 46.0,145.8 46.4,145.8 46.8,143.4 47.2,144.9 47.7,142.6 48.1,142.9 48.5,141.9 48.9,142.1 49.3,143.1 49.8,143.3 50.2,142.9 50.6,141.2 51.0,142.3 51.4,139.3 51.9,138.7 52.3,142.6 52.7,139.9 53.1,143.2 53.5,141.6 54.0,138.3 54.4,142.5 54.8,140.8 55.2,140.2 55.6,142.4 56.1,141.2 56.5,137.9 56.9,138.5 57.3,136.5 57.7,138.9 58.2,142.3 58.6,137.8 59.0,139.7 59.4,135.6 59.8,138.5 60.3,132.3 60.7,139.6 61.1,136.6 61.5,130.3 61.9,133.1 62.4,133.7 62.8,131.9 63.2,130.1 63.6,135.0 64.1,131.9 64.5,128.2 64.9,128.8 65.3,132.3 65.7,129.1 66.2,127.3 66.6,132.2 67.0,124.6 67.4,123.4 67.8,131.0 68.3,127.1 68.7,127.6 69.1,129.5 69.5,127.4 69.9,131.0 70.4,124.1 70.8,126.1 71.2,132.7 71.6,132.9 72.0,127.4 72.5,131.5 72.9,127.3 73.3,132.7 73.7,132.8 74.1,132.2 74.6,135.4 75.0,134.4 75.4,133.1 75.8,128.8 76.2,135.5 76.7,134.8 77.1,137.9 77.5,136.6 77.9,138.4 78.4,138.7 78.8,138.9 79.2,139.8 79.6,136.3 80.0,137.1 80.5,141.6 80.9,136.6 81.3,138.5 81.7,140.3 82.1,142.2 82.6,140.1 83.0,139.8 83.4,143.6 83.8,144.3 84.2,139.1 84.7,143.5 85.1,141.4 85.5,143.6 85.9,143.9 86.3,140.7 86.8,144.7 87.2,140.1 87.6,142.3 88.0,139.6 88.4,144.2 88.9,144.7 89.3,144.9 89.7,144.2 90.1,141.8 90.5,148.1 91.0,141.4 91.4,145.4 91.8,147.2 92.2,147.6 92.6,144.6 93.1,145.6 93.5,145.7 93.9,147.0 94.3,144.7 94.8,147.1 95.2,149.5 95.6,147.6 96.0,148.4 96.4,148.7 96.9,146.4 97.3,149.1 97.7,153.0 98.1,154.0 98.5,152.9 99.0,154.0 99.4,152.6 99.8,152.5 100.2,147.0 100.6,150.0 101.1,148.6 101.5,152.3 101.9,153.4 102.3,157.9 102.7,154.5 103.2,151.4 103.6,156.6 104.0,150.9 104.4,152.0 104.8,154.6 105.3,155.0 105.7,151.2 106.1,156.5 106.5,156.8 106.9,157.0 107.4,160.3 107.8,157.8 108.2,160.1 108.6,154.0 109.0,157.5 109.5,162.3 109.9,154.5 110.3,159.7 110.7,160.0 111.2,160.2 111.6,162.6 112.0,160.5 112.4,158.2 112.8,163.8 113.3,161.0 113.7,162.6 114.1,159.5 114.5,161.3 114.9,168.3 115.4,160.7 115.8,160.3 116.2,165.5 116.6,164.3 117.0,163.8 117.5,164.4 117.9,165.8 118.3,159.2 118.7,165.7 119.1,165.3 119.6,165.1 120.0,165.3 120.4,160.4 120.8,163.6 121.2,160.9 121.7,168.1 122.1,163.7 122.5,166.3 122.9,165.9 123.3,172.3 123.8,169.4 124.2,168.6 124.6,169.9 125.0,168.1 125.4,167.9 125.9,167.7 126.3,169.1 126.7,173.5 127.1,169.1 127.6,173.7 128.0,168.5 128.4,174.6 128.8,169.7 129.2,179.4 129.7,168.9 130.1,172.8 130.5,172.2 130.9,174.9 131.3,175.1 131.8,176.3 132.2,172.4 132.6,175.8 133.0,176.4 133.4,177.6 133.9,180.4 134.3,179.2 134.7,177.7 135.1,180.8" stroke="#0808af" stroke-opacity="0.70"/>
</g>
<rect x="26" y="39.4" width="118.5" height="131.79999999999998" fill="none" stroke="#8a8a8a" stroke-width="0.7"/>
<line x1="31.80" y1="171.2" x2="31.80" y2="169.7" stroke="#8a8a8a" stroke-width="0.6"/>
<line x1="31.80" y1="39.4" x2="31.80" y2="40.9" stroke="#8a8a8a" stroke-width="0.6"/>
<line x1="69.10" y1="171.2" x2="69.10" y2="169.7" stroke="#8a8a8a" stroke-width="0.6"/>
<line x1="69.10" y1="39.4" x2="69.10" y2="40.9" stroke="#8a8a8a" stroke-width="0.6"/>
<line x1="106.40" y1="171.2" x2="106.40" y2="169.7" stroke="#8a8a8a" stroke-width="0.6"/>
<line x1="106.40" y1="39.4" x2="106.40" y2="40.9" stroke="#8a8a8a" stroke-width="0.6"/>
<line x1="26" y1="54.90" x2="27.5" y2="54.90" stroke="#8a8a8a" stroke-width="0.6"/>
<line x1="144.5" y1="54.90" x2="143.0" y2="54.90" stroke="#8a8a8a" stroke-width="0.6"/>
<line x1="26" y1="84.05" x2="27.5" y2="84.05" stroke="#8a8a8a" stroke-width="0.6"/>
<line x1="144.5" y1="84.05" x2="143.0" y2="84.05" stroke="#8a8a8a" stroke-width="0.6"/>
<line x1="26" y1="113.20" x2="27.5" y2="113.20" stroke="#8a8a8a" stroke-width="0.6"/>
<line x1="144.5" y1="113.20" x2="143.0" y2="113.20" stroke="#8a8a8a" stroke-width="0.6"/>
<line x1="26" y1="142.35" x2="27.5" y2="142.35" stroke="#8a8a8a" stroke-width="0.6"/>
<line x1="144.5" y1="142.35" x2="143.0" y2="142.35" stroke="#8a8a8a" stroke-width="0.6"/>
<text transform="translate(24.20 57.90) scale(1.15 1)" font-size="8.4" text-anchor="end" font-weight="normal" fill="#222" stroke="#222" stroke-width="0.24">0</text>
<text transform="translate(24.20 87.05) scale(1.15 1)" font-size="8.4" text-anchor="end" font-weight="normal" fill="#222" stroke="#222" stroke-width="0.24">-20</text>
<text transform="translate(24.20 116.20) scale(1.15 1)" font-size="8.4" text-anchor="end" font-weight="normal" fill="#222" stroke="#222" stroke-width="0.24">-40</text>
<text transform="translate(24.20 145.35) scale(1.15 1)" font-size="8.4" text-anchor="end" font-weight="normal" fill="#222" stroke="#222" stroke-width="0.24">-60</text>
<text transform="translate(24.20 174.50) scale(1.15 1)" font-size="8.4" text-anchor="end" font-weight="normal" fill="#222" stroke="#222" stroke-width="0.24">-80</text>
<text transform="translate(33.80 181.80) scale(1.15 1)" font-size="8.4" text-anchor="middle" font-weight="normal" fill="#222" stroke="#222" stroke-width="0.24">0.9</text>
<text transform="translate(69.40 181.80) scale(1.15 1)" font-size="8.4" text-anchor="middle" font-weight="normal" fill="#222" stroke="#222" stroke-width="0.24">1</text>
<text transform="translate(106.40 181.80) scale(1.15 1)" font-size="8.4" text-anchor="middle" font-weight="normal" fill="#222" stroke="#222" stroke-width="0.24">1.1</text>
<text transform="translate(143.70 181.80) scale(1.15 1)" font-size="8.4" text-anchor="middle" font-weight="normal" fill="#222" stroke="#222" stroke-width="0.24">1.2</text>
<text transform="translate(91.20 192.30) scale(1.08 1)" font-size="8.8" text-anchor="middle" font-weight="normal" fill="#222" stroke="#222" stroke-width="0.2">Excitation normalized frequency f/f<tspan font-size="6" dy="1.8">0</tspan></text>
<text transform="translate(8.30 103.90) rotate(-90) scale(1.08 1)" font-size="8.8" text-anchor="middle" font-weight="normal" fill="#222" stroke="#222" stroke-width="0.2">Response amplitude [dB]</text>
<text transform="translate(7.00 44.60)" font-size="9.4" text-anchor="start" font-weight="normal" fill="#222" stroke="#222" stroke-width="0.45">a)</text>
<defs><linearGradient id="jetg" x1="0" y1="1" x2="0" y2="0">
<stop offset="0" stop-color="#23308c"/>
<stop offset="0.1" stop-color="#2840a8"/>
<stop offset="0.22" stop-color="#2a5cc4"/>
<stop offset="0.32" stop-color="#2c86d8"/>
<stop offset="0.4" stop-color="#36b4dc"/>
<stop offset="0.47" stop-color="#5cc8b0"/>
<stop offset="0.53" stop-color="#9ad474"/>
<stop offset="0.6" stop-color="#d8dc3c"/>
<stop offset="0.66" stop-color="#f5cc2a"/>
<stop offset="0.73" stop-color="#f39026"/>
<stop offset="0.8" stop-color="#ea4a28"/>
<stop offset="0.87" stop-color="#cc2428"/>
<stop offset="0.95" stop-color="#a01a20"/>
<stop offset="1.0" stop-color="#8a1a1e"/>
</linearGradient></defs>
<rect x="146.5" y="39.2" width="9.400000000000006" height="132.8" fill="url(#jetg)" stroke="#8a8a8a" stroke-width="0.6"/>
<line x1="155.9" y1="42.50" x2="154.4" y2="42.50" stroke="#8a8a8a" stroke-width="0.6"/>
<text transform="translate(157.00 45.50) scale(1.15 1)" font-size="8.4" text-anchor="start" font-weight="normal" fill="#222" stroke="#222" stroke-width="0.24">0</text>
<line x1="155.9" y1="74.00" x2="154.4" y2="74.00" stroke="#8a8a8a" stroke-width="0.6"/>
<text transform="translate(157.00 77.00) scale(1.15 1)" font-size="8.4" text-anchor="start" font-weight="normal" fill="#222" stroke="#222" stroke-width="0.24">-20</text>
<line x1="155.9" y1="105.50" x2="154.4" y2="105.50" stroke="#8a8a8a" stroke-width="0.6"/>
<text transform="translate(157.00 108.50) scale(1.15 1)" font-size="8.4" text-anchor="start" font-weight="normal" fill="#222" stroke="#222" stroke-width="0.24">-40</text>
<line x1="155.9" y1="137.00" x2="154.4" y2="137.00" stroke="#8a8a8a" stroke-width="0.6"/>
<text transform="translate(157.00 140.00) scale(1.15 1)" font-size="8.4" text-anchor="start" font-weight="normal" fill="#222" stroke="#222" stroke-width="0.24">-60</text>
<line x1="155.9" y1="168.50" x2="154.4" y2="168.50" stroke="#8a8a8a" stroke-width="0.6"/>
<text transform="translate(157.00 171.50) scale(1.15 1)" font-size="8.4" text-anchor="start" font-weight="normal" fill="#222" stroke="#222" stroke-width="0.24">-80</text>
<text transform="translate(154.00 107.00) rotate(-90) scale(1.08 1)" font-size="8.15" text-anchor="middle" font-weight="normal" fill="#222" stroke="#222" stroke-width="0.1">Excitation amplitude [dB]</text>
<line x1="227.12" y1="39.1" x2="227.12" y2="170.5" stroke="#e3e3e3" stroke-width="0.6"/>
<line x1="262.94" y1="39.1" x2="262.94" y2="170.5" stroke="#e3e3e3" stroke-width="0.6"/>
<line x1="298.77" y1="39.1" x2="298.77" y2="170.5" stroke="#e3e3e3" stroke-width="0.6"/>
<line x1="209.2" y1="65.38" x2="334.6" y2="65.38" stroke="#e3e3e3" stroke-width="0.6"/>
<line x1="209.2" y1="91.66" x2="334.6" y2="91.66" stroke="#e3e3e3" stroke-width="0.6"/>
<line x1="209.2" y1="117.94" x2="334.6" y2="117.94" stroke="#e3e3e3" stroke-width="0.6"/>
<line x1="209.2" y1="144.22" x2="334.6" y2="144.22" stroke="#e3e3e3" stroke-width="0.6"/>
<g fill="none" stroke="#2a2a2a" stroke-width="0.8">
<polygon points="234,137.1 246.5,118.7 246.5,137.1"/>
<polygon points="262,67.6 262,86.6 301.6,67.6"/>
<polygon points="316,42.2 316,62 330,42.2"/>
</g>
<g stroke-width="1.0" fill="none">
<line x1="217.3" y1="162.7" x2="220.6" y2="153.8" stroke="#0f0f78"/>
<line x1="220.6" y1="153.8" x2="223.5" y2="149" stroke="#0f0f92"/>
<line x1="223.5" y1="149" x2="226.9" y2="138.5" stroke="#0f0fa8"/>
<line x1="226.9" y1="138.5" x2="229.6" y2="136.2" stroke="#0f0fc2"/>
<line x1="229.6" y1="136.2" x2="232.7" y2="130.8" stroke="#0f0fd7"/>
<line x1="232.7" y1="130.8" x2="235.6" y2="125.6" stroke="#0f1ee0"/>
<line x1="235.6" y1="125.6" x2="238.8" y2="120.8" stroke="#0f34e0"/>
<line x1="238.8" y1="120.8" x2="241.7" y2="116.7" stroke="#0f4de0"/>
<line x1="241.7" y1="116.7" x2="244.6" y2="113.1" stroke="#0f64e0"/>
<line x1="244.6" y1="113.1" x2="247.1" y2="110" stroke="#0f7ae0"/>
<line x1="247.1" y1="110" x2="249.3" y2="107.9" stroke="#0f8de0"/>
<line x1="249.3" y1="107.9" x2="251.4" y2="105.7" stroke="#0f9ee0"/>
<line x1="251.4" y1="105.7" x2="253.9" y2="103.9" stroke="#0fafe0"/>
<line x1="253.9" y1="103.9" x2="256.1" y2="101.9" stroke="#0fc2e0"/>
<line x1="256.1" y1="101.9" x2="258.6" y2="100" stroke="#0fd3e0"/>
<line x1="258.6" y1="100" x2="261" y2="98.6" stroke="#15e0db"/>
<line x1="261" y1="98.6" x2="263.3" y2="96.9" stroke="#28e0c8"/>
<line x1="263.3" y1="96.9" x2="265.7" y2="95.4" stroke="#3ae0b6"/>
<line x1="265.7" y1="95.4" x2="268.1" y2="94" stroke="#4ce0a4"/>
<line x1="268.1" y1="94" x2="270.4" y2="92.6" stroke="#5fe091"/>
<line x1="270.4" y1="92.6" x2="272.9" y2="91.1" stroke="#70e07f"/>
<line x1="272.9" y1="91.1" x2="275.3" y2="89.7" stroke="#84e06c"/>
<line x1="275.3" y1="89.7" x2="277.6" y2="88.6" stroke="#96e059"/>
<line x1="277.6" y1="88.6" x2="280" y2="87.1" stroke="#a8e048"/>
<line x1="280" y1="87.1" x2="282.4" y2="85.7" stroke="#bbe035"/>
<line x1="282.4" y1="85.7" x2="284.7" y2="83.9" stroke="#cde023"/>
<line x1="284.7" y1="83.9" x2="287.1" y2="82.1" stroke="#dfe011"/>
<line x1="287.1" y1="82.1" x2="289.3" y2="80.7" stroke="#e0cf0f"/>
<line x1="289.3" y1="80.7" x2="292.4" y2="79" stroke="#e0be0f"/>
<line x1="292.4" y1="79" x2="295.5" y2="77.3" stroke="#e0a60f"/>
<line x1="295.5" y1="77.3" x2="298.5" y2="75.6" stroke="#e08e0f"/>
<line x1="298.5" y1="75.6" x2="301.6" y2="74.2" stroke="#e0770f"/>
<line x1="301.6" y1="74.2" x2="304.4" y2="72.7" stroke="#e05f0f"/>
<line x1="304.4" y1="72.7" x2="307.5" y2="71" stroke="#e04a0f"/>
<line x1="307.5" y1="71" x2="310.4" y2="68.9" stroke="#e0320f"/>
<line x1="310.4" y1="68.9" x2="313.3" y2="66.4" stroke="#e01b0f"/>
<line x1="313.3" y1="66.4" x2="315.9" y2="63.6" stroke="#d60f0f"/>
<line x1="315.9" y1="63.6" x2="317.9111111111111" y2="61.0" stroke="#c20f0f"/>
<line x1="317.9111111111111" y1="61.0" x2="319.9222222222222" y2="58.400000000000006" stroke="#b20f0f"/>
<line x1="319.9222222222222" y1="58.400000000000006" x2="321.93333333333334" y2="55.800000000000004" stroke="#a30f0f"/>
<line x1="321.93333333333334" y1="55.800000000000004" x2="323.94444444444446" y2="53.2" stroke="#930f0f"/>
<line x1="323.94444444444446" y1="53.2" x2="325.9555555555555" y2="50.6" stroke="#840f0f"/>
<line x1="325.9555555555555" y1="50.6" x2="327.96666666666664" y2="48.0" stroke="#780f0f"/>
<line x1="327.96666666666664" y1="48.0" x2="329.97777777777776" y2="45.400000000000006" stroke="#780f0f"/>
<line x1="329.97777777777776" y1="45.400000000000006" x2="331.9888888888889" y2="42.800000000000004" stroke="#780f0f"/>
<line x1="331.9888888888889" y1="42.800000000000004" x2="334.0" y2="40.2" stroke="#780f0f"/>
</g>
<circle cx="217.30" cy="162.70" r="1.45" fill="#0f0f78"/>
<circle cx="220.60" cy="153.80" r="1.45" fill="#0f0f92"/>
<circle cx="223.50" cy="149.00" r="1.45" fill="#0f0fa8"/>
<circle cx="226.90" cy="138.50" r="1.45" fill="#0f0fc2"/>
<circle cx="229.60" cy="136.20" r="1.45" fill="#0f0fd7"/>
<circle cx="232.70" cy="130.80" r="1.45" fill="#0f1ee0"/>
<circle cx="235.60" cy="125.60" r="1.45" fill="#0f34e0"/>
<circle cx="238.80" cy="120.80" r="1.45" fill="#0f4de0"/>
<circle cx="241.70" cy="116.70" r="1.45" fill="#0f64e0"/>
<circle cx="244.60" cy="113.10" r="1.45" fill="#0f7ae0"/>
<circle cx="247.10" cy="110.00" r="1.45" fill="#0f8de0"/>
<circle cx="249.30" cy="107.90" r="1.45" fill="#0f9ee0"/>
<circle cx="251.40" cy="105.70" r="1.45" fill="#0fafe0"/>
<circle cx="253.90" cy="103.90" r="1.45" fill="#0fc2e0"/>
<circle cx="256.10" cy="101.90" r="1.45" fill="#0fd3e0"/>
<circle cx="258.60" cy="100.00" r="1.45" fill="#15e0db"/>
<circle cx="261.00" cy="98.60" r="1.45" fill="#28e0c8"/>
<circle cx="263.30" cy="96.90" r="1.45" fill="#3ae0b6"/>
<circle cx="265.70" cy="95.40" r="1.45" fill="#4ce0a4"/>
<circle cx="268.10" cy="94.00" r="1.45" fill="#5fe091"/>
<circle cx="270.40" cy="92.60" r="1.45" fill="#70e07f"/>
<circle cx="272.90" cy="91.10" r="1.45" fill="#84e06c"/>
<circle cx="275.30" cy="89.70" r="1.45" fill="#96e059"/>
<circle cx="277.60" cy="88.60" r="1.45" fill="#a8e048"/>
<circle cx="280.00" cy="87.10" r="1.45" fill="#bbe035"/>
<circle cx="282.40" cy="85.70" r="1.45" fill="#cde023"/>
<circle cx="284.70" cy="83.90" r="1.45" fill="#dfe011"/>
<circle cx="287.10" cy="82.10" r="1.45" fill="#e0cf0f"/>
<circle cx="289.30" cy="80.70" r="1.45" fill="#e0be0f"/>
<circle cx="292.40" cy="79.00" r="1.45" fill="#e0a60f"/>
<circle cx="295.50" cy="77.30" r="1.45" fill="#e08e0f"/>
<circle cx="298.50" cy="75.60" r="1.45" fill="#e0770f"/>
<circle cx="301.60" cy="74.20" r="1.45" fill="#e05f0f"/>
<circle cx="304.40" cy="72.70" r="1.45" fill="#e04a0f"/>
<circle cx="307.50" cy="71.00" r="1.45" fill="#e0320f"/>
<circle cx="310.40" cy="68.90" r="1.45" fill="#e01b0f"/>
<circle cx="313.30" cy="66.40" r="1.45" fill="#d60f0f"/>
<circle cx="315.90" cy="63.60" r="1.45" fill="#c20f0f"/>
<circle cx="317.91" cy="61.00" r="1.45" fill="#b20f0f"/>
<circle cx="319.92" cy="58.40" r="1.45" fill="#a30f0f"/>
<circle cx="321.93" cy="55.80" r="1.45" fill="#930f0f"/>
<circle cx="323.94" cy="53.20" r="1.45" fill="#840f0f"/>
<circle cx="325.96" cy="50.60" r="1.45" fill="#780f0f"/>
<circle cx="327.97" cy="48.00" r="1.45" fill="#780f0f"/>
<circle cx="329.98" cy="45.40" r="1.45" fill="#780f0f"/>
<circle cx="331.99" cy="42.80" r="1.45" fill="#780f0f"/>
<circle cx="334.00" cy="40.20" r="1.45" fill="#780f0f"/>
<rect x="209.2" y="39.1" width="125.40000000000003" height="131.4" fill="none" stroke="#8a8a8a" stroke-width="0.7"/>
<line x1="227.12" y1="170.5" x2="227.12" y2="169.0" stroke="#8a8a8a" stroke-width="0.6"/>
<line x1="227.12" y1="39.1" x2="227.12" y2="40.6" stroke="#8a8a8a" stroke-width="0.6"/>
<line x1="262.94" y1="170.5" x2="262.94" y2="169.0" stroke="#8a8a8a" stroke-width="0.6"/>
<line x1="262.94" y1="39.1" x2="262.94" y2="40.6" stroke="#8a8a8a" stroke-width="0.6"/>
<line x1="298.77" y1="170.5" x2="298.77" y2="169.0" stroke="#8a8a8a" stroke-width="0.6"/>
<line x1="298.77" y1="39.1" x2="298.77" y2="40.6" stroke="#8a8a8a" stroke-width="0.6"/>
<line x1="209.2" y1="65.38" x2="210.7" y2="65.38" stroke="#8a8a8a" stroke-width="0.6"/>
<line x1="334.6" y1="65.38" x2="333.1" y2="65.38" stroke="#8a8a8a" stroke-width="0.6"/>
<line x1="209.2" y1="91.66" x2="210.7" y2="91.66" stroke="#8a8a8a" stroke-width="0.6"/>
<line x1="334.6" y1="91.66" x2="333.1" y2="91.66" stroke="#8a8a8a" stroke-width="0.6"/>
<line x1="209.2" y1="117.94" x2="210.7" y2="117.94" stroke="#8a8a8a" stroke-width="0.6"/>
<line x1="334.6" y1="117.94" x2="333.1" y2="117.94" stroke="#8a8a8a" stroke-width="0.6"/>
<line x1="209.2" y1="144.22" x2="210.7" y2="144.22" stroke="#8a8a8a" stroke-width="0.6"/>
<line x1="334.6" y1="144.22" x2="333.1" y2="144.22" stroke="#8a8a8a" stroke-width="0.6"/>
<text transform="translate(207.90 42.10) scale(1.15 1)" font-size="8.4" text-anchor="end" font-weight="normal" fill="#222" stroke="#222" stroke-width="0.24">0</text>
<text transform="translate(207.90 68.38) scale(1.15 1)" font-size="8.4" text-anchor="end" font-weight="normal" fill="#222" stroke="#222" stroke-width="0.24">-10</text>
<text transform="translate(207.90 94.66) scale(1.15 1)" font-size="8.4" text-anchor="end" font-weight="normal" fill="#222" stroke="#222" stroke-width="0.24">-20</text>
<text transform="translate(207.90 120.94) scale(1.15 1)" font-size="8.4" text-anchor="end" font-weight="normal" fill="#222" stroke="#222" stroke-width="0.24">-30</text>
<text transform="translate(207.90 147.22) scale(1.15 1)" font-size="8.4" text-anchor="end" font-weight="normal" fill="#222" stroke="#222" stroke-width="0.24">-40</text>
<text transform="translate(207.90 173.50) scale(1.15 1)" font-size="8.4" text-anchor="end" font-weight="normal" fill="#222" stroke="#222" stroke-width="0.24">-50</text>
<text transform="translate(227.12 182.90) scale(1.15 1)" font-size="8.4" text-anchor="middle" font-weight="normal" fill="#222" stroke="#222" stroke-width="0.24">-60</text>
<text transform="translate(262.94 182.90) scale(1.15 1)" font-size="8.4" text-anchor="middle" font-weight="normal" fill="#222" stroke="#222" stroke-width="0.24">-40</text>
<text transform="translate(298.77 182.90) scale(1.15 1)" font-size="8.4" text-anchor="middle" font-weight="normal" fill="#222" stroke="#222" stroke-width="0.24">-20</text>
<text transform="translate(334.60 182.90) scale(1.15 1)" font-size="8.4" text-anchor="middle" font-weight="normal" fill="#222" stroke="#222" stroke-width="0.24">0</text>
<text transform="translate(271.00 191.60) scale(1.08 1)" font-size="8.8" text-anchor="middle" font-weight="normal" fill="#222" stroke="#222" stroke-width="0.2">Excitation amplitude [dB]</text>
<text transform="translate(191.60 106.30) rotate(-90) scale(1.08 1)" font-size="8.8" text-anchor="middle" font-weight="normal" fill="#222" stroke="#222" stroke-width="0.2">Response amplitude [dB]</text>
<text transform="translate(187.60 44.30)" font-size="9.4" text-anchor="start" font-weight="normal" fill="#222" stroke="#222" stroke-width="0.45">b)</text>
<text transform="translate(248.60 130.50)" font-size="8.0" text-anchor="middle" font-weight="bold" fill="#111" >1</text>
<text transform="translate(239.80 145.30)" font-size="8.0" text-anchor="middle" font-weight="bold" fill="#111" >1</text>
<text transform="translate(281.60 67.00)" font-size="8.0" text-anchor="middle" font-weight="bold" fill="#111" >3</text>
<text transform="translate(259.60 80.80)" font-size="8.0" text-anchor="middle" font-weight="bold" fill="#111" >1</text>
<text transform="translate(309.50 55.00)" font-size="8.0" text-anchor="middle" font-weight="bold" fill="#111" >1</text>
<text transform="translate(322.80 48.30)" font-size="8.0" text-anchor="middle" font-weight="bold" fill="#111" >1</text>
<line x1="42.56" y1="210.5" x2="42.56" y2="343.6" stroke="#e3e3e3" stroke-width="0.6"/>
<line x1="75.64" y1="210.5" x2="75.64" y2="343.6" stroke="#e3e3e3" stroke-width="0.6"/>
<line x1="108.72" y1="210.5" x2="108.72" y2="343.6" stroke="#e3e3e3" stroke-width="0.6"/>
<line x1="26" y1="229.51" x2="141.8" y2="229.51" stroke="#e3e3e3" stroke-width="0.6"/>
<line x1="26" y1="248.52" x2="141.8" y2="248.52" stroke="#e3e3e3" stroke-width="0.6"/>
<line x1="26" y1="267.53" x2="141.8" y2="267.53" stroke="#e3e3e3" stroke-width="0.6"/>
<line x1="26" y1="286.54" x2="141.8" y2="286.54" stroke="#e3e3e3" stroke-width="0.6"/>
<line x1="26" y1="305.55" x2="141.8" y2="305.55" stroke="#e3e3e3" stroke-width="0.6"/>
<line x1="26" y1="324.56" x2="141.8" y2="324.56" stroke="#e3e3e3" stroke-width="0.6"/>
<clipPath id="cc"><rect x="26" y="208.5" width="117.80000000000001" height="135.10000000000002"/></clipPath>
<g clip-path="url(#cc)">
<polyline points="29.99,333.87 32.88,331.06 35.78,328.24 38.67,325.43 41.57,322.61 44.46,319.79 47.36,316.98 50.25,314.16 53.15,311.34 56.04,308.53 58.93,305.71 61.83,302.41 64.72,299.09 67.62,295.76 70.51,292.43 73.41,289.11 76.30,285.78 79.20,282.45 82.09,279.13 84.99,275.80 87.88,272.47 90.77,269.15 93.67,265.82 96.56,262.49 99.46,259.17 102.35,255.84 105.25,252.51 108.14,249.19 111.04,245.86 113.93,242.53 116.82,239.21 119.72,235.88 122.61,232.55 125.51,229.22 128.40,225.90 131.30,222.57 134.19,219.24 137.09,215.92 139.98,212.59 141.80,210.50" fill="none" stroke="#4db95d" stroke-width="0.7"/>
<ellipse cx="29.99" cy="333.87" rx="1.55" ry="1.35" fill="#4db95d"/>
<ellipse cx="32.88" cy="331.06" rx="1.55" ry="1.35" fill="#4db95d"/>
<ellipse cx="35.78" cy="328.24" rx="1.55" ry="1.35" fill="#4db95d"/>
<ellipse cx="38.67" cy="325.43" rx="1.55" ry="1.35" fill="#4db95d"/>
<ellipse cx="41.57" cy="322.61" rx="1.55" ry="1.35" fill="#4db95d"/>
<ellipse cx="44.46" cy="319.79" rx="1.55" ry="1.35" fill="#4db95d"/>
<ellipse cx="47.36" cy="316.98" rx="1.55" ry="1.35" fill="#4db95d"/>
<ellipse cx="50.25" cy="314.16" rx="1.55" ry="1.35" fill="#4db95d"/>
<ellipse cx="53.15" cy="311.34" rx="1.55" ry="1.35" fill="#4db95d"/>
<ellipse cx="56.04" cy="308.53" rx="1.55" ry="1.35" fill="#4db95d"/>
<ellipse cx="58.93" cy="305.71" rx="1.55" ry="1.35" fill="#4db95d"/>
<ellipse cx="61.83" cy="302.41" rx="1.55" ry="1.35" fill="#4db95d"/>
<ellipse cx="64.72" cy="299.09" rx="1.55" ry="1.35" fill="#4db95d"/>
<ellipse cx="67.62" cy="295.76" rx="1.55" ry="1.35" fill="#4db95d"/>
<ellipse cx="70.51" cy="292.43" rx="1.55" ry="1.35" fill="#4db95d"/>
<ellipse cx="73.41" cy="289.11" rx="1.55" ry="1.35" fill="#4db95d"/>
<ellipse cx="76.30" cy="285.78" rx="1.55" ry="1.35" fill="#4db95d"/>
<ellipse cx="79.20" cy="282.45" rx="1.55" ry="1.35" fill="#4db95d"/>
<ellipse cx="82.09" cy="279.13" rx="1.55" ry="1.35" fill="#4db95d"/>
<ellipse cx="84.99" cy="275.80" rx="1.55" ry="1.35" fill="#4db95d"/>
<ellipse cx="87.88" cy="272.47" rx="1.55" ry="1.35" fill="#4db95d"/>
<ellipse cx="90.77" cy="269.15" rx="1.55" ry="1.35" fill="#4db95d"/>
<ellipse cx="93.67" cy="265.82" rx="1.55" ry="1.35" fill="#4db95d"/>
<ellipse cx="96.56" cy="262.49" rx="1.55" ry="1.35" fill="#4db95d"/>
<ellipse cx="99.46" cy="259.17" rx="1.55" ry="1.35" fill="#4db95d"/>
<ellipse cx="102.35" cy="255.84" rx="1.55" ry="1.35" fill="#4db95d"/>
<ellipse cx="105.25" cy="252.51" rx="1.55" ry="1.35" fill="#4db95d"/>
<ellipse cx="108.14" cy="249.19" rx="1.55" ry="1.35" fill="#4db95d"/>
<ellipse cx="111.04" cy="245.86" rx="1.55" ry="1.35" fill="#4db95d"/>
<ellipse cx="113.93" cy="242.53" rx="1.55" ry="1.35" fill="#4db95d"/>
<ellipse cx="116.82" cy="239.21" rx="1.55" ry="1.35" fill="#4db95d"/>
<ellipse cx="119.72" cy="235.88" rx="1.55" ry="1.35" fill="#4db95d"/>
<ellipse cx="122.61" cy="232.55" rx="1.55" ry="1.35" fill="#4db95d"/>
<ellipse cx="125.51" cy="229.22" rx="1.55" ry="1.35" fill="#4db95d"/>
<ellipse cx="128.40" cy="225.90" rx="1.55" ry="1.35" fill="#4db95d"/>
<ellipse cx="131.30" cy="222.57" rx="1.55" ry="1.35" fill="#4db95d"/>
<ellipse cx="134.19" cy="219.24" rx="1.55" ry="1.35" fill="#4db95d"/>
<ellipse cx="137.09" cy="215.92" rx="1.55" ry="1.35" fill="#4db95d"/>
<ellipse cx="139.98" cy="212.59" rx="1.55" ry="1.35" fill="#4db95d"/>
<ellipse cx="141.80" cy="210.50" rx="1.55" ry="1.35" fill="#4db95d"/>
<polyline points="29.99,327.36 32.88,324.04 35.78,320.71 38.67,317.38 41.57,314.06 44.46,310.73 47.36,307.40 50.25,304.08 53.15,300.75 56.04,297.43 58.93,294.10 61.83,290.78 64.72,287.46 67.62,284.15 70.51,280.84 73.41,277.53 76.30,274.24 79.20,270.96 82.09,267.71 84.99,264.49 87.88,261.32 90.77,258.21 93.67,255.18 96.56,252.27 99.46,249.48 102.35,246.83 105.25,244.35 108.14,242.01 111.04,239.83 113.93,237.79 116.82,235.87 119.72,234.07 122.61,232.36 125.51,229.22 128.40,225.90 131.30,222.57 134.19,219.24 137.09,215.92 139.98,212.59 141.80,210.50" fill="none" stroke="#33aa53" stroke-width="0.7"/>
<ellipse cx="29.99" cy="327.36" rx="1.55" ry="1.35" fill="#33aa53"/>
<ellipse cx="32.88" cy="324.04" rx="1.55" ry="1.35" fill="#33aa53"/>
<ellipse cx="35.78" cy="320.71" rx="1.55" ry="1.35" fill="#33aa53"/>
<ellipse cx="38.67" cy="317.38" rx="1.55" ry="1.35" fill="#33aa53"/>
<ellipse cx="41.57" cy="314.06" rx="1.55" ry="1.35" fill="#33aa53"/>
<ellipse cx="44.46" cy="310.73" rx="1.55" ry="1.35" fill="#33aa53"/>
<ellipse cx="47.36" cy="307.40" rx="1.55" ry="1.35" fill="#33aa53"/>
<ellipse cx="50.25" cy="304.08" rx="1.55" ry="1.35" fill="#33aa53"/>
<ellipse cx="53.15" cy="300.75" rx="1.55" ry="1.35" fill="#33aa53"/>
<ellipse cx="56.04" cy="297.43" rx="1.55" ry="1.35" fill="#33aa53"/>
<ellipse cx="58.93" cy="294.10" rx="1.55" ry="1.35" fill="#33aa53"/>
<ellipse cx="61.83" cy="290.78" rx="1.55" ry="1.35" fill="#33aa53"/>
<ellipse cx="64.72" cy="287.46" rx="1.55" ry="1.35" fill="#33aa53"/>
<ellipse cx="67.62" cy="284.15" rx="1.55" ry="1.35" fill="#33aa53"/>
<ellipse cx="70.51" cy="280.84" rx="1.55" ry="1.35" fill="#33aa53"/>
<ellipse cx="73.41" cy="277.53" rx="1.55" ry="1.35" fill="#33aa53"/>
<ellipse cx="76.30" cy="274.24" rx="1.55" ry="1.35" fill="#33aa53"/>
<ellipse cx="79.20" cy="270.96" rx="1.55" ry="1.35" fill="#33aa53"/>
<ellipse cx="82.09" cy="267.71" rx="1.55" ry="1.35" fill="#33aa53"/>
<ellipse cx="84.99" cy="264.49" rx="1.55" ry="1.35" fill="#33aa53"/>
<ellipse cx="87.88" cy="261.32" rx="1.55" ry="1.35" fill="#33aa53"/>
<ellipse cx="90.77" cy="258.21" rx="1.55" ry="1.35" fill="#33aa53"/>
<ellipse cx="93.67" cy="255.18" rx="1.55" ry="1.35" fill="#33aa53"/>
<ellipse cx="96.56" cy="252.27" rx="1.55" ry="1.35" fill="#33aa53"/>
<ellipse cx="99.46" cy="249.48" rx="1.55" ry="1.35" fill="#33aa53"/>
<ellipse cx="102.35" cy="246.83" rx="1.55" ry="1.35" fill="#33aa53"/>
<ellipse cx="105.25" cy="244.35" rx="1.55" ry="1.35" fill="#33aa53"/>
<ellipse cx="108.14" cy="242.01" rx="1.55" ry="1.35" fill="#33aa53"/>
<ellipse cx="111.04" cy="239.83" rx="1.55" ry="1.35" fill="#33aa53"/>
<ellipse cx="113.93" cy="237.79" rx="1.55" ry="1.35" fill="#33aa53"/>
<ellipse cx="116.82" cy="235.87" rx="1.55" ry="1.35" fill="#33aa53"/>
<ellipse cx="119.72" cy="234.07" rx="1.55" ry="1.35" fill="#33aa53"/>
<ellipse cx="122.61" cy="232.36" rx="1.55" ry="1.35" fill="#33aa53"/>
<ellipse cx="125.51" cy="229.22" rx="1.55" ry="1.35" fill="#33aa53"/>
<ellipse cx="128.40" cy="225.90" rx="1.55" ry="1.35" fill="#33aa53"/>
<ellipse cx="131.30" cy="222.57" rx="1.55" ry="1.35" fill="#33aa53"/>
<ellipse cx="134.19" cy="219.24" rx="1.55" ry="1.35" fill="#33aa53"/>
<ellipse cx="137.09" cy="215.92" rx="1.55" ry="1.35" fill="#33aa53"/>
<ellipse cx="139.98" cy="212.59" rx="1.55" ry="1.35" fill="#33aa53"/>
<ellipse cx="141.80" cy="210.50" rx="1.55" ry="1.35" fill="#33aa53"/>
<polyline points="29.99,318.17 32.88,314.84 35.78,311.51 38.67,308.19 41.57,304.86 44.46,301.54 47.36,298.22 50.25,294.90 53.15,291.58 56.04,288.27 58.93,284.97 61.83,281.67 64.72,278.40 67.62,275.14 70.51,271.93 73.41,268.75 76.30,265.65 79.20,262.62 82.09,259.71 84.99,256.92 87.88,254.28 90.77,251.79 93.67,249.46 96.56,247.28 99.46,245.24 102.35,243.33 105.25,241.52 108.14,239.82 111.04,238.19 113.93,236.64 116.82,235.16 119.72,233.72 122.61,232.33 125.51,229.22 128.40,225.90 131.30,222.57 134.19,219.24 137.09,215.92 139.98,212.59 141.80,210.50" fill="none" stroke="#26a04c" stroke-width="0.7"/>
<ellipse cx="29.99" cy="318.17" rx="1.55" ry="1.35" fill="#26a04c"/>
<ellipse cx="32.88" cy="314.84" rx="1.55" ry="1.35" fill="#26a04c"/>
<ellipse cx="35.78" cy="311.51" rx="1.55" ry="1.35" fill="#26a04c"/>
<ellipse cx="38.67" cy="308.19" rx="1.55" ry="1.35" fill="#26a04c"/>
<ellipse cx="41.57" cy="304.86" rx="1.55" ry="1.35" fill="#26a04c"/>
<ellipse cx="44.46" cy="301.54" rx="1.55" ry="1.35" fill="#26a04c"/>
<ellipse cx="47.36" cy="298.22" rx="1.55" ry="1.35" fill="#26a04c"/>
<ellipse cx="50.25" cy="294.90" rx="1.55" ry="1.35" fill="#26a04c"/>
<ellipse cx="53.15" cy="291.58" rx="1.55" ry="1.35" fill="#26a04c"/>
<ellipse cx="56.04" cy="288.27" rx="1.55" ry="1.35" fill="#26a04c"/>
<ellipse cx="58.93" cy="284.97" rx="1.55" ry="1.35" fill="#26a04c"/>
<ellipse cx="61.83" cy="281.67" rx="1.55" ry="1.35" fill="#26a04c"/>
<ellipse cx="64.72" cy="278.40" rx="1.55" ry="1.35" fill="#26a04c"/>
<ellipse cx="67.62" cy="275.14" rx="1.55" ry="1.35" fill="#26a04c"/>
<ellipse cx="70.51" cy="271.93" rx="1.55" ry="1.35" fill="#26a04c"/>
<ellipse cx="73.41" cy="268.75" rx="1.55" ry="1.35" fill="#26a04c"/>
<ellipse cx="76.30" cy="265.65" rx="1.55" ry="1.35" fill="#26a04c"/>
<ellipse cx="79.20" cy="262.62" rx="1.55" ry="1.35" fill="#26a04c"/>
<ellipse cx="82.09" cy="259.71" rx="1.55" ry="1.35" fill="#26a04c"/>
<ellipse cx="84.99" cy="256.92" rx="1.55" ry="1.35" fill="#26a04c"/>
<ellipse cx="87.88" cy="254.28" rx="1.55" ry="1.35" fill="#26a04c"/>
<ellipse cx="90.77" cy="251.79" rx="1.55" ry="1.35" fill="#26a04c"/>
<ellipse cx="93.67" cy="249.46" rx="1.55" ry="1.35" fill="#26a04c"/>
<ellipse cx="96.56" cy="247.28" rx="1.55" ry="1.35" fill="#26a04c"/>
<ellipse cx="99.46" cy="245.24" rx="1.55" ry="1.35" fill="#26a04c"/>
<ellipse cx="102.35" cy="243.33" rx="1.55" ry="1.35" fill="#26a04c"/>
<ellipse cx="105.25" cy="241.52" rx="1.55" ry="1.35" fill="#26a04c"/>
<ellipse cx="108.14" cy="239.82" rx="1.55" ry="1.35" fill="#26a04c"/>
<ellipse cx="111.04" cy="238.19" rx="1.55" ry="1.35" fill="#26a04c"/>
<ellipse cx="113.93" cy="236.64" rx="1.55" ry="1.35" fill="#26a04c"/>
<ellipse cx="116.82" cy="235.16" rx="1.55" ry="1.35" fill="#26a04c"/>
<ellipse cx="119.72" cy="233.72" rx="1.55" ry="1.35" fill="#26a04c"/>
<ellipse cx="122.61" cy="232.33" rx="1.55" ry="1.35" fill="#26a04c"/>
<ellipse cx="125.51" cy="229.22" rx="1.55" ry="1.35" fill="#26a04c"/>
<ellipse cx="128.40" cy="225.90" rx="1.55" ry="1.35" fill="#26a04c"/>
<ellipse cx="131.30" cy="222.57" rx="1.55" ry="1.35" fill="#26a04c"/>
<ellipse cx="134.19" cy="219.24" rx="1.55" ry="1.35" fill="#26a04c"/>
<ellipse cx="137.09" cy="215.92" rx="1.55" ry="1.35" fill="#26a04c"/>
<ellipse cx="139.98" cy="212.59" rx="1.55" ry="1.35" fill="#26a04c"/>
<ellipse cx="141.80" cy="210.50" rx="1.55" ry="1.35" fill="#26a04c"/>
<polyline points="29.99,308.34 32.88,305.02 35.78,301.70 38.67,298.38 41.57,295.07 44.46,291.76 47.36,288.47 50.25,285.19 53.15,281.93 56.04,278.70 58.93,275.52 61.83,272.41 64.72,269.37 67.62,266.43 70.51,263.62 73.41,260.96 76.30,258.45 79.20,256.09 82.09,253.89 84.99,251.82 87.88,249.89 90.77,248.07 93.67,246.35 96.56,244.71 99.46,243.15 102.35,241.66 105.25,240.21 108.14,238.81 111.04,237.45 113.93,236.13 116.82,234.83 119.72,233.56 122.61,232.31 125.51,229.22 128.40,225.90 131.30,222.57 134.19,219.24 137.09,215.92 139.98,212.59 141.80,210.50" fill="none" stroke="#1e9447" stroke-width="0.7"/>
<ellipse cx="29.99" cy="308.34" rx="1.55" ry="1.35" fill="#1e9447"/>
<ellipse cx="32.88" cy="305.02" rx="1.55" ry="1.35" fill="#1e9447"/>
<ellipse cx="35.78" cy="301.70" rx="1.55" ry="1.35" fill="#1e9447"/>
<ellipse cx="38.67" cy="298.38" rx="1.55" ry="1.35" fill="#1e9447"/>
<ellipse cx="41.57" cy="295.07" rx="1.55" ry="1.35" fill="#1e9447"/>
<ellipse cx="44.46" cy="291.76" rx="1.55" ry="1.35" fill="#1e9447"/>
<ellipse cx="47.36" cy="288.47" rx="1.55" ry="1.35" fill="#1e9447"/>
<ellipse cx="50.25" cy="285.19" rx="1.55" ry="1.35" fill="#1e9447"/>
<ellipse cx="53.15" cy="281.93" rx="1.55" ry="1.35" fill="#1e9447"/>
<ellipse cx="56.04" cy="278.70" rx="1.55" ry="1.35" fill="#1e9447"/>
<ellipse cx="58.93" cy="275.52" rx="1.55" ry="1.35" fill="#1e9447"/>
<ellipse cx="61.83" cy="272.41" rx="1.55" ry="1.35" fill="#1e9447"/>
<ellipse cx="64.72" cy="269.37" rx="1.55" ry="1.35" fill="#1e9447"/>
<ellipse cx="67.62" cy="266.43" rx="1.55" ry="1.35" fill="#1e9447"/>
<ellipse cx="70.51" cy="263.62" rx="1.55" ry="1.35" fill="#1e9447"/>
<ellipse cx="73.41" cy="260.96" rx="1.55" ry="1.35" fill="#1e9447"/>
<ellipse cx="76.30" cy="258.45" rx="1.55" ry="1.35" fill="#1e9447"/>
<ellipse cx="79.20" cy="256.09" rx="1.55" ry="1.35" fill="#1e9447"/>
<ellipse cx="82.09" cy="253.89" rx="1.55" ry="1.35" fill="#1e9447"/>
<ellipse cx="84.99" cy="251.82" rx="1.55" ry="1.35" fill="#1e9447"/>
<ellipse cx="87.88" cy="249.89" rx="1.55" ry="1.35" fill="#1e9447"/>
<ellipse cx="90.77" cy="248.07" rx="1.55" ry="1.35" fill="#1e9447"/>
<ellipse cx="93.67" cy="246.35" rx="1.55" ry="1.35" fill="#1e9447"/>
<ellipse cx="96.56" cy="244.71" rx="1.55" ry="1.35" fill="#1e9447"/>
<ellipse cx="99.46" cy="243.15" rx="1.55" ry="1.35" fill="#1e9447"/>
<ellipse cx="102.35" cy="241.66" rx="1.55" ry="1.35" fill="#1e9447"/>
<ellipse cx="105.25" cy="240.21" rx="1.55" ry="1.35" fill="#1e9447"/>
<ellipse cx="108.14" cy="238.81" rx="1.55" ry="1.35" fill="#1e9447"/>
<ellipse cx="111.04" cy="237.45" rx="1.55" ry="1.35" fill="#1e9447"/>
<ellipse cx="113.93" cy="236.13" rx="1.55" ry="1.35" fill="#1e9447"/>
<ellipse cx="116.82" cy="234.83" rx="1.55" ry="1.35" fill="#1e9447"/>
<ellipse cx="119.72" cy="233.56" rx="1.55" ry="1.35" fill="#1e9447"/>
<ellipse cx="122.61" cy="232.31" rx="1.55" ry="1.35" fill="#1e9447"/>
<ellipse cx="125.51" cy="229.22" rx="1.55" ry="1.35" fill="#1e9447"/>
<ellipse cx="128.40" cy="225.90" rx="1.55" ry="1.35" fill="#1e9447"/>
<ellipse cx="131.30" cy="222.57" rx="1.55" ry="1.35" fill="#1e9447"/>
<ellipse cx="134.19" cy="219.24" rx="1.55" ry="1.35" fill="#1e9447"/>
<ellipse cx="137.09" cy="215.92" rx="1.55" ry="1.35" fill="#1e9447"/>
<ellipse cx="139.98" cy="212.59" rx="1.55" ry="1.35" fill="#1e9447"/>
<ellipse cx="141.80" cy="210.50" rx="1.55" ry="1.35" fill="#1e9447"/>
<polyline points="29.99,304.60 32.88,302.16 35.78,299.73 38.67,297.30 41.57,294.86 44.46,292.43 47.36,289.99 50.25,287.56 53.15,285.12 56.04,282.69 58.93,280.25 61.83,277.82 64.72,275.38 67.62,272.95 70.51,270.52 73.41,268.08 76.30,265.65 79.20,263.21 82.09,260.78 84.99,258.34 87.88,255.91 90.77,253.47 93.67,251.04 96.56,248.60 99.46,246.17 102.35,243.73 105.25,241.30 108.14,238.87 111.04,236.73 113.93,235.62 116.82,234.52 119.72,233.41 122.61,232.30 125.51,229.22 128.40,225.90 131.30,222.57 134.19,219.24 137.09,215.92 139.98,212.59 141.80,210.50" fill="none" stroke="#1b8945" stroke-width="0.7"/>
<ellipse cx="29.99" cy="304.60" rx="1.55" ry="1.35" fill="#1b8945"/>
<ellipse cx="32.88" cy="302.16" rx="1.55" ry="1.35" fill="#1b8945"/>
<ellipse cx="35.78" cy="299.73" rx="1.55" ry="1.35" fill="#1b8945"/>
<ellipse cx="38.67" cy="297.30" rx="1.55" ry="1.35" fill="#1b8945"/>
<ellipse cx="41.57" cy="294.86" rx="1.55" ry="1.35" fill="#1b8945"/>
<ellipse cx="44.46" cy="292.43" rx="1.55" ry="1.35" fill="#1b8945"/>
<ellipse cx="47.36" cy="289.99" rx="1.55" ry="1.35" fill="#1b8945"/>
<ellipse cx="50.25" cy="287.56" rx="1.55" ry="1.35" fill="#1b8945"/>
<ellipse cx="53.15" cy="285.12" rx="1.55" ry="1.35" fill="#1b8945"/>
<ellipse cx="56.04" cy="282.69" rx="1.55" ry="1.35" fill="#1b8945"/>
<ellipse cx="58.93" cy="280.25" rx="1.55" ry="1.35" fill="#1b8945"/>
<ellipse cx="61.83" cy="277.82" rx="1.55" ry="1.35" fill="#1b8945"/>
<ellipse cx="64.72" cy="275.38" rx="1.55" ry="1.35" fill="#1b8945"/>
<ellipse cx="67.62" cy="272.95" rx="1.55" ry="1.35" fill="#1b8945"/>
<ellipse cx="70.51" cy="270.52" rx="1.55" ry="1.35" fill="#1b8945"/>
<ellipse cx="73.41" cy="268.08" rx="1.55" ry="1.35" fill="#1b8945"/>
<ellipse cx="76.30" cy="265.65" rx="1.55" ry="1.35" fill="#1b8945"/>
<ellipse cx="79.20" cy="263.21" rx="1.55" ry="1.35" fill="#1b8945"/>
<ellipse cx="82.09" cy="260.78" rx="1.55" ry="1.35" fill="#1b8945"/>
<ellipse cx="84.99" cy="258.34" rx="1.55" ry="1.35" fill="#1b8945"/>
<ellipse cx="87.88" cy="255.91" rx="1.55" ry="1.35" fill="#1b8945"/>
<ellipse cx="90.77" cy="253.47" rx="1.55" ry="1.35" fill="#1b8945"/>
<ellipse cx="93.67" cy="251.04" rx="1.55" ry="1.35" fill="#1b8945"/>
<ellipse cx="96.56" cy="248.60" rx="1.55" ry="1.35" fill="#1b8945"/>
<ellipse cx="99.46" cy="246.17" rx="1.55" ry="1.35" fill="#1b8945"/>
<ellipse cx="102.35" cy="243.73" rx="1.55" ry="1.35" fill="#1b8945"/>
<ellipse cx="105.25" cy="241.30" rx="1.55" ry="1.35" fill="#1b8945"/>
<ellipse cx="108.14" cy="238.87" rx="1.55" ry="1.35" fill="#1b8945"/>
<ellipse cx="111.04" cy="236.73" rx="1.55" ry="1.35" fill="#1b8945"/>
<ellipse cx="113.93" cy="235.62" rx="1.55" ry="1.35" fill="#1b8945"/>
<ellipse cx="116.82" cy="234.52" rx="1.55" ry="1.35" fill="#1b8945"/>
<ellipse cx="119.72" cy="233.41" rx="1.55" ry="1.35" fill="#1b8945"/>
<ellipse cx="122.61" cy="232.30" rx="1.55" ry="1.35" fill="#1b8945"/>
<ellipse cx="125.51" cy="229.22" rx="1.55" ry="1.35" fill="#1b8945"/>
<ellipse cx="128.40" cy="225.90" rx="1.55" ry="1.35" fill="#1b8945"/>
<ellipse cx="131.30" cy="222.57" rx="1.55" ry="1.35" fill="#1b8945"/>
<ellipse cx="134.19" cy="219.24" rx="1.55" ry="1.35" fill="#1b8945"/>
<ellipse cx="137.09" cy="215.92" rx="1.55" ry="1.35" fill="#1b8945"/>
<ellipse cx="139.98" cy="212.59" rx="1.55" ry="1.35" fill="#1b8945"/>
<ellipse cx="141.80" cy="210.50" rx="1.55" ry="1.35" fill="#1b8945"/>
<polyline points="29.99,297.35 32.88,297.53 35.78,294.55 38.67,291.93 41.57,291.25 44.46,287.41 47.36,285.81 50.25,283.27 53.15,281.16 56.04,278.84 58.93,276.60 61.83,274.37 64.72,272.15 67.62,269.92 70.51,267.69 73.41,265.46 76.30,263.23 79.20,261.00 82.09,258.77 84.99,256.54 87.88,254.31 90.77,252.08 93.67,249.85 96.56,247.62 99.46,245.39 102.35,243.17 105.25,240.94 108.14,238.71 111.04,236.73 113.93,235.62 116.82,234.52 119.72,233.41 122.61,232.30 125.51,229.22 128.40,225.90 131.30,222.57 134.19,219.24 137.09,215.92 139.98,212.59 141.80,210.50" fill="none" stroke="#197a50" stroke-width="0.7"/>
<ellipse cx="29.99" cy="297.35" rx="1.55" ry="1.35" fill="#197a50"/>
<ellipse cx="32.88" cy="297.53" rx="1.55" ry="1.35" fill="#197a50"/>
<ellipse cx="35.78" cy="294.55" rx="1.55" ry="1.35" fill="#197a50"/>
<ellipse cx="38.67" cy="291.93" rx="1.55" ry="1.35" fill="#197a50"/>
<ellipse cx="41.57" cy="291.25" rx="1.55" ry="1.35" fill="#197a50"/>
<ellipse cx="44.46" cy="287.41" rx="1.55" ry="1.35" fill="#197a50"/>
<ellipse cx="47.36" cy="285.81" rx="1.55" ry="1.35" fill="#197a50"/>
<ellipse cx="50.25" cy="283.27" rx="1.55" ry="1.35" fill="#197a50"/>
<ellipse cx="53.15" cy="281.16" rx="1.55" ry="1.35" fill="#197a50"/>
<ellipse cx="56.04" cy="278.84" rx="1.55" ry="1.35" fill="#197a50"/>
<ellipse cx="58.93" cy="276.60" rx="1.55" ry="1.35" fill="#197a50"/>
<ellipse cx="61.83" cy="274.37" rx="1.55" ry="1.35" fill="#197a50"/>
<ellipse cx="64.72" cy="272.15" rx="1.55" ry="1.35" fill="#197a50"/>
<ellipse cx="67.62" cy="269.92" rx="1.55" ry="1.35" fill="#197a50"/>
<ellipse cx="70.51" cy="267.69" rx="1.55" ry="1.35" fill="#197a50"/>
<ellipse cx="73.41" cy="265.46" rx="1.55" ry="1.35" fill="#197a50"/>
<ellipse cx="76.30" cy="263.23" rx="1.55" ry="1.35" fill="#197a50"/>
<ellipse cx="79.20" cy="261.00" rx="1.55" ry="1.35" fill="#197a50"/>
<ellipse cx="82.09" cy="258.77" rx="1.55" ry="1.35" fill="#197a50"/>
<ellipse cx="84.99" cy="256.54" rx="1.55" ry="1.35" fill="#197a50"/>
<ellipse cx="87.88" cy="254.31" rx="1.55" ry="1.35" fill="#197a50"/>
<ellipse cx="90.77" cy="252.08" rx="1.55" ry="1.35" fill="#197a50"/>
<ellipse cx="93.67" cy="249.85" rx="1.55" ry="1.35" fill="#197a50"/>
<ellipse cx="96.56" cy="247.62" rx="1.55" ry="1.35" fill="#197a50"/>
<ellipse cx="99.46" cy="245.39" rx="1.55" ry="1.35" fill="#197a50"/>
<ellipse cx="102.35" cy="243.17" rx="1.55" ry="1.35" fill="#197a50"/>
<ellipse cx="105.25" cy="240.94" rx="1.55" ry="1.35" fill="#197a50"/>
<ellipse cx="108.14" cy="238.71" rx="1.55" ry="1.35" fill="#197a50"/>
<ellipse cx="111.04" cy="236.73" rx="1.55" ry="1.35" fill="#197a50"/>
<ellipse cx="113.93" cy="235.62" rx="1.55" ry="1.35" fill="#197a50"/>
<ellipse cx="116.82" cy="234.52" rx="1.55" ry="1.35" fill="#197a50"/>
<ellipse cx="119.72" cy="233.41" rx="1.55" ry="1.35" fill="#197a50"/>
<ellipse cx="122.61" cy="232.30" rx="1.55" ry="1.35" fill="#197a50"/>
<ellipse cx="125.51" cy="229.22" rx="1.55" ry="1.35" fill="#197a50"/>
<ellipse cx="128.40" cy="225.90" rx="1.55" ry="1.35" fill="#197a50"/>
<ellipse cx="131.30" cy="222.57" rx="1.55" ry="1.35" fill="#197a50"/>
<ellipse cx="134.19" cy="219.24" rx="1.55" ry="1.35" fill="#197a50"/>
<ellipse cx="137.09" cy="215.92" rx="1.55" ry="1.35" fill="#197a50"/>
<ellipse cx="139.98" cy="212.59" rx="1.55" ry="1.35" fill="#197a50"/>
<ellipse cx="141.80" cy="210.50" rx="1.55" ry="1.35" fill="#197a50"/>
<polyline points="29.99,290.15 32.88,294.61 35.78,289.06 38.67,286.52 41.57,285.47 44.46,282.50 47.36,279.84 50.25,279.36 53.15,276.10 56.04,274.51 58.93,272.35 61.83,270.36 64.72,268.37 67.62,266.38 70.51,264.39 73.41,262.40 76.30,260.41 79.20,258.42 82.09,256.43 84.99,254.44 87.88,252.45 90.77,250.46 93.67,248.47 96.56,246.48 99.46,244.49 102.35,242.50 105.25,240.51 108.14,238.52 111.04,236.73 113.93,235.62 116.82,234.52 119.72,233.41 122.61,232.30 125.51,229.22 128.40,225.90 131.30,222.57 134.19,219.24 137.09,215.92 139.98,212.59 141.80,210.50" fill="none" stroke="#1c6470" stroke-width="0.7"/>
<ellipse cx="29.99" cy="290.15" rx="1.55" ry="1.35" fill="#1c6470"/>
<ellipse cx="32.88" cy="294.61" rx="1.55" ry="1.35" fill="#1c6470"/>
<ellipse cx="35.78" cy="289.06" rx="1.55" ry="1.35" fill="#1c6470"/>
<ellipse cx="38.67" cy="286.52" rx="1.55" ry="1.35" fill="#1c6470"/>
<ellipse cx="41.57" cy="285.47" rx="1.55" ry="1.35" fill="#1c6470"/>
<ellipse cx="44.46" cy="282.50" rx="1.55" ry="1.35" fill="#1c6470"/>
<ellipse cx="47.36" cy="279.84" rx="1.55" ry="1.35" fill="#1c6470"/>
<ellipse cx="50.25" cy="279.36" rx="1.55" ry="1.35" fill="#1c6470"/>
<ellipse cx="53.15" cy="276.10" rx="1.55" ry="1.35" fill="#1c6470"/>
<ellipse cx="56.04" cy="274.51" rx="1.55" ry="1.35" fill="#1c6470"/>
<ellipse cx="58.93" cy="272.35" rx="1.55" ry="1.35" fill="#1c6470"/>
<ellipse cx="61.83" cy="270.36" rx="1.55" ry="1.35" fill="#1c6470"/>
<ellipse cx="64.72" cy="268.37" rx="1.55" ry="1.35" fill="#1c6470"/>
<ellipse cx="67.62" cy="266.38" rx="1.55" ry="1.35" fill="#1c6470"/>
<ellipse cx="70.51" cy="264.39" rx="1.55" ry="1.35" fill="#1c6470"/>
<ellipse cx="73.41" cy="262.40" rx="1.55" ry="1.35" fill="#1c6470"/>
<ellipse cx="76.30" cy="260.41" rx="1.55" ry="1.35" fill="#1c6470"/>
<ellipse cx="79.20" cy="258.42" rx="1.55" ry="1.35" fill="#1c6470"/>
<ellipse cx="82.09" cy="256.43" rx="1.55" ry="1.35" fill="#1c6470"/>
<ellipse cx="84.99" cy="254.44" rx="1.55" ry="1.35" fill="#1c6470"/>
<ellipse cx="87.88" cy="252.45" rx="1.55" ry="1.35" fill="#1c6470"/>
<ellipse cx="90.77" cy="250.46" rx="1.55" ry="1.35" fill="#1c6470"/>
<ellipse cx="93.67" cy="248.47" rx="1.55" ry="1.35" fill="#1c6470"/>
<ellipse cx="96.56" cy="246.48" rx="1.55" ry="1.35" fill="#1c6470"/>
<ellipse cx="99.46" cy="244.49" rx="1.55" ry="1.35" fill="#1c6470"/>
<ellipse cx="102.35" cy="242.50" rx="1.55" ry="1.35" fill="#1c6470"/>
<ellipse cx="105.25" cy="240.51" rx="1.55" ry="1.35" fill="#1c6470"/>
<ellipse cx="108.14" cy="238.52" rx="1.55" ry="1.35" fill="#1c6470"/>
<ellipse cx="111.04" cy="236.73" rx="1.55" ry="1.35" fill="#1c6470"/>
<ellipse cx="113.93" cy="235.62" rx="1.55" ry="1.35" fill="#1c6470"/>
<ellipse cx="116.82" cy="234.52" rx="1.55" ry="1.35" fill="#1c6470"/>
<ellipse cx="119.72" cy="233.41" rx="1.55" ry="1.35" fill="#1c6470"/>
<ellipse cx="122.61" cy="232.30" rx="1.55" ry="1.35" fill="#1c6470"/>
<ellipse cx="125.51" cy="229.22" rx="1.55" ry="1.35" fill="#1c6470"/>
<ellipse cx="128.40" cy="225.90" rx="1.55" ry="1.35" fill="#1c6470"/>
<ellipse cx="131.30" cy="222.57" rx="1.55" ry="1.35" fill="#1c6470"/>
<ellipse cx="134.19" cy="219.24" rx="1.55" ry="1.35" fill="#1c6470"/>
<ellipse cx="137.09" cy="215.92" rx="1.55" ry="1.35" fill="#1c6470"/>
<ellipse cx="139.98" cy="212.59" rx="1.55" ry="1.35" fill="#1c6470"/>
<ellipse cx="141.80" cy="210.50" rx="1.55" ry="1.35" fill="#1c6470"/>
<polyline points="29.99,286.06 32.88,283.69 35.78,283.54 38.67,282.08 41.57,278.33 44.46,276.19 47.36,275.17 50.25,273.90 53.15,272.88 56.04,269.82 58.93,268.09 61.83,266.34 64.72,264.59 67.62,262.84 70.51,261.09 73.41,259.34 76.30,257.59 79.20,255.84 82.09,254.09 84.99,252.34 87.88,250.59 90.77,248.84 93.67,247.09 96.56,245.34 99.46,243.59 102.35,241.84 105.25,240.09 108.14,238.34 111.04,236.73 113.93,235.62 116.82,234.52 119.72,233.41 122.61,232.30 125.51,229.22 128.40,225.90 131.30,222.57 134.19,219.24 137.09,215.92 139.98,212.59 141.80,210.50" fill="none" stroke="#244f8c" stroke-width="0.7"/>
<ellipse cx="29.99" cy="286.06" rx="1.55" ry="1.35" fill="#244f8c"/>
<ellipse cx="32.88" cy="283.69" rx="1.55" ry="1.35" fill="#244f8c"/>
<ellipse cx="35.78" cy="283.54" rx="1.55" ry="1.35" fill="#244f8c"/>
<ellipse cx="38.67" cy="282.08" rx="1.55" ry="1.35" fill="#244f8c"/>
<ellipse cx="41.57" cy="278.33" rx="1.55" ry="1.35" fill="#244f8c"/>
<ellipse cx="44.46" cy="276.19" rx="1.55" ry="1.35" fill="#244f8c"/>
<ellipse cx="47.36" cy="275.17" rx="1.55" ry="1.35" fill="#244f8c"/>
<ellipse cx="50.25" cy="273.90" rx="1.55" ry="1.35" fill="#244f8c"/>
<ellipse cx="53.15" cy="272.88" rx="1.55" ry="1.35" fill="#244f8c"/>
<ellipse cx="56.04" cy="269.82" rx="1.55" ry="1.35" fill="#244f8c"/>
<ellipse cx="58.93" cy="268.09" rx="1.55" ry="1.35" fill="#244f8c"/>
<ellipse cx="61.83" cy="266.34" rx="1.55" ry="1.35" fill="#244f8c"/>
<ellipse cx="64.72" cy="264.59" rx="1.55" ry="1.35" fill="#244f8c"/>
<ellipse cx="67.62" cy="262.84" rx="1.55" ry="1.35" fill="#244f8c"/>
<ellipse cx="70.51" cy="261.09" rx="1.55" ry="1.35" fill="#244f8c"/>
<ellipse cx="73.41" cy="259.34" rx="1.55" ry="1.35" fill="#244f8c"/>
<ellipse cx="76.30" cy="257.59" rx="1.55" ry="1.35" fill="#244f8c"/>
<ellipse cx="79.20" cy="255.84" rx="1.55" ry="1.35" fill="#244f8c"/>
<ellipse cx="82.09" cy="254.09" rx="1.55" ry="1.35" fill="#244f8c"/>
<ellipse cx="84.99" cy="252.34" rx="1.55" ry="1.35" fill="#244f8c"/>
<ellipse cx="87.88" cy="250.59" rx="1.55" ry="1.35" fill="#244f8c"/>
<ellipse cx="90.77" cy="248.84" rx="1.55" ry="1.35" fill="#244f8c"/>
<ellipse cx="93.67" cy="247.09" rx="1.55" ry="1.35" fill="#244f8c"/>
<ellipse cx="96.56" cy="245.34" rx="1.55" ry="1.35" fill="#244f8c"/>
<ellipse cx="99.46" cy="243.59" rx="1.55" ry="1.35" fill="#244f8c"/>
<ellipse cx="102.35" cy="241.84" rx="1.55" ry="1.35" fill="#244f8c"/>
<ellipse cx="105.25" cy="240.09" rx="1.55" ry="1.35" fill="#244f8c"/>
<ellipse cx="108.14" cy="238.34" rx="1.55" ry="1.35" fill="#244f8c"/>
<ellipse cx="111.04" cy="236.73" rx="1.55" ry="1.35" fill="#244f8c"/>
<ellipse cx="113.93" cy="235.62" rx="1.55" ry="1.35" fill="#244f8c"/>
<ellipse cx="116.82" cy="234.52" rx="1.55" ry="1.35" fill="#244f8c"/>
<ellipse cx="119.72" cy="233.41" rx="1.55" ry="1.35" fill="#244f8c"/>
<ellipse cx="122.61" cy="232.30" rx="1.55" ry="1.35" fill="#244f8c"/>
<ellipse cx="125.51" cy="229.22" rx="1.55" ry="1.35" fill="#244f8c"/>
<ellipse cx="128.40" cy="225.90" rx="1.55" ry="1.35" fill="#244f8c"/>
<ellipse cx="131.30" cy="222.57" rx="1.55" ry="1.35" fill="#244f8c"/>
<ellipse cx="134.19" cy="219.24" rx="1.55" ry="1.35" fill="#244f8c"/>
<ellipse cx="137.09" cy="215.92" rx="1.55" ry="1.35" fill="#244f8c"/>
<ellipse cx="139.98" cy="212.59" rx="1.55" ry="1.35" fill="#244f8c"/>
<ellipse cx="141.80" cy="210.50" rx="1.55" ry="1.35" fill="#244f8c"/>
<polyline points="29.99,279.05 32.88,279.31 35.78,280.28 38.67,273.30 41.57,270.75 44.46,270.62 47.36,271.24 50.25,265.99 53.15,266.46 56.04,264.99 58.93,263.22 61.83,261.75 64.72,260.27 67.62,258.79 70.51,257.32 73.41,255.84 76.30,254.37 79.20,252.89 82.09,251.41 84.99,249.94 87.88,248.46 90.77,246.98 93.67,245.51 96.56,244.03 99.46,242.55 102.35,241.08 105.25,239.60 108.14,238.13 111.04,236.73 113.93,235.62 116.82,234.52 119.72,233.41 122.61,232.30 125.51,229.22 128.40,225.90 131.30,222.57 134.19,219.24 137.09,215.92 139.98,212.59 141.80,210.50" fill="none" stroke="#2d3f93" stroke-width="0.7"/>
<ellipse cx="29.99" cy="279.05" rx="1.55" ry="1.35" fill="#2d3f93"/>
<ellipse cx="32.88" cy="279.31" rx="1.55" ry="1.35" fill="#2d3f93"/>
<ellipse cx="35.78" cy="280.28" rx="1.55" ry="1.35" fill="#2d3f93"/>
<ellipse cx="38.67" cy="273.30" rx="1.55" ry="1.35" fill="#2d3f93"/>
<ellipse cx="41.57" cy="270.75" rx="1.55" ry="1.35" fill="#2d3f93"/>
<ellipse cx="44.46" cy="270.62" rx="1.55" ry="1.35" fill="#2d3f93"/>
<ellipse cx="47.36" cy="271.24" rx="1.55" ry="1.35" fill="#2d3f93"/>
<ellipse cx="50.25" cy="265.99" rx="1.55" ry="1.35" fill="#2d3f93"/>
<ellipse cx="53.15" cy="266.46" rx="1.55" ry="1.35" fill="#2d3f93"/>
<ellipse cx="56.04" cy="264.99" rx="1.55" ry="1.35" fill="#2d3f93"/>
<ellipse cx="58.93" cy="263.22" rx="1.55" ry="1.35" fill="#2d3f93"/>
<ellipse cx="61.83" cy="261.75" rx="1.55" ry="1.35" fill="#2d3f93"/>
<ellipse cx="64.72" cy="260.27" rx="1.55" ry="1.35" fill="#2d3f93"/>
<ellipse cx="67.62" cy="258.79" rx="1.55" ry="1.35" fill="#2d3f93"/>
<ellipse cx="70.51" cy="257.32" rx="1.55" ry="1.35" fill="#2d3f93"/>
<ellipse cx="73.41" cy="255.84" rx="1.55" ry="1.35" fill="#2d3f93"/>
<ellipse cx="76.30" cy="254.37" rx="1.55" ry="1.35" fill="#2d3f93"/>
<ellipse cx="79.20" cy="252.89" rx="1.55" ry="1.35" fill="#2d3f93"/>
<ellipse cx="82.09" cy="251.41" rx="1.55" ry="1.35" fill="#2d3f93"/>
<ellipse cx="84.99" cy="249.94" rx="1.55" ry="1.35" fill="#2d3f93"/>
<ellipse cx="87.88" cy="248.46" rx="1.55" ry="1.35" fill="#2d3f93"/>
<ellipse cx="90.77" cy="246.98" rx="1.55" ry="1.35" fill="#2d3f93"/>
<ellipse cx="93.67" cy="245.51" rx="1.55" ry="1.35" fill="#2d3f93"/>
<ellipse cx="96.56" cy="244.03" rx="1.55" ry="1.35" fill="#2d3f93"/>
<ellipse cx="99.46" cy="242.55" rx="1.55" ry="1.35" fill="#2d3f93"/>
<ellipse cx="102.35" cy="241.08" rx="1.55" ry="1.35" fill="#2d3f93"/>
<ellipse cx="105.25" cy="239.60" rx="1.55" ry="1.35" fill="#2d3f93"/>
<ellipse cx="108.14" cy="238.13" rx="1.55" ry="1.35" fill="#2d3f93"/>
<ellipse cx="111.04" cy="236.73" rx="1.55" ry="1.35" fill="#2d3f93"/>
<ellipse cx="113.93" cy="235.62" rx="1.55" ry="1.35" fill="#2d3f93"/>
<ellipse cx="116.82" cy="234.52" rx="1.55" ry="1.35" fill="#2d3f93"/>
<ellipse cx="119.72" cy="233.41" rx="1.55" ry="1.35" fill="#2d3f93"/>
<ellipse cx="122.61" cy="232.30" rx="1.55" ry="1.35" fill="#2d3f93"/>
<ellipse cx="125.51" cy="229.22" rx="1.55" ry="1.35" fill="#2d3f93"/>
<ellipse cx="128.40" cy="225.90" rx="1.55" ry="1.35" fill="#2d3f93"/>
<ellipse cx="131.30" cy="222.57" rx="1.55" ry="1.35" fill="#2d3f93"/>
<ellipse cx="134.19" cy="219.24" rx="1.55" ry="1.35" fill="#2d3f93"/>
<ellipse cx="137.09" cy="215.92" rx="1.55" ry="1.35" fill="#2d3f93"/>
<ellipse cx="139.98" cy="212.59" rx="1.55" ry="1.35" fill="#2d3f93"/>
<ellipse cx="141.80" cy="210.50" rx="1.55" ry="1.35" fill="#2d3f93"/>
<polyline points="29.99,268.27 32.88,268.98 35.78,266.30 38.67,266.19 41.57,264.60 44.46,264.92 47.36,263.31 50.25,261.93 53.15,260.56 56.04,259.39 58.93,258.22 61.83,257.04 64.72,255.86 67.62,254.68 70.51,253.50 73.41,252.32 76.30,251.14 79.20,249.96 82.09,248.78 84.99,247.61 87.88,246.43 90.77,245.25 93.67,244.07 96.56,242.89 99.46,241.71 102.35,240.53 105.25,239.35 108.14,238.18 111.04,237.00 113.93,235.82 116.82,234.64 119.72,233.46 122.61,232.30 125.51,229.22 128.40,225.90 131.30,222.57 134.19,219.24 137.09,215.92 139.98,212.59 141.80,210.50" fill="none" stroke="#2c3c94" stroke-width="0.7"/>
<ellipse cx="29.99" cy="268.27" rx="1.55" ry="1.35" fill="#2c3c94"/>
<ellipse cx="32.88" cy="268.98" rx="1.55" ry="1.35" fill="#2c3c94"/>
<ellipse cx="35.78" cy="266.30" rx="1.55" ry="1.35" fill="#2c3c94"/>
<ellipse cx="38.67" cy="266.19" rx="1.55" ry="1.35" fill="#2c3c94"/>
<ellipse cx="41.57" cy="264.60" rx="1.55" ry="1.35" fill="#2c3c94"/>
<ellipse cx="44.46" cy="264.92" rx="1.55" ry="1.35" fill="#2c3c94"/>
<ellipse cx="47.36" cy="263.31" rx="1.55" ry="1.35" fill="#2c3c94"/>
<ellipse cx="50.25" cy="261.93" rx="1.55" ry="1.35" fill="#2c3c94"/>
<ellipse cx="53.15" cy="260.56" rx="1.55" ry="1.35" fill="#2c3c94"/>
<ellipse cx="56.04" cy="259.39" rx="1.55" ry="1.35" fill="#2c3c94"/>
<ellipse cx="58.93" cy="258.22" rx="1.55" ry="1.35" fill="#2c3c94"/>
<ellipse cx="61.83" cy="257.04" rx="1.55" ry="1.35" fill="#2c3c94"/>
<ellipse cx="64.72" cy="255.86" rx="1.55" ry="1.35" fill="#2c3c94"/>
<ellipse cx="67.62" cy="254.68" rx="1.55" ry="1.35" fill="#2c3c94"/>
<ellipse cx="70.51" cy="253.50" rx="1.55" ry="1.35" fill="#2c3c94"/>
<ellipse cx="73.41" cy="252.32" rx="1.55" ry="1.35" fill="#2c3c94"/>
<ellipse cx="76.30" cy="251.14" rx="1.55" ry="1.35" fill="#2c3c94"/>
<ellipse cx="79.20" cy="249.96" rx="1.55" ry="1.35" fill="#2c3c94"/>
<ellipse cx="82.09" cy="248.78" rx="1.55" ry="1.35" fill="#2c3c94"/>
<ellipse cx="84.99" cy="247.61" rx="1.55" ry="1.35" fill="#2c3c94"/>
<ellipse cx="87.88" cy="246.43" rx="1.55" ry="1.35" fill="#2c3c94"/>
<ellipse cx="90.77" cy="245.25" rx="1.55" ry="1.35" fill="#2c3c94"/>
<ellipse cx="93.67" cy="244.07" rx="1.55" ry="1.35" fill="#2c3c94"/>
<ellipse cx="96.56" cy="242.89" rx="1.55" ry="1.35" fill="#2c3c94"/>
<ellipse cx="99.46" cy="241.71" rx="1.55" ry="1.35" fill="#2c3c94"/>
<ellipse cx="102.35" cy="240.53" rx="1.55" ry="1.35" fill="#2c3c94"/>
<ellipse cx="105.25" cy="239.35" rx="1.55" ry="1.35" fill="#2c3c94"/>
<ellipse cx="108.14" cy="238.18" rx="1.55" ry="1.35" fill="#2c3c94"/>
<ellipse cx="111.04" cy="237.00" rx="1.55" ry="1.35" fill="#2c3c94"/>
<ellipse cx="113.93" cy="235.82" rx="1.55" ry="1.35" fill="#2c3c94"/>
<ellipse cx="116.82" cy="234.64" rx="1.55" ry="1.35" fill="#2c3c94"/>
<ellipse cx="119.72" cy="233.46" rx="1.55" ry="1.35" fill="#2c3c94"/>
<ellipse cx="122.61" cy="232.30" rx="1.55" ry="1.35" fill="#2c3c94"/>
<ellipse cx="125.51" cy="229.22" rx="1.55" ry="1.35" fill="#2c3c94"/>
<ellipse cx="128.40" cy="225.90" rx="1.55" ry="1.35" fill="#2c3c94"/>
<ellipse cx="131.30" cy="222.57" rx="1.55" ry="1.35" fill="#2c3c94"/>
<ellipse cx="134.19" cy="219.24" rx="1.55" ry="1.35" fill="#2c3c94"/>
<ellipse cx="137.09" cy="215.92" rx="1.55" ry="1.35" fill="#2c3c94"/>
<ellipse cx="139.98" cy="212.59" rx="1.55" ry="1.35" fill="#2c3c94"/>
<ellipse cx="141.80" cy="210.50" rx="1.55" ry="1.35" fill="#2c3c94"/>
<polyline points="29.99,267.44 32.88,265.48 35.78,265.07 38.67,264.15 41.57,263.46 44.46,262.89 47.36,260.97 50.25,259.78 53.15,258.53 56.04,257.75 58.93,256.53 61.83,255.42 64.72,254.32 67.62,253.22 70.51,252.12 73.41,251.02 76.30,249.91 79.20,248.81 82.09,247.71 84.99,246.61 87.88,245.51 90.77,244.41 93.67,243.31 96.56,242.21 99.46,241.11 102.35,240.01 105.25,238.91 108.14,237.80 111.04,236.70 113.93,235.60 116.82,234.50 119.72,233.40 122.61,232.30 125.51,229.22 128.40,225.90 131.30,222.57 134.19,219.24 137.09,215.92 139.98,212.59 141.80,210.50" fill="none" stroke="#2b3b95" stroke-width="0.7"/>
<ellipse cx="29.99" cy="267.44" rx="1.55" ry="1.35" fill="#2b3b95"/>
<ellipse cx="32.88" cy="265.48" rx="1.55" ry="1.35" fill="#2b3b95"/>
<ellipse cx="35.78" cy="265.07" rx="1.55" ry="1.35" fill="#2b3b95"/>
<ellipse cx="38.67" cy="264.15" rx="1.55" ry="1.35" fill="#2b3b95"/>
<ellipse cx="41.57" cy="263.46" rx="1.55" ry="1.35" fill="#2b3b95"/>
<ellipse cx="44.46" cy="262.89" rx="1.55" ry="1.35" fill="#2b3b95"/>
<ellipse cx="47.36" cy="260.97" rx="1.55" ry="1.35" fill="#2b3b95"/>
<ellipse cx="50.25" cy="259.78" rx="1.55" ry="1.35" fill="#2b3b95"/>
<ellipse cx="53.15" cy="258.53" rx="1.55" ry="1.35" fill="#2b3b95"/>
<ellipse cx="56.04" cy="257.75" rx="1.55" ry="1.35" fill="#2b3b95"/>
<ellipse cx="58.93" cy="256.53" rx="1.55" ry="1.35" fill="#2b3b95"/>
<ellipse cx="61.83" cy="255.42" rx="1.55" ry="1.35" fill="#2b3b95"/>
<ellipse cx="64.72" cy="254.32" rx="1.55" ry="1.35" fill="#2b3b95"/>
<ellipse cx="67.62" cy="253.22" rx="1.55" ry="1.35" fill="#2b3b95"/>
<ellipse cx="70.51" cy="252.12" rx="1.55" ry="1.35" fill="#2b3b95"/>
<ellipse cx="73.41" cy="251.02" rx="1.55" ry="1.35" fill="#2b3b95"/>
<ellipse cx="76.30" cy="249.91" rx="1.55" ry="1.35" fill="#2b3b95"/>
<ellipse cx="79.20" cy="248.81" rx="1.55" ry="1.35" fill="#2b3b95"/>
<ellipse cx="82.09" cy="247.71" rx="1.55" ry="1.35" fill="#2b3b95"/>
<ellipse cx="84.99" cy="246.61" rx="1.55" ry="1.35" fill="#2b3b95"/>
<ellipse cx="87.88" cy="245.51" rx="1.55" ry="1.35" fill="#2b3b95"/>
<ellipse cx="90.77" cy="244.41" rx="1.55" ry="1.35" fill="#2b3b95"/>
<ellipse cx="93.67" cy="243.31" rx="1.55" ry="1.35" fill="#2b3b95"/>
<ellipse cx="96.56" cy="242.21" rx="1.55" ry="1.35" fill="#2b3b95"/>
<ellipse cx="99.46" cy="241.11" rx="1.55" ry="1.35" fill="#2b3b95"/>
<ellipse cx="102.35" cy="240.01" rx="1.55" ry="1.35" fill="#2b3b95"/>
<ellipse cx="105.25" cy="238.91" rx="1.55" ry="1.35" fill="#2b3b95"/>
<ellipse cx="108.14" cy="237.80" rx="1.55" ry="1.35" fill="#2b3b95"/>
<ellipse cx="111.04" cy="236.70" rx="1.55" ry="1.35" fill="#2b3b95"/>
<ellipse cx="113.93" cy="235.60" rx="1.55" ry="1.35" fill="#2b3b95"/>
<ellipse cx="116.82" cy="234.50" rx="1.55" ry="1.35" fill="#2b3b95"/>
<ellipse cx="119.72" cy="233.40" rx="1.55" ry="1.35" fill="#2b3b95"/>
<ellipse cx="122.61" cy="232.30" rx="1.55" ry="1.35" fill="#2b3b95"/>
<ellipse cx="125.51" cy="229.22" rx="1.55" ry="1.35" fill="#2b3b95"/>
<ellipse cx="128.40" cy="225.90" rx="1.55" ry="1.35" fill="#2b3b95"/>
<ellipse cx="131.30" cy="222.57" rx="1.55" ry="1.35" fill="#2b3b95"/>
<ellipse cx="134.19" cy="219.24" rx="1.55" ry="1.35" fill="#2b3b95"/>
<ellipse cx="137.09" cy="215.92" rx="1.55" ry="1.35" fill="#2b3b95"/>
<ellipse cx="139.98" cy="212.59" rx="1.55" ry="1.35" fill="#2b3b95"/>
<ellipse cx="141.80" cy="210.50" rx="1.55" ry="1.35" fill="#2b3b95"/>
<polyline points="29.99,265.67 32.88,264.87 35.78,262.38 38.67,261.79 41.57,261.07 44.46,259.80 47.36,259.13 50.25,258.48 53.15,256.94 56.04,256.15 58.93,255.21 61.83,254.18 64.72,253.14 67.62,252.09 70.51,251.05 73.41,250.01 76.30,248.97 79.20,247.93 82.09,246.89 84.99,245.85 87.88,244.81 90.77,243.77 93.67,242.72 96.56,241.68 99.46,240.64 102.35,239.60 105.25,238.56 108.14,237.52 111.04,236.48 113.93,235.44 116.82,234.40 119.72,233.35 122.61,232.30 125.51,229.22 128.40,225.90 131.30,222.57 134.19,219.24 137.09,215.92 139.98,212.59 141.80,210.50" fill="none" stroke="#2b3b95" stroke-width="0.7"/>
<ellipse cx="29.99" cy="265.67" rx="1.55" ry="1.35" fill="#2b3b95"/>
<ellipse cx="32.88" cy="264.87" rx="1.55" ry="1.35" fill="#2b3b95"/>
<ellipse cx="35.78" cy="262.38" rx="1.55" ry="1.35" fill="#2b3b95"/>
<ellipse cx="38.67" cy="261.79" rx="1.55" ry="1.35" fill="#2b3b95"/>
<ellipse cx="41.57" cy="261.07" rx="1.55" ry="1.35" fill="#2b3b95"/>
<ellipse cx="44.46" cy="259.80" rx="1.55" ry="1.35" fill="#2b3b95"/>
<ellipse cx="47.36" cy="259.13" rx="1.55" ry="1.35" fill="#2b3b95"/>
<ellipse cx="50.25" cy="258.48" rx="1.55" ry="1.35" fill="#2b3b95"/>
<ellipse cx="53.15" cy="256.94" rx="1.55" ry="1.35" fill="#2b3b95"/>
<ellipse cx="56.04" cy="256.15" rx="1.55" ry="1.35" fill="#2b3b95"/>
<ellipse cx="58.93" cy="255.21" rx="1.55" ry="1.35" fill="#2b3b95"/>
<ellipse cx="61.83" cy="254.18" rx="1.55" ry="1.35" fill="#2b3b95"/>
<ellipse cx="64.72" cy="253.14" rx="1.55" ry="1.35" fill="#2b3b95"/>
<ellipse cx="67.62" cy="252.09" rx="1.55" ry="1.35" fill="#2b3b95"/>
<ellipse cx="70.51" cy="251.05" rx="1.55" ry="1.35" fill="#2b3b95"/>
<ellipse cx="73.41" cy="250.01" rx="1.55" ry="1.35" fill="#2b3b95"/>
<ellipse cx="76.30" cy="248.97" rx="1.55" ry="1.35" fill="#2b3b95"/>
<ellipse cx="79.20" cy="247.93" rx="1.55" ry="1.35" fill="#2b3b95"/>
<ellipse cx="82.09" cy="246.89" rx="1.55" ry="1.35" fill="#2b3b95"/>
<ellipse cx="84.99" cy="245.85" rx="1.55" ry="1.35" fill="#2b3b95"/>
<ellipse cx="87.88" cy="244.81" rx="1.55" ry="1.35" fill="#2b3b95"/>
<ellipse cx="90.77" cy="243.77" rx="1.55" ry="1.35" fill="#2b3b95"/>
<ellipse cx="93.67" cy="242.72" rx="1.55" ry="1.35" fill="#2b3b95"/>
<ellipse cx="96.56" cy="241.68" rx="1.55" ry="1.35" fill="#2b3b95"/>
<ellipse cx="99.46" cy="240.64" rx="1.55" ry="1.35" fill="#2b3b95"/>
<ellipse cx="102.35" cy="239.60" rx="1.55" ry="1.35" fill="#2b3b95"/>
<ellipse cx="105.25" cy="238.56" rx="1.55" ry="1.35" fill="#2b3b95"/>
<ellipse cx="108.14" cy="237.52" rx="1.55" ry="1.35" fill="#2b3b95"/>
<ellipse cx="111.04" cy="236.48" rx="1.55" ry="1.35" fill="#2b3b95"/>
<ellipse cx="113.93" cy="235.44" rx="1.55" ry="1.35" fill="#2b3b95"/>
<ellipse cx="116.82" cy="234.40" rx="1.55" ry="1.35" fill="#2b3b95"/>
<ellipse cx="119.72" cy="233.35" rx="1.55" ry="1.35" fill="#2b3b95"/>
<ellipse cx="122.61" cy="232.30" rx="1.55" ry="1.35" fill="#2b3b95"/>
<ellipse cx="125.51" cy="229.22" rx="1.55" ry="1.35" fill="#2b3b95"/>
<ellipse cx="128.40" cy="225.90" rx="1.55" ry="1.35" fill="#2b3b95"/>
<ellipse cx="131.30" cy="222.57" rx="1.55" ry="1.35" fill="#2b3b95"/>
<ellipse cx="134.19" cy="219.24" rx="1.55" ry="1.35" fill="#2b3b95"/>
<ellipse cx="137.09" cy="215.92" rx="1.55" ry="1.35" fill="#2b3b95"/>
<ellipse cx="139.98" cy="212.59" rx="1.55" ry="1.35" fill="#2b3b95"/>
<ellipse cx="141.80" cy="210.50" rx="1.55" ry="1.35" fill="#2b3b95"/>
<ellipse cx="109.2" cy="234.3" rx="1.5" ry="1.3" fill="#2b3b95"/>
</g>
<rect x="26" y="210.5" width="115.80000000000001" height="133.10000000000002" fill="none" stroke="#8a8a8a" stroke-width="0.7"/>
<line x1="42.56" y1="343.6" x2="42.56" y2="342.1" stroke="#8a8a8a" stroke-width="0.6"/>
<line x1="42.56" y1="210.5" x2="42.56" y2="212.0" stroke="#8a8a8a" stroke-width="0.6"/>
<line x1="75.64" y1="343.6" x2="75.64" y2="342.1" stroke="#8a8a8a" stroke-width="0.6"/>
<line x1="75.64" y1="210.5" x2="75.64" y2="212.0" stroke="#8a8a8a" stroke-width="0.6"/>
<line x1="108.72" y1="343.6" x2="108.72" y2="342.1" stroke="#8a8a8a" stroke-width="0.6"/>
<line x1="108.72" y1="210.5" x2="108.72" y2="212.0" stroke="#8a8a8a" stroke-width="0.6"/>
<line x1="26" y1="229.51" x2="27.5" y2="229.51" stroke="#8a8a8a" stroke-width="0.6"/>
<line x1="141.8" y1="229.51" x2="140.3" y2="229.51" stroke="#8a8a8a" stroke-width="0.6"/>
<line x1="26" y1="248.52" x2="27.5" y2="248.52" stroke="#8a8a8a" stroke-width="0.6"/>
<line x1="141.8" y1="248.52" x2="140.3" y2="248.52" stroke="#8a8a8a" stroke-width="0.6"/>
<line x1="26" y1="267.53" x2="27.5" y2="267.53" stroke="#8a8a8a" stroke-width="0.6"/>
<line x1="141.8" y1="267.53" x2="140.3" y2="267.53" stroke="#8a8a8a" stroke-width="0.6"/>
<line x1="26" y1="286.54" x2="27.5" y2="286.54" stroke="#8a8a8a" stroke-width="0.6"/>
<line x1="141.8" y1="286.54" x2="140.3" y2="286.54" stroke="#8a8a8a" stroke-width="0.6"/>
<line x1="26" y1="305.55" x2="27.5" y2="305.55" stroke="#8a8a8a" stroke-width="0.6"/>
<line x1="141.8" y1="305.55" x2="140.3" y2="305.55" stroke="#8a8a8a" stroke-width="0.6"/>
<line x1="26" y1="324.56" x2="27.5" y2="324.56" stroke="#8a8a8a" stroke-width="0.6"/>
<line x1="141.8" y1="324.56" x2="140.3" y2="324.56" stroke="#8a8a8a" stroke-width="0.6"/>
<text transform="translate(24.20 213.50) scale(1.15 1)" font-size="8.4" text-anchor="end" font-weight="normal" fill="#222" stroke="#222" stroke-width="0.24">0</text>
<text transform="translate(24.20 232.51) scale(1.15 1)" font-size="8.4" text-anchor="end" font-weight="normal" fill="#222" stroke="#222" stroke-width="0.24">-10</text>
<text transform="translate(24.20 251.52) scale(1.15 1)" font-size="8.4" text-anchor="end" font-weight="normal" fill="#222" stroke="#222" stroke-width="0.24">-20</text>
<text transform="translate(24.20 270.53) scale(1.15 1)" font-size="8.4" text-anchor="end" font-weight="normal" fill="#222" stroke="#222" stroke-width="0.24">-30</text>
<text transform="translate(24.20 289.54) scale(1.15 1)" font-size="8.4" text-anchor="end" font-weight="normal" fill="#222" stroke="#222" stroke-width="0.24">-40</text>
<text transform="translate(24.20 308.55) scale(1.15 1)" font-size="8.4" text-anchor="end" font-weight="normal" fill="#222" stroke="#222" stroke-width="0.24">-50</text>
<text transform="translate(24.20 327.56) scale(1.15 1)" font-size="8.4" text-anchor="end" font-weight="normal" fill="#222" stroke="#222" stroke-width="0.24">-60</text>
<text transform="translate(24.20 346.57) scale(1.15 1)" font-size="8.4" text-anchor="end" font-weight="normal" fill="#222" stroke="#222" stroke-width="0.24">-70</text>
<text transform="translate(42.56 351.90) scale(1.15 1)" font-size="8.4" text-anchor="middle" font-weight="normal" fill="#222" stroke="#222" stroke-width="0.24">-60</text>
<text transform="translate(75.64 351.90) scale(1.15 1)" font-size="8.4" text-anchor="middle" font-weight="normal" fill="#222" stroke="#222" stroke-width="0.24">-40</text>
<text transform="translate(108.72 351.90) scale(1.15 1)" font-size="8.4" text-anchor="middle" font-weight="normal" fill="#222" stroke="#222" stroke-width="0.24">-20</text>
<text transform="translate(141.80 351.90) scale(1.15 1)" font-size="8.4" text-anchor="middle" font-weight="normal" fill="#222" stroke="#222" stroke-width="0.24">0</text>
<text transform="translate(84.00 361.50) scale(1.08 1)" font-size="8.8" text-anchor="middle" font-weight="normal" fill="#222" stroke="#222" stroke-width="0.2">Excitation amplitude [dB]</text>
<text transform="translate(8.30 276.00) rotate(-90) scale(1.08 1)" font-size="8.8" text-anchor="middle" font-weight="normal" fill="#222" stroke="#222" stroke-width="0.2">Response amplitude [dB]</text>
<text transform="translate(5.80 213.50)" font-size="9.4" text-anchor="start" font-weight="normal" fill="#222" stroke="#222" stroke-width="0.45">c)</text>
<rect x="146.9" y="210.10" width="19.599999999999994" height="14.20" fill="#2b3b95"/>
<rect x="146.9" y="224.00" width="19.599999999999994" height="10.10" fill="#2b3b95"/>
<rect x="146.9" y="233.80" width="19.599999999999994" height="10.55" fill="#2c3c94"/>
<rect x="146.9" y="244.05" width="19.599999999999994" height="10.20" fill="#2d3f93"/>
<rect x="146.9" y="253.95" width="19.599999999999994" height="11.15" fill="#244f8c"/>
<rect x="146.9" y="264.80" width="19.599999999999994" height="12.25" fill="#1c6470"/>
<rect x="146.9" y="276.75" width="19.599999999999994" height="11.50" fill="#197a50"/>
<rect x="146.9" y="287.95" width="19.599999999999994" height="11.15" fill="#1b8945"/>
<rect x="146.9" y="298.80" width="19.599999999999994" height="11.50" fill="#1e9447"/>
<rect x="146.9" y="310.00" width="19.599999999999994" height="11.50" fill="#26a04c"/>
<rect x="146.9" y="321.20" width="19.599999999999994" height="10.95" fill="#33aa53"/>
<rect x="146.9" y="331.85" width="19.599999999999994" height="10.45" fill="#4db95d"/>
<rect x="146.9" y="210.1" width="19.599999999999994" height="131.9" fill="none" stroke="#333" stroke-width="0.7"/>
<text transform="translate(156.70 221.80)" font-size="6.7" text-anchor="middle" font-weight="bold" fill="#f4f4f4" >1.046</text>
<text transform="translate(156.70 231.00)" font-size="6.7" text-anchor="middle" font-weight="bold" fill="#f4f4f4" >1.042</text>
<text transform="translate(156.70 241.40)" font-size="6.7" text-anchor="middle" font-weight="bold" fill="#f4f4f4" >1.030</text>
<text transform="translate(156.70 251.50)" font-size="6.7" text-anchor="middle" font-weight="bold" fill="#f4f4f4" >1.013</text>
<text transform="translate(156.70 261.20)" font-size="6.7" text-anchor="middle" font-weight="bold" fill="#f4f4f4" >1.004</text>
<text transform="translate(156.70 273.20)" font-size="6.7" text-anchor="middle" font-weight="bold" fill="#f4f4f4" >1</text>
<text transform="translate(156.70 285.10)" font-size="6.7" text-anchor="middle" font-weight="bold" fill="#f4f4f4" >0.983</text>
<text transform="translate(156.70 295.60)" font-size="6.7" text-anchor="middle" font-weight="bold" fill="#f4f4f4" >0.949</text>
<text transform="translate(156.70 306.80)" font-size="6.7" text-anchor="middle" font-weight="bold" fill="#f4f4f4" >0.844</text>
<text transform="translate(156.70 318.00)" font-size="6.7" text-anchor="middle" font-weight="bold" fill="#f4f4f4" >0.717</text>
<text transform="translate(156.70 329.20)" font-size="6.7" text-anchor="middle" font-weight="bold" fill="#f4f4f4" >0.506</text>
<text transform="translate(156.70 339.30)" font-size="6.7" text-anchor="middle" font-weight="bold" fill="#f4f4f4" >0</text>
<text transform="translate(155.20 207.50)" font-size="7.0" text-anchor="middle" font-weight="normal" fill="#222" stroke="#222" stroke-width="0.2">G<tspan font-size="5" dy="1.6">0</tspan></text>
<line x1="239.30" y1="209.5" x2="239.30" y2="342.3" stroke="#e3e3e3" stroke-width="0.6"/>
<line x1="268.90" y1="209.5" x2="268.90" y2="342.3" stroke="#e3e3e3" stroke-width="0.6"/>
<line x1="298.50" y1="209.5" x2="298.50" y2="342.3" stroke="#e3e3e3" stroke-width="0.6"/>
<line x1="209.5" y1="231.63" x2="328.1" y2="231.63" stroke="#e3e3e3" stroke-width="0.6"/>
<line x1="209.5" y1="253.76" x2="328.1" y2="253.76" stroke="#e3e3e3" stroke-width="0.6"/>
<line x1="209.5" y1="275.89" x2="328.1" y2="275.89" stroke="#e3e3e3" stroke-width="0.6"/>
<line x1="209.5" y1="298.02" x2="328.1" y2="298.02" stroke="#e3e3e3" stroke-width="0.6"/>
<line x1="209.5" y1="320.15" x2="328.1" y2="320.15" stroke="#e3e3e3" stroke-width="0.6"/>
<clipPath id="cd"><rect x="209.5" y="207.5" width="120.60000000000002" height="134.3"/></clipPath>
<g clip-path="url(#cd)">
<circle cx="210.74" cy="384.99" r="1.25" fill="#f9b560"/>
<circle cx="213.40" cy="381.01" r="1.25" fill="#f9b560"/>
<circle cx="216.06" cy="377.02" r="1.25" fill="#f9b560"/>
<circle cx="218.73" cy="373.04" r="1.25" fill="#f9b560"/>
<circle cx="221.39" cy="369.06" r="1.25" fill="#f9b560"/>
<circle cx="224.06" cy="365.07" r="1.25" fill="#f9b560"/>
<circle cx="226.72" cy="361.09" r="1.25" fill="#f9b560"/>
<circle cx="229.38" cy="357.11" r="1.25" fill="#f9b560"/>
<circle cx="232.05" cy="353.12" r="1.25" fill="#f9b560"/>
<circle cx="234.71" cy="349.14" r="1.25" fill="#f9b560"/>
<circle cx="237.38" cy="345.16" r="1.25" fill="#f9b560"/>
<circle cx="240.04" cy="341.17" r="1.25" fill="#f9b560"/>
<circle cx="242.70" cy="337.19" r="1.25" fill="#f9b560"/>
<circle cx="245.37" cy="333.21" r="1.25" fill="#f9b560"/>
<circle cx="248.03" cy="329.22" r="1.25" fill="#f9b560"/>
<circle cx="250.70" cy="325.24" r="1.25" fill="#f9b560"/>
<circle cx="253.36" cy="321.26" r="1.25" fill="#f9b560"/>
<circle cx="256.02" cy="317.27" r="1.25" fill="#f9b560"/>
<circle cx="258.69" cy="313.29" r="1.25" fill="#f9b560"/>
<circle cx="261.35" cy="309.31" r="1.25" fill="#f9b560"/>
<circle cx="264.02" cy="305.32" r="1.25" fill="#f9b560"/>
<circle cx="266.68" cy="301.34" r="1.25" fill="#f9b560"/>
<circle cx="269.34" cy="297.36" r="1.25" fill="#f9b560"/>
<circle cx="272.01" cy="293.37" r="1.25" fill="#f9b560"/>
<circle cx="274.67" cy="289.39" r="1.25" fill="#f9b560"/>
<circle cx="277.34" cy="285.41" r="1.25" fill="#f9b560"/>
<circle cx="280.00" cy="281.42" r="1.25" fill="#f9b560"/>
<circle cx="282.66" cy="277.44" r="1.25" fill="#f9b560"/>
<circle cx="285.33" cy="273.46" r="1.25" fill="#f9b560"/>
<circle cx="287.99" cy="269.47" r="1.25" fill="#f9b560"/>
<circle cx="290.66" cy="265.49" r="1.25" fill="#f9b560"/>
<circle cx="293.32" cy="261.51" r="1.25" fill="#f9b560"/>
<circle cx="295.98" cy="257.52" r="1.25" fill="#f9b560"/>
<circle cx="298.65" cy="253.54" r="1.25" fill="#f9b560"/>
<circle cx="301.31" cy="249.56" r="1.25" fill="#f9b560"/>
<circle cx="303.98" cy="245.57" r="1.25" fill="#f9b560"/>
<circle cx="306.64" cy="241.59" r="1.25" fill="#f9b560"/>
<polyline points="210.74,314.70 213.40,310.97 216.06,307.39 218.73,303.96 221.39,300.66 224.06,297.51 226.72,294.92 229.38,292.54 232.05,290.29 234.71,288.16 237.38,286.14 240.04,284.21 242.70,282.39 245.37,280.67 248.03,278.88 250.70,277.01 253.36,275.22 256.02,273.52 258.69,271.93 261.35,270.43 264.02,269.00 266.68,267.64 269.34,266.27 272.01,264.93 274.67,263.64 277.34,262.39 280.00,261.19 282.66,259.75 285.33,258.24 287.99,256.76 290.66,255.30 293.32,253.85 295.98,252.43 298.65,250.38 301.31,247.94 303.98,245.50 306.64,241.45 309.30,236.33 312.06,232.07 314.81,228.36 317.56,224.46 320.32,220.50 323.07,216.56 325.82,212.65" fill="none" stroke="#ee8a52" stroke-width="0.6"/>
<circle cx="210.74" cy="314.70" r="1.3" fill="#ee8a52"/>
<circle cx="213.40" cy="310.97" r="1.3" fill="#ee8a52"/>
<circle cx="216.06" cy="307.39" r="1.3" fill="#ee8a52"/>
<circle cx="218.73" cy="303.96" r="1.3" fill="#ee8a52"/>
<circle cx="221.39" cy="300.66" r="1.3" fill="#ee8a52"/>
<circle cx="224.06" cy="297.51" r="1.3" fill="#ee8a52"/>
<circle cx="226.72" cy="294.92" r="1.3" fill="#ee8a52"/>
<circle cx="229.38" cy="292.54" r="1.3" fill="#ee8a52"/>
<circle cx="232.05" cy="290.29" r="1.3" fill="#ee8a52"/>
<circle cx="234.71" cy="288.16" r="1.3" fill="#ee8a52"/>
<circle cx="237.38" cy="286.14" r="1.3" fill="#ee8a52"/>
<circle cx="240.04" cy="284.21" r="1.3" fill="#ee8a52"/>
<circle cx="242.70" cy="282.39" r="1.3" fill="#ee8a52"/>
<circle cx="245.37" cy="280.67" r="1.3" fill="#ee8a52"/>
<circle cx="248.03" cy="278.88" r="1.3" fill="#ee8a52"/>
<circle cx="250.70" cy="277.01" r="1.3" fill="#ee8a52"/>
<circle cx="253.36" cy="275.22" r="1.3" fill="#ee8a52"/>
<circle cx="256.02" cy="273.52" r="1.3" fill="#ee8a52"/>
<circle cx="258.69" cy="271.93" r="1.3" fill="#ee8a52"/>
<circle cx="261.35" cy="270.43" r="1.3" fill="#ee8a52"/>
<circle cx="264.02" cy="269.00" r="1.3" fill="#ee8a52"/>
<circle cx="266.68" cy="267.64" r="1.3" fill="#ee8a52"/>
<circle cx="269.34" cy="266.27" r="1.3" fill="#ee8a52"/>
<circle cx="272.01" cy="264.93" r="1.3" fill="#ee8a52"/>
<circle cx="274.67" cy="263.64" r="1.3" fill="#ee8a52"/>
<circle cx="277.34" cy="262.39" r="1.3" fill="#ee8a52"/>
<circle cx="280.00" cy="261.19" r="1.3" fill="#ee8a52"/>
<circle cx="282.66" cy="259.75" r="1.3" fill="#ee8a52"/>
<circle cx="285.33" cy="258.24" r="1.3" fill="#ee8a52"/>
<circle cx="287.99" cy="256.76" r="1.3" fill="#ee8a52"/>
<circle cx="290.66" cy="255.30" r="1.3" fill="#ee8a52"/>
<circle cx="293.32" cy="253.85" r="1.3" fill="#ee8a52"/>
<circle cx="295.98" cy="252.43" r="1.3" fill="#ee8a52"/>
<circle cx="298.65" cy="250.38" r="1.3" fill="#ee8a52"/>
<circle cx="301.31" cy="247.94" r="1.3" fill="#ee8a52"/>
<circle cx="303.98" cy="245.50" r="1.3" fill="#ee8a52"/>
<circle cx="306.64" cy="241.45" r="1.3" fill="#ee8a52"/>
<circle cx="309.30" cy="236.33" r="1.3" fill="#ee8a52"/>
<circle cx="312.06" cy="232.07" r="1.3" fill="#ee8a52"/>
<circle cx="314.81" cy="228.36" r="1.3" fill="#ee8a52"/>
<circle cx="317.56" cy="224.46" r="1.3" fill="#ee8a52"/>
<circle cx="320.32" cy="220.50" r="1.3" fill="#ee8a52"/>
<circle cx="323.07" cy="216.56" r="1.3" fill="#ee8a52"/>
<circle cx="325.82" cy="212.65" r="1.3" fill="#ee8a52"/>
<polyline points="210.74,314.67 213.40,310.87 216.06,307.21 218.73,303.70 221.39,300.33 224.06,297.09 226.72,294.21 229.38,291.51 232.05,288.92 234.71,286.45 237.38,284.10 240.04,281.84 242.70,279.70 245.37,277.65 248.03,275.61 250.70,273.57 253.36,271.63 256.02,269.76 258.69,267.99 261.35,266.30 264.02,264.68 266.68,263.12 269.34,261.59 272.01,260.10 274.67,258.67 277.34,257.27 280.00,255.92 282.66,254.47 285.33,252.99 287.99,251.54 290.66,250.12 293.32,248.71 295.98,247.31 298.65,245.61 301.31,243.71 303.98,241.80 306.64,239.08 309.30,235.44 312.06,231.78 314.81,228.12 317.56,224.27 320.32,220.36 323.07,216.47 325.82,212.61" fill="none" stroke="#8f5b3a" stroke-width="0.6"/>
<circle cx="210.74" cy="314.67" r="1.35" fill="#8f5b3a"/>
<circle cx="213.40" cy="310.87" r="1.35" fill="#8f5b3a"/>
<circle cx="216.06" cy="307.21" r="1.35" fill="#8f5b3a"/>
<circle cx="218.73" cy="303.70" r="1.35" fill="#8f5b3a"/>
<circle cx="221.39" cy="300.33" r="1.35" fill="#8f5b3a"/>
<circle cx="224.06" cy="297.09" r="1.35" fill="#8f5b3a"/>
<circle cx="226.72" cy="294.21" r="1.35" fill="#8f5b3a"/>
<circle cx="229.38" cy="291.51" r="1.35" fill="#8f5b3a"/>
<circle cx="232.05" cy="288.92" r="1.35" fill="#8f5b3a"/>
<circle cx="234.71" cy="286.45" r="1.35" fill="#8f5b3a"/>
<circle cx="237.38" cy="284.10" r="1.35" fill="#8f5b3a"/>
<circle cx="240.04" cy="281.84" r="1.35" fill="#8f5b3a"/>
<circle cx="242.70" cy="279.70" r="1.35" fill="#8f5b3a"/>
<circle cx="245.37" cy="277.65" r="1.35" fill="#8f5b3a"/>
<circle cx="248.03" cy="275.61" r="1.35" fill="#8f5b3a"/>
<circle cx="250.70" cy="273.57" r="1.35" fill="#8f5b3a"/>
<circle cx="253.36" cy="271.63" r="1.35" fill="#8f5b3a"/>
<circle cx="256.02" cy="269.76" r="1.35" fill="#8f5b3a"/>
<circle cx="258.69" cy="267.99" r="1.35" fill="#8f5b3a"/>
<circle cx="261.35" cy="266.30" r="1.35" fill="#8f5b3a"/>
<circle cx="264.02" cy="264.68" r="1.35" fill="#8f5b3a"/>
<circle cx="266.68" cy="263.12" r="1.35" fill="#8f5b3a"/>
<circle cx="269.34" cy="261.59" r="1.35" fill="#8f5b3a"/>
<circle cx="272.01" cy="260.10" r="1.35" fill="#8f5b3a"/>
<circle cx="274.67" cy="258.67" r="1.35" fill="#8f5b3a"/>
<circle cx="277.34" cy="257.27" r="1.35" fill="#8f5b3a"/>
<circle cx="280.00" cy="255.92" r="1.35" fill="#8f5b3a"/>
<circle cx="282.66" cy="254.47" r="1.35" fill="#8f5b3a"/>
<circle cx="285.33" cy="252.99" r="1.35" fill="#8f5b3a"/>
<circle cx="287.99" cy="251.54" r="1.35" fill="#8f5b3a"/>
<circle cx="290.66" cy="250.12" r="1.35" fill="#8f5b3a"/>
<circle cx="293.32" cy="248.71" r="1.35" fill="#8f5b3a"/>
<circle cx="295.98" cy="247.31" r="1.35" fill="#8f5b3a"/>
<circle cx="298.65" cy="245.61" r="1.35" fill="#8f5b3a"/>
<circle cx="301.31" cy="243.71" r="1.35" fill="#8f5b3a"/>
<circle cx="303.98" cy="241.80" r="1.35" fill="#8f5b3a"/>
<circle cx="306.64" cy="239.08" r="1.35" fill="#8f5b3a"/>
<circle cx="309.30" cy="235.44" r="1.35" fill="#8f5b3a"/>
<circle cx="312.06" cy="231.78" r="1.35" fill="#8f5b3a"/>
<circle cx="314.81" cy="228.12" r="1.35" fill="#8f5b3a"/>
<circle cx="317.56" cy="224.27" r="1.35" fill="#8f5b3a"/>
<circle cx="320.32" cy="220.36" r="1.35" fill="#8f5b3a"/>
<circle cx="323.07" cy="216.47" r="1.35" fill="#8f5b3a"/>
<circle cx="325.82" cy="212.61" r="1.35" fill="#8f5b3a"/>
<polyline points="210.74,314.66 213.40,310.81 216.06,307.11 218.73,303.56 221.39,300.15 224.06,296.87 226.72,293.83 229.38,290.94 232.05,288.18 234.71,285.53 237.38,282.99 240.04,280.56 242.70,278.24 245.37,276.01 248.03,273.84 250.70,271.71 253.36,269.68 256.02,267.72 258.69,265.85 261.35,264.06 264.02,262.34 266.68,260.68 269.34,259.06 272.01,257.49 274.67,255.97 277.34,254.50 280.00,253.07 282.66,251.60 285.33,250.15 287.99,248.72 290.66,247.31 293.32,245.92 295.98,244.54 298.65,243.02 301.31,241.41 303.98,239.80 306.64,237.79 309.30,234.95 312.06,231.62 314.81,227.99 317.56,224.17 320.32,220.29 323.07,216.42 325.82,212.59" fill="none" stroke="#5b3b29" stroke-width="0.6"/>
<circle cx="210.74" cy="314.66" r="1.4" fill="#5b3b29"/>
<circle cx="213.40" cy="310.81" r="1.4" fill="#5b3b29"/>
<circle cx="216.06" cy="307.11" r="1.4" fill="#5b3b29"/>
<circle cx="218.73" cy="303.56" r="1.4" fill="#5b3b29"/>
<circle cx="221.39" cy="300.15" r="1.4" fill="#5b3b29"/>
<circle cx="224.06" cy="296.87" r="1.4" fill="#5b3b29"/>
<circle cx="226.72" cy="293.83" r="1.4" fill="#5b3b29"/>
<circle cx="229.38" cy="290.94" r="1.4" fill="#5b3b29"/>
<circle cx="232.05" cy="288.18" r="1.4" fill="#5b3b29"/>
<circle cx="234.71" cy="285.53" r="1.4" fill="#5b3b29"/>
<circle cx="237.38" cy="282.99" r="1.4" fill="#5b3b29"/>
<circle cx="240.04" cy="280.56" r="1.4" fill="#5b3b29"/>
<circle cx="242.70" cy="278.24" r="1.4" fill="#5b3b29"/>
<circle cx="245.37" cy="276.01" r="1.4" fill="#5b3b29"/>
<circle cx="248.03" cy="273.84" r="1.4" fill="#5b3b29"/>
<circle cx="250.70" cy="271.71" r="1.4" fill="#5b3b29"/>
<circle cx="253.36" cy="269.68" r="1.4" fill="#5b3b29"/>
<circle cx="256.02" cy="267.72" r="1.4" fill="#5b3b29"/>
<circle cx="258.69" cy="265.85" r="1.4" fill="#5b3b29"/>
<circle cx="261.35" cy="264.06" r="1.4" fill="#5b3b29"/>
<circle cx="264.02" cy="262.34" r="1.4" fill="#5b3b29"/>
<circle cx="266.68" cy="260.68" r="1.4" fill="#5b3b29"/>
<circle cx="269.34" cy="259.06" r="1.4" fill="#5b3b29"/>
<circle cx="272.01" cy="257.49" r="1.4" fill="#5b3b29"/>
<circle cx="274.67" cy="255.97" r="1.4" fill="#5b3b29"/>
<circle cx="277.34" cy="254.50" r="1.4" fill="#5b3b29"/>
<circle cx="280.00" cy="253.07" r="1.4" fill="#5b3b29"/>
<circle cx="282.66" cy="251.60" r="1.4" fill="#5b3b29"/>
<circle cx="285.33" cy="250.15" r="1.4" fill="#5b3b29"/>
<circle cx="287.99" cy="248.72" r="1.4" fill="#5b3b29"/>
<circle cx="290.66" cy="247.31" r="1.4" fill="#5b3b29"/>
<circle cx="293.32" cy="245.92" r="1.4" fill="#5b3b29"/>
<circle cx="295.98" cy="244.54" r="1.4" fill="#5b3b29"/>
<circle cx="298.65" cy="243.02" r="1.4" fill="#5b3b29"/>
<circle cx="301.31" cy="241.41" r="1.4" fill="#5b3b29"/>
<circle cx="303.98" cy="239.80" r="1.4" fill="#5b3b29"/>
<circle cx="306.64" cy="237.79" r="1.4" fill="#5b3b29"/>
<circle cx="309.30" cy="234.95" r="1.4" fill="#5b3b29"/>
<circle cx="312.06" cy="231.62" r="1.4" fill="#5b3b29"/>
<circle cx="314.81" cy="227.99" r="1.4" fill="#5b3b29"/>
<circle cx="317.56" cy="224.17" r="1.4" fill="#5b3b29"/>
<circle cx="320.32" cy="220.29" r="1.4" fill="#5b3b29"/>
<circle cx="323.07" cy="216.42" r="1.4" fill="#5b3b29"/>
<circle cx="325.82" cy="212.59" r="1.4" fill="#5b3b29"/>
<polyline points="210.74,314.64 213.40,310.76 216.06,307.02 218.73,303.43 221.39,299.98 224.06,296.66 226.72,293.48 229.38,290.42 232.05,287.49 234.71,284.68 237.38,281.97 240.04,279.38 242.70,276.89 245.37,274.50 248.03,272.20 250.70,270.00 253.36,267.88 256.02,265.84 258.69,263.88 261.35,262.00 264.02,260.18 266.68,258.42 269.34,256.72 272.01,255.08 274.67,253.49 277.34,251.94 280.00,250.43 282.66,248.96 285.33,247.52 287.99,246.11 290.66,244.72 293.32,243.35 295.98,241.99 298.65,240.64 301.31,239.29 303.98,237.95 306.64,236.60 309.30,234.51 312.06,231.48 314.81,227.88 317.56,224.08 320.32,220.22 323.07,216.37 325.82,212.57" fill="none" stroke="#000000" stroke-width="0.6"/>
<circle cx="210.74" cy="314.64" r="1.6" fill="#000000"/>
<circle cx="213.40" cy="310.76" r="1.6" fill="#000000"/>
<circle cx="216.06" cy="307.02" r="1.6" fill="#000000"/>
<circle cx="218.73" cy="303.43" r="1.6" fill="#000000"/>
<circle cx="221.39" cy="299.98" r="1.6" fill="#000000"/>
<circle cx="224.06" cy="296.66" r="1.6" fill="#000000"/>
<circle cx="226.72" cy="293.48" r="1.6" fill="#000000"/>
<circle cx="229.38" cy="290.42" r="1.6" fill="#000000"/>
<circle cx="232.05" cy="287.49" r="1.6" fill="#000000"/>
<circle cx="234.71" cy="284.68" r="1.6" fill="#000000"/>
<circle cx="237.38" cy="281.97" r="1.6" fill="#000000"/>
<circle cx="240.04" cy="279.38" r="1.6" fill="#000000"/>
<circle cx="242.70" cy="276.89" r="1.6" fill="#000000"/>
<circle cx="245.37" cy="274.50" r="1.6" fill="#000000"/>
<circle cx="248.03" cy="272.20" r="1.6" fill="#000000"/>
<circle cx="250.70" cy="270.00" r="1.6" fill="#000000"/>
<circle cx="253.36" cy="267.88" r="1.6" fill="#000000"/>
<circle cx="256.02" cy="265.84" r="1.6" fill="#000000"/>
<circle cx="258.69" cy="263.88" r="1.6" fill="#000000"/>
<circle cx="261.35" cy="262.00" r="1.6" fill="#000000"/>
<circle cx="264.02" cy="260.18" r="1.6" fill="#000000"/>
<circle cx="266.68" cy="258.42" r="1.6" fill="#000000"/>
<circle cx="269.34" cy="256.72" r="1.6" fill="#000000"/>
<circle cx="272.01" cy="255.08" r="1.6" fill="#000000"/>
<circle cx="274.67" cy="253.49" r="1.6" fill="#000000"/>
<circle cx="277.34" cy="251.94" r="1.6" fill="#000000"/>
<circle cx="280.00" cy="250.43" r="1.6" fill="#000000"/>
<circle cx="282.66" cy="248.96" r="1.6" fill="#000000"/>
<circle cx="285.33" cy="247.52" r="1.6" fill="#000000"/>
<circle cx="287.99" cy="246.11" r="1.6" fill="#000000"/>
<circle cx="290.66" cy="244.72" r="1.6" fill="#000000"/>
<circle cx="293.32" cy="243.35" r="1.6" fill="#000000"/>
<circle cx="295.98" cy="241.99" r="1.6" fill="#000000"/>
<circle cx="298.65" cy="240.64" r="1.6" fill="#000000"/>
<circle cx="301.31" cy="239.29" r="1.6" fill="#000000"/>
<circle cx="303.98" cy="237.95" r="1.6" fill="#000000"/>
<circle cx="306.64" cy="236.60" r="1.6" fill="#000000"/>
<circle cx="309.30" cy="234.51" r="1.6" fill="#000000"/>
<circle cx="312.06" cy="231.48" r="1.6" fill="#000000"/>
<circle cx="314.81" cy="227.88" r="1.6" fill="#000000"/>
<circle cx="317.56" cy="224.08" r="1.6" fill="#000000"/>
<circle cx="320.32" cy="220.22" r="1.6" fill="#000000"/>
<circle cx="323.07" cy="216.37" r="1.6" fill="#000000"/>
<circle cx="325.82" cy="212.57" r="1.6" fill="#000000"/>
</g>
<rect x="209.5" y="209.5" width="118.60000000000002" height="132.8" fill="none" stroke="#8a8a8a" stroke-width="0.7"/>
<line x1="239.30" y1="342.3" x2="239.30" y2="340.8" stroke="#8a8a8a" stroke-width="0.6"/>
<line x1="239.30" y1="209.5" x2="239.30" y2="211.0" stroke="#8a8a8a" stroke-width="0.6"/>
<line x1="268.90" y1="342.3" x2="268.90" y2="340.8" stroke="#8a8a8a" stroke-width="0.6"/>
<line x1="268.90" y1="209.5" x2="268.90" y2="211.0" stroke="#8a8a8a" stroke-width="0.6"/>
<line x1="298.50" y1="342.3" x2="298.50" y2="340.8" stroke="#8a8a8a" stroke-width="0.6"/>
<line x1="298.50" y1="209.5" x2="298.50" y2="211.0" stroke="#8a8a8a" stroke-width="0.6"/>
<line x1="209.5" y1="231.63" x2="211.0" y2="231.63" stroke="#8a8a8a" stroke-width="0.6"/>
<line x1="328.1" y1="231.63" x2="326.6" y2="231.63" stroke="#8a8a8a" stroke-width="0.6"/>
<line x1="209.5" y1="253.76" x2="211.0" y2="253.76" stroke="#8a8a8a" stroke-width="0.6"/>
<line x1="328.1" y1="253.76" x2="326.6" y2="253.76" stroke="#8a8a8a" stroke-width="0.6"/>
<line x1="209.5" y1="275.89" x2="211.0" y2="275.89" stroke="#8a8a8a" stroke-width="0.6"/>
<line x1="328.1" y1="275.89" x2="326.6" y2="275.89" stroke="#8a8a8a" stroke-width="0.6"/>
<line x1="209.5" y1="298.02" x2="211.0" y2="298.02" stroke="#8a8a8a" stroke-width="0.6"/>
<line x1="328.1" y1="298.02" x2="326.6" y2="298.02" stroke="#8a8a8a" stroke-width="0.6"/>
<line x1="209.5" y1="320.15" x2="211.0" y2="320.15" stroke="#8a8a8a" stroke-width="0.6"/>
<line x1="328.1" y1="320.15" x2="326.6" y2="320.15" stroke="#8a8a8a" stroke-width="0.6"/>
<text transform="translate(207.90 212.50) scale(1.15 1)" font-size="8.4" text-anchor="end" font-weight="normal" fill="#222" stroke="#222" stroke-width="0.24">0</text>
<text transform="translate(207.90 234.63) scale(1.15 1)" font-size="8.4" text-anchor="end" font-weight="normal" fill="#222" stroke="#222" stroke-width="0.24">-10</text>
<text transform="translate(207.90 256.76) scale(1.15 1)" font-size="8.4" text-anchor="end" font-weight="normal" fill="#222" stroke="#222" stroke-width="0.24">-20</text>
<text transform="translate(207.90 278.89) scale(1.15 1)" font-size="8.4" text-anchor="end" font-weight="normal" fill="#222" stroke="#222" stroke-width="0.24">-30</text>
<text transform="translate(207.90 301.02) scale(1.15 1)" font-size="8.4" text-anchor="end" font-weight="normal" fill="#222" stroke="#222" stroke-width="0.24">-40</text>
<text transform="translate(207.90 323.15) scale(1.15 1)" font-size="8.4" text-anchor="end" font-weight="normal" fill="#222" stroke="#222" stroke-width="0.24">-50</text>
<text transform="translate(207.90 343.20) scale(1.15 1)" font-size="8.4" text-anchor="end" font-weight="normal" fill="#222" stroke="#222" stroke-width="0.24">-60</text>
<text transform="translate(209.70 351.90) scale(1.15 1)" font-size="8.4" text-anchor="middle" font-weight="normal" fill="#222" stroke="#222" stroke-width="0.24">-80</text>
<text transform="translate(239.30 351.90) scale(1.15 1)" font-size="8.4" text-anchor="middle" font-weight="normal" fill="#222" stroke="#222" stroke-width="0.24">-60</text>
<text transform="translate(268.90 351.90) scale(1.15 1)" font-size="8.4" text-anchor="middle" font-weight="normal" fill="#222" stroke="#222" stroke-width="0.24">-40</text>
<text transform="translate(298.50 351.90) scale(1.15 1)" font-size="8.4" text-anchor="middle" font-weight="normal" fill="#222" stroke="#222" stroke-width="0.24">-20</text>
<text transform="translate(328.10 351.90) scale(1.15 1)" font-size="8.4" text-anchor="middle" font-weight="normal" fill="#222" stroke="#222" stroke-width="0.24">0</text>
<text transform="translate(267.80 361.50) scale(1.08 1)" font-size="8.8" text-anchor="middle" font-weight="normal" fill="#222" stroke="#222" stroke-width="0.2">Excitation amplitude [dB]</text>
<text transform="translate(191.60 276.00) rotate(-90) scale(1.08 1)" font-size="8.8" text-anchor="middle" font-weight="normal" fill="#222" stroke="#222" stroke-width="0.2">Response amplitude [dB]</text>
<text transform="translate(187.60 213.70)" font-size="9.4" text-anchor="start" font-weight="normal" fill="#222" stroke="#222" stroke-width="0.45">d)</text>
<rect x="335.3" y="208.70" width="14.199999999999989" height="27.02" fill="#000000"/>
<text transform="translate(342.80 224.26)" font-size="6.5" text-anchor="middle" font-weight="bold" fill="#f4f4f4" >1</text>
<rect x="335.3" y="235.42" width="14.199999999999989" height="27.02" fill="#5b3b29"/>
<text transform="translate(342.80 250.98)" font-size="6.5" text-anchor="middle" font-weight="bold" fill="#f4f4f4" >0.8</text>
<rect x="335.3" y="262.14" width="14.199999999999989" height="27.02" fill="#8f5b3a"/>
<text transform="translate(342.80 277.70)" font-size="6.5" text-anchor="middle" font-weight="bold" fill="#f4f4f4" >0.6</text>
<rect x="335.3" y="288.86" width="14.199999999999989" height="27.02" fill="#ee8a52"/>
<text transform="translate(342.80 304.42)" font-size="6.5" text-anchor="middle" font-weight="bold" fill="#f4f4f4" >0.4</text>
<rect x="335.3" y="315.58" width="14.199999999999989" height="27.02" fill="#fbbf72"/>
<text transform="translate(342.80 331.14)" font-size="6.5" text-anchor="middle" font-weight="bold" fill="#f4f4f4" >0</text>
<rect x="335.3" y="208.7" width="14.199999999999989" height="133.60000000000002" fill="none" stroke="#333" stroke-width="0.7"/>
<text transform="translate(341.80 205.30)" font-size="7.0" text-anchor="middle" font-weight="normal" fill="#222" stroke="#222" stroke-width="0.2">P<tspan font-size="5.2" dy="1.6">0</tspan></text>
</svg>
</body></html>
